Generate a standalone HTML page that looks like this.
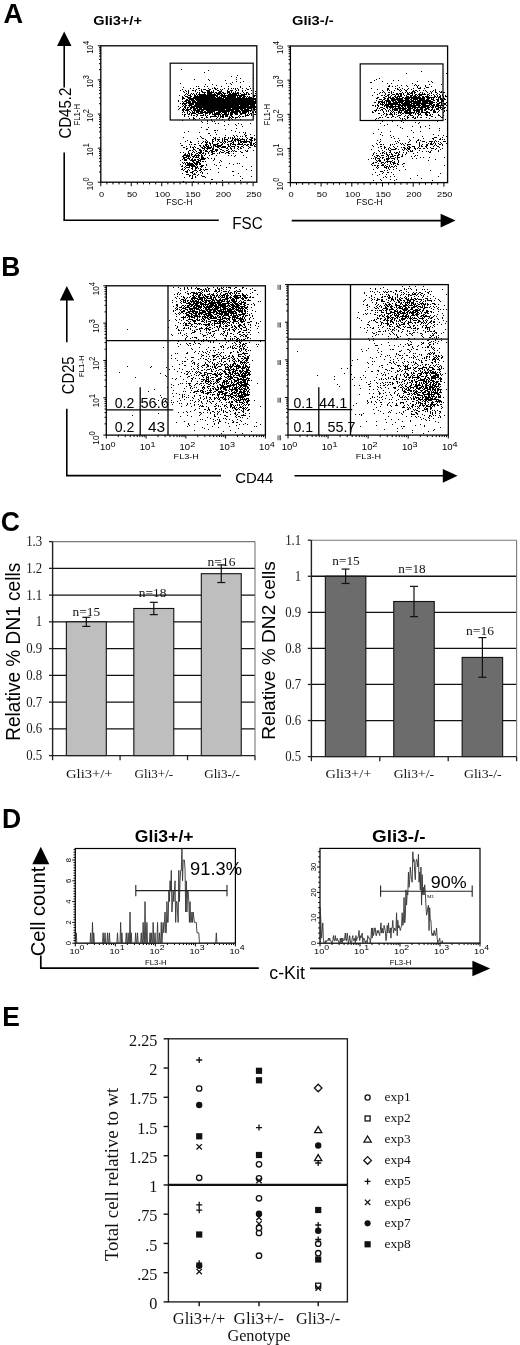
<!DOCTYPE html>
<html><head><meta charset="utf-8"><style>
html,body{margin:0;padding:0;background:#fff;}
body{width:520px;height:1345px;overflow:hidden;}
svg{display:block;filter:blur(0.35px);}
.S{font-family:"Liberation Sans", sans-serif;}
.R{font-family:"Liberation Serif", serif;}
</style></head><body>
<svg width="520" height="1345" viewBox="0 0 520 1345">
<rect width="520" height="1345" fill="#fff"/>
<text class="S" x="3.6" y="23.2" font-size="27.2" font-weight="bold" text-anchor="start" textLength="19.6" lengthAdjust="spacingAndGlyphs" fill="#000">A</text>
<text class="S" x="93.3" y="25" font-size="12.8" font-weight="bold" text-anchor="start" textLength="48.6" lengthAdjust="spacingAndGlyphs" fill="#000">Gli3+/+</text>
<text class="S" x="292" y="25" font-size="12.8" font-weight="bold" text-anchor="start" textLength="41.6" lengthAdjust="spacingAndGlyphs" fill="#000">Gli3-/-</text>
<line x1="64.2" y1="44" x2="64.2" y2="87.4" stroke="#000" stroke-width="1.6"/>
<line x1="64.2" y1="152.5" x2="64.2" y2="220.3" stroke="#000" stroke-width="1.6"/>
<line x1="63.4" y1="220.3" x2="218.8" y2="220.3" stroke="#000" stroke-width="1.6"/>
<polygon points="57,46 71.5,46 64.2,31.5" fill="#000"/>
<text class="S" x="70.6" y="138.6" font-size="15.8" text-anchor="start" textLength="51" lengthAdjust="spacingAndGlyphs" transform="rotate(-90 70.6 138.6)" fill="#000">CD45.2</text>
<text class="S" x="232.3" y="228.8" font-size="16.3" text-anchor="start" textLength="30.3" lengthAdjust="spacingAndGlyphs" fill="#000">FSC</text>
<line x1="291.7" y1="220.6" x2="442" y2="220.6" stroke="#000" stroke-width="1.6"/>
<polygon points="440.6,213.8 455.6,220.6 440.6,227.6" fill="#000"/>
<rect x="100.8" y="45.8" width="156" height="136.4" stroke="#000" stroke-width="1.3" fill="none"/>
<path d="M100.8 182.2h-3M100.8 171.93h-1.8M100.8 165.93h-1.8M100.8 161.67h-1.8M100.8 158.37h-1.8M100.8 155.67h-1.8M100.8 153.38h-1.8M100.8 151.4h-1.8M100.8 149.66h-1.8M100.8 148.1h-3M100.8 137.83h-1.8M100.8 131.83h-1.8M100.8 127.57h-1.8M100.8 124.27h-1.8M100.8 121.57h-1.8M100.8 119.28h-1.8M100.8 117.3h-1.8M100.8 115.56h-1.8M100.8 114h-3M100.8 103.73h-1.8M100.8 97.73h-1.8M100.8 93.47h-1.8M100.8 90.17h-1.8M100.8 87.47h-1.8M100.8 85.18h-1.8M100.8 83.2h-1.8M100.8 81.46h-1.8M100.8 79.9h-3M100.8 69.63h-1.8M100.8 63.63h-1.8M100.8 59.37h-1.8M100.8 56.07h-1.8M100.8 53.37h-1.8M100.8 51.08h-1.8M100.8 49.1h-1.8M100.8 47.36h-1.8M100.8 45.8h-3" stroke="#000" stroke-width="1" fill="none"/>
<path d="M100.8 182.2v4M106.89 182.2v2.2M112.99 182.2v2.2M119.08 182.2v2.2M125.17 182.2v2.2M131.27 182.2v4M137.36 182.2v2.2M143.46 182.2v2.2M149.55 182.2v2.2M155.64 182.2v2.2M161.74 182.2v4M167.83 182.2v2.2M173.93 182.2v2.2M180.02 182.2v2.2M186.11 182.2v2.2M192.21 182.2v4M198.3 182.2v2.2M204.39 182.2v2.2M210.49 182.2v2.2M216.58 182.2v2.2M222.68 182.2v4M228.77 182.2v2.2M234.86 182.2v2.2M240.96 182.2v2.2M247.05 182.2v2.2M253.14 182.2v4" stroke="#000" stroke-width="1" fill="none"/>
<text class="S" font-size="7.8" transform="translate(93 190.14) scale(1.1 1) rotate(-90)">10<tspan dy="-3.51" font-size="7.41">0</tspan></text>
<text class="S" font-size="7.8" transform="translate(93 156.04) scale(1.1 1) rotate(-90)">10<tspan dy="-3.51" font-size="7.41">1</tspan></text>
<text class="S" font-size="7.8" transform="translate(93 121.94) scale(1.1 1) rotate(-90)">10<tspan dy="-3.51" font-size="7.41">2</tspan></text>
<text class="S" font-size="7.8" transform="translate(93 87.84) scale(1.1 1) rotate(-90)">10<tspan dy="-3.51" font-size="7.41">3</tspan></text>
<text class="S" font-size="7.8" transform="translate(93 53.74) scale(1.1 1) rotate(-90)">10<tspan dy="-3.51" font-size="7.41">4</tspan></text>
<text class="S" x="101.6" y="196.8" font-size="7.9" text-anchor="middle" textLength="5.14" lengthAdjust="spacingAndGlyphs" fill="#000">0</text>
<text class="S" x="132.07" y="196.8" font-size="7.9" text-anchor="middle" textLength="10.28" lengthAdjust="spacingAndGlyphs" fill="#000">50</text>
<text class="S" x="162.54" y="196.8" font-size="7.9" text-anchor="middle" textLength="15.42" lengthAdjust="spacingAndGlyphs" fill="#000">100</text>
<text class="S" x="193.01" y="196.8" font-size="7.9" text-anchor="middle" textLength="15.42" lengthAdjust="spacingAndGlyphs" fill="#000">150</text>
<text class="S" x="223.48" y="196.8" font-size="7.9" text-anchor="middle" textLength="15.42" lengthAdjust="spacingAndGlyphs" fill="#000">200</text>
<text class="S" x="253.94" y="196.8" font-size="7.9" text-anchor="middle" textLength="15.42" lengthAdjust="spacingAndGlyphs" fill="#000">250</text>
<text class="S" x="79.8" y="125.6" font-size="8.2" text-anchor="start" textLength="21.6" lengthAdjust="spacingAndGlyphs" transform="rotate(-90 79.8 125.6)" fill="#000">FL1-H</text>
<text class="S" x="166.2" y="205" font-size="8.3" text-anchor="start" textLength="26.2" lengthAdjust="spacingAndGlyphs" fill="#000">FSC-H</text>
<rect x="290.4" y="46" width="157.2" height="136.6" stroke="#000" stroke-width="1.3" fill="none"/>
<path d="M290.4 182.6h-3M290.4 172.32h-1.8M290.4 166.31h-1.8M290.4 162.04h-1.8M290.4 158.73h-1.8M290.4 156.03h-1.8M290.4 153.74h-1.8M290.4 151.76h-1.8M290.4 150.01h-1.8M290.4 148.45h-3M290.4 138.17h-1.8M290.4 132.16h-1.8M290.4 127.89h-1.8M290.4 124.58h-1.8M290.4 121.88h-1.8M290.4 119.59h-1.8M290.4 117.61h-1.8M290.4 115.86h-1.8M290.4 114.3h-3M290.4 104.02h-1.8M290.4 98.01h-1.8M290.4 93.74h-1.8M290.4 90.43h-1.8M290.4 87.73h-1.8M290.4 85.44h-1.8M290.4 83.46h-1.8M290.4 81.71h-1.8M290.4 80.15h-3M290.4 69.87h-1.8M290.4 63.86h-1.8M290.4 59.59h-1.8M290.4 56.28h-1.8M290.4 53.58h-1.8M290.4 51.29h-1.8M290.4 49.31h-1.8M290.4 47.56h-1.8M290.4 46h-3" stroke="#000" stroke-width="1" fill="none"/>
<path d="M290.4 182.6v4M296.54 182.6v2.2M302.68 182.6v2.2M308.82 182.6v2.2M314.96 182.6v2.2M321.1 182.6v4M327.24 182.6v2.2M333.38 182.6v2.2M339.52 182.6v2.2M345.67 182.6v2.2M351.81 182.6v4M357.95 182.6v2.2M364.09 182.6v2.2M370.23 182.6v2.2M376.37 182.6v2.2M382.51 182.6v4M388.65 182.6v2.2M394.79 182.6v2.2M400.93 182.6v2.2M407.07 182.6v2.2M413.21 182.6v4M419.35 182.6v2.2M425.49 182.6v2.2M431.63 182.6v2.2M437.78 182.6v2.2M443.92 182.6v4" stroke="#000" stroke-width="1" fill="none"/>
<text class="S" font-size="7.8" transform="translate(282.8 190.54) scale(1.1 1) rotate(-90)">10<tspan dy="-3.51" font-size="7.41">0</tspan></text>
<text class="S" font-size="7.8" transform="translate(282.8 156.39) scale(1.1 1) rotate(-90)">10<tspan dy="-3.51" font-size="7.41">1</tspan></text>
<text class="S" font-size="7.8" transform="translate(282.8 122.24) scale(1.1 1) rotate(-90)">10<tspan dy="-3.51" font-size="7.41">2</tspan></text>
<text class="S" font-size="7.8" transform="translate(282.8 88.09) scale(1.1 1) rotate(-90)">10<tspan dy="-3.51" font-size="7.41">3</tspan></text>
<text class="S" font-size="7.8" transform="translate(282.8 53.94) scale(1.1 1) rotate(-90)">10<tspan dy="-3.51" font-size="7.41">4</tspan></text>
<text class="S" x="291.2" y="196.8" font-size="7.9" text-anchor="middle" textLength="5.14" lengthAdjust="spacingAndGlyphs" fill="#000">0</text>
<text class="S" x="321.9" y="196.8" font-size="7.9" text-anchor="middle" textLength="10.28" lengthAdjust="spacingAndGlyphs" fill="#000">50</text>
<text class="S" x="352.61" y="196.8" font-size="7.9" text-anchor="middle" textLength="15.42" lengthAdjust="spacingAndGlyphs" fill="#000">100</text>
<text class="S" x="383.31" y="196.8" font-size="7.9" text-anchor="middle" textLength="15.42" lengthAdjust="spacingAndGlyphs" fill="#000">150</text>
<text class="S" x="414.01" y="196.8" font-size="7.9" text-anchor="middle" textLength="15.42" lengthAdjust="spacingAndGlyphs" fill="#000">200</text>
<text class="S" x="444.72" y="196.8" font-size="7.9" text-anchor="middle" textLength="15.42" lengthAdjust="spacingAndGlyphs" fill="#000">250</text>
<text class="S" x="269.6" y="125.6" font-size="8.2" text-anchor="start" textLength="21.6" lengthAdjust="spacingAndGlyphs" transform="rotate(-90 269.6 125.6)" fill="#000">FL1-H</text>
<text class="S" x="356.6" y="205" font-size="8.3" text-anchor="start" textLength="26.2" lengthAdjust="spacingAndGlyphs" fill="#000">FSC-H</text>
<rect x="170.2" y="63.2" width="83" height="56.8" stroke="#000" stroke-width="1.2" fill="none"/>
<rect x="360.2" y="63.9" width="82.8" height="56.6" stroke="#000" stroke-width="1.2" fill="none"/>
<path d="M181 69.5h1M208 70.5h1M204 72.5h1M237 75.5h1M231 76.5h1M236 77.5h1M240 78.5h1m12 0h1M194 79.5h1m13 0h1m27 0h1M209 80.5h1m15 0h1M236 81.5h1m6 0h1M232 82.5h1m7 0h1M180 83.5h1m45 0h1m3 0h1M205 84.5h1m6 0h1m18 0h1M216 85.5h1M196 86.5h1m1 0h1m5 0h1m2 0h1m13 0h1m6 0h1m11 0h1m8 0h1M183 87.5h1m30 0h1m25 0h1M190 88.5h1m2 0h1m4 0h1m0 0h1m8 0h1m3 0h1m1 0h1m0 0h1m1 0h1m6 0h1m3 0h1m2 0h1m1 0h1m1 0h1m1 0h1m4 0h1m3 0h1m3 0h1m2 0h1M182 89.5h1m13 0h1m4 0h1m1 0h1m0 0h1m0 0h1m3 0h1m0 0h1m4 0h1m0 0h1m3 0h1m1 0h1m5 0h1m6 0h1m2 0h1m8 0h1m0 0h1M180 90.5h1m4 0h1m2 0h1m3 0h1m0 0h1m1 0h1m3 0h1m1 0h1m4 0h1m0 0h1m0 0h1m0 0h1m3 0h1m3 0h1m0 0h1m2 0h1m5 0h1m2 0h1m0 0h1m0 0h1m3 0h1m1 0h1m3 0h1m2 0h1m5 0h1M183 91.5h1m2 0h1m1 0h1m6 0h1m5 0h1m0 0h1m4 0h1m0 0h1m0 0h1m1 0h1m1 0h1m5 0h1m0 0h1m0 0h1m5 0h1m0 0h1m0 0h1m1 0h1m3 0h1m6 0h1m12 0h1M184 92.5h1m3 0h1m8 0h1m1 0h1m2 0h1m0 0h1m0 0h1m0 0h1m1 0h1m0 0h1m0 0h1m0 0h1m0 0h1m0 0h1m0 0h1m1 0h1m0 0h1m1 0h1m0 0h1m0 0h1m1 0h1m0 0h1m3 0h1m0 0h1m0 0h1m1 0h1m1 0h1m1 0h1m1 0h1m0 0h1m4 0h1m2 0h1m0 0h1M186 93.5h1m1 0h1m2 0h1m1 0h1m2 0h1m2 0h1m4 0h1m2 0h1m0 0h1m0 0h1m0 0h1m0 0h1m2 0h1m1 0h1m0 0h1m0 0h1m0 0h1m0 0h1m0 0h1m1 0h1m0 0h1m0 0h1m1 0h1m1 0h1m0 0h1m1 0h1m0 0h1m0 0h1m0 0h1m0 0h1m0 0h1m0 0h1m1 0h1m3 0h1m1 0h1m1 0h1m2 0h1m3 0h1M185 94.5h1m1 0h1m2 0h1m1 0h1m1 0h1m1 0h1m1 0h1m0 0h1m0 0h1m0 0h1m0 0h1m0 0h1m0 0h1m0 0h1m1 0h1m0 0h1m0 0h1m0 0h1m0 0h1m0 0h1m0 0h1m0 0h1m0 0h1m1 0h1m0 0h1m0 0h1m1 0h1m0 0h1m1 0h1m3 0h1m0 0h1m0 0h1m0 0h1m0 0h1m0 0h1m0 0h1m0 0h1m0 0h1m1 0h1m2 0h1m0 0h1m0 0h1m0 0h1m0 0h1m0 0h1m1 0h1m0 0h1M179 95.5h1m4 0h1m3 0h1m0 0h1m0 0h1m3 0h1m0 0h1m1 0h1m1 0h1m0 0h1m0 0h1m0 0h1m0 0h1m0 0h1m0 0h1m0 0h1m0 0h1m0 0h1m0 0h1m0 0h1m0 0h1m0 0h1m0 0h1m0 0h1m0 0h1m0 0h1m0 0h1m2 0h1m0 0h1m0 0h1m0 0h1m0 0h1m0 0h1m0 0h1m0 0h1m0 0h1m0 0h1m0 0h1m0 0h1m0 0h1m0 0h1m0 0h1m0 0h1m0 0h1m0 0h1m0 0h1m0 0h1m0 0h1m0 0h1m0 0h1m0 0h1m0 0h1m8 0h1m0 0h1m0 0h1M182 96.5h1m2 0h1m0 0h1m0 0h1m2 0h1m0 0h1m2 0h1m0 0h1m0 0h1m0 0h1m0 0h1m0 0h1m0 0h1m0 0h1m0 0h1m0 0h1m0 0h1m0 0h1m0 0h1m0 0h1m0 0h1m0 0h1m0 0h1m0 0h1m0 0h1m0 0h1m0 0h1m1 0h1m0 0h1m1 0h1m1 0h1m0 0h1m0 0h1m0 0h1m0 0h1m1 0h1m0 0h1m0 0h1m0 0h1m0 0h1m0 0h1m0 0h1m0 0h1m0 0h1m1 0h1m1 0h1m0 0h1m0 0h1m1 0h1m0 0h1m0 0h1m1 0h1m1 0h1m3 0h1m0 0h1m1 0h1M182 97.5h1m0 0h1m3 0h1m0 0h1m0 0h1m0 0h1m2 0h1m0 0h1m0 0h1m0 0h1m0 0h1m0 0h1m0 0h1m0 0h1m0 0h1m0 0h1m0 0h1m0 0h1m0 0h1m0 0h1m0 0h1m0 0h1m0 0h1m0 0h1m0 0h1m0 0h1m0 0h1m0 0h1m0 0h1m1 0h1m0 0h1m0 0h1m0 0h1m0 0h1m1 0h1m0 0h1m0 0h1m0 0h1m0 0h1m0 0h1m0 0h1m0 0h1m0 0h1m0 0h1m0 0h1m0 0h1m0 0h1m1 0h1m0 0h1m0 0h1m0 0h1m1 0h1m0 0h1m0 0h1m1 0h1m1 0h1m0 0h1m0 0h1m0 0h1m1 0h1M182 98.5h1m0 0h1m0 0h1m3 0h1m0 0h1m0 0h1m0 0h1m0 0h1m0 0h1m0 0h1m0 0h1m0 0h1m0 0h1m0 0h1m0 0h1m0 0h1m0 0h1m0 0h1m0 0h1m0 0h1m0 0h1m0 0h1m0 0h1m0 0h1m0 0h1m0 0h1m0 0h1m0 0h1m0 0h1m0 0h1m0 0h1m0 0h1m0 0h1m0 0h1m0 0h1m0 0h1m0 0h1m0 0h1m0 0h1m1 0h1m0 0h1m0 0h1m0 0h1m0 0h1m0 0h1m0 0h1m0 0h1m0 0h1m0 0h1m0 0h1m0 0h1m0 0h1m0 0h1m0 0h1m0 0h1m0 0h1m0 0h1m0 0h1m0 0h1m0 0h1m0 0h1m0 0h1m0 0h1m0 0h1m0 0h1m0 0h1m0 0h1m0 0h1m0 0h1m0 0h1M182 99.5h1m3 0h1m0 0h1m1 0h1m0 0h1m0 0h1m0 0h1m0 0h1m1 0h1m0 0h1m0 0h1m0 0h1m0 0h1m0 0h1m0 0h1m0 0h1m0 0h1m0 0h1m0 0h1m0 0h1m0 0h1m0 0h1m0 0h1m0 0h1m0 0h1m0 0h1m0 0h1m0 0h1m0 0h1m0 0h1m0 0h1m0 0h1m0 0h1m0 0h1m0 0h1m0 0h1m0 0h1m0 0h1m0 0h1m0 0h1m0 0h1m0 0h1m0 0h1m0 0h1m0 0h1m0 0h1m0 0h1m0 0h1m0 0h1m0 0h1m0 0h1m0 0h1m0 0h1m0 0h1m0 0h1m0 0h1m0 0h1m0 0h1m0 0h1m0 0h1m0 0h1m0 0h1m0 0h1m0 0h1m0 0h1m0 0h1m0 0h1m0 0h1m0 0h1M178 100.5h1m6 0h1m0 0h1m0 0h1m0 0h1m0 0h1m1 0h1m0 0h1m0 0h1m0 0h1m1 0h1m0 0h1m0 0h1m0 0h1m0 0h1m0 0h1m0 0h1m0 0h1m0 0h1m0 0h1m0 0h1m0 0h1m0 0h1m0 0h1m0 0h1m0 0h1m0 0h1m0 0h1m0 0h1m0 0h1m0 0h1m0 0h1m0 0h1m0 0h1m0 0h1m0 0h1m0 0h1m0 0h1m0 0h1m0 0h1m0 0h1m0 0h1m0 0h1m0 0h1m0 0h1m0 0h1m0 0h1m0 0h1m0 0h1m0 0h1m0 0h1m0 0h1m0 0h1m0 0h1m0 0h1m0 0h1m0 0h1m0 0h1m0 0h1m0 0h1m0 0h1m0 0h1m0 0h1m0 0h1m0 0h1m0 0h1m0 0h1m0 0h1m1 0h1M178 101.5h1m3 0h1m1 0h1m0 0h1m0 0h1m1 0h1m0 0h1m0 0h1m1 0h1m0 0h1m0 0h1m0 0h1m1 0h1m0 0h1m0 0h1m0 0h1m0 0h1m0 0h1m0 0h1m0 0h1m0 0h1m0 0h1m0 0h1m0 0h1m0 0h1m0 0h1m0 0h1m0 0h1m0 0h1m0 0h1m0 0h1m0 0h1m0 0h1m0 0h1m0 0h1m0 0h1m0 0h1m0 0h1m0 0h1m0 0h1m0 0h1m0 0h1m0 0h1m0 0h1m0 0h1m0 0h1m0 0h1m0 0h1m0 0h1m0 0h1m0 0h1m0 0h1m0 0h1m0 0h1m0 0h1m0 0h1m0 0h1m0 0h1m0 0h1m0 0h1m0 0h1m0 0h1m0 0h1m0 0h1m0 0h1m0 0h1m0 0h1m0 0h1m0 0h1m0 0h1m0 0h1M183 102.5h1m2 0h1m0 0h1m0 0h1m0 0h1m0 0h1m1 0h1m0 0h1m0 0h1m0 0h1m0 0h1m0 0h1m0 0h1m0 0h1m0 0h1m0 0h1m0 0h1m0 0h1m0 0h1m0 0h1m0 0h1m0 0h1m0 0h1m0 0h1m0 0h1m0 0h1m0 0h1m0 0h1m0 0h1m0 0h1m0 0h1m0 0h1m0 0h1m0 0h1m0 0h1m0 0h1m0 0h1m0 0h1m0 0h1m0 0h1m0 0h1m0 0h1m0 0h1m0 0h1m0 0h1m0 0h1m0 0h1m0 0h1m0 0h1m0 0h1m0 0h1m0 0h1m0 0h1m0 0h1m0 0h1m0 0h1m0 0h1m0 0h1m0 0h1m0 0h1m0 0h1m0 0h1m0 0h1m0 0h1m0 0h1m0 0h1m0 0h1m0 0h1m0 0h1m0 0h1M180 103.5h1m1 0h1m0 0h1m0 0h1m0 0h1m0 0h1m1 0h1m0 0h1m0 0h1m0 0h1m0 0h1m0 0h1m1 0h1m0 0h1m0 0h1m0 0h1m0 0h1m0 0h1m0 0h1m0 0h1m0 0h1m0 0h1m0 0h1m0 0h1m0 0h1m0 0h1m0 0h1m0 0h1m0 0h1m0 0h1m0 0h1m0 0h1m0 0h1m0 0h1m0 0h1m0 0h1m0 0h1m0 0h1m0 0h1m0 0h1m0 0h1m0 0h1m0 0h1m0 0h1m0 0h1m0 0h1m0 0h1m0 0h1m0 0h1m0 0h1m0 0h1m0 0h1m0 0h1m0 0h1m0 0h1m0 0h1m0 0h1m0 0h1m0 0h1m0 0h1m0 0h1m0 0h1m0 0h1m0 0h1m0 0h1m0 0h1m0 0h1m0 0h1m0 0h1m0 0h1m0 0h1m0 0h1m0 0h1M182 104.5h1m1 0h1m0 0h1m3 0h1m0 0h1m0 0h1m0 0h1m0 0h1m1 0h1m0 0h1m0 0h1m0 0h1m0 0h1m0 0h1m0 0h1m0 0h1m0 0h1m0 0h1m0 0h1m0 0h1m0 0h1m0 0h1m0 0h1m0 0h1m0 0h1m0 0h1m0 0h1m0 0h1m0 0h1m0 0h1m0 0h1m0 0h1m0 0h1m0 0h1m0 0h1m0 0h1m0 0h1m0 0h1m0 0h1m0 0h1m0 0h1m0 0h1m0 0h1m0 0h1m0 0h1m0 0h1m0 0h1m0 0h1m0 0h1m0 0h1m0 0h1m0 0h1m0 0h1m0 0h1m0 0h1m0 0h1m0 0h1m0 0h1m0 0h1m0 0h1m0 0h1m0 0h1m0 0h1m0 0h1m0 0h1m0 0h1m0 0h1m0 0h1M183 105.5h1m1 0h1m0 0h1m1 0h1m0 0h1m0 0h1m0 0h1m2 0h1m0 0h1m0 0h1m0 0h1m0 0h1m0 0h1m0 0h1m0 0h1m0 0h1m0 0h1m0 0h1m0 0h1m0 0h1m0 0h1m0 0h1m0 0h1m0 0h1m0 0h1m0 0h1m0 0h1m0 0h1m0 0h1m0 0h1m0 0h1m0 0h1m0 0h1m0 0h1m0 0h1m0 0h1m0 0h1m0 0h1m0 0h1m0 0h1m0 0h1m0 0h1m0 0h1m0 0h1m0 0h1m0 0h1m0 0h1m0 0h1m0 0h1m0 0h1m0 0h1m0 0h1m1 0h1m0 0h1m0 0h1m0 0h1m0 0h1m0 0h1m0 0h1m0 0h1m0 0h1m1 0h1m0 0h1m0 0h1m0 0h1m0 0h1M178 106.5h1m3 0h1m1 0h1m0 0h1m3 0h1m1 0h1m0 0h1m0 0h1m0 0h1m0 0h1m0 0h1m0 0h1m0 0h1m0 0h1m0 0h1m0 0h1m0 0h1m0 0h1m0 0h1m0 0h1m0 0h1m0 0h1m0 0h1m0 0h1m0 0h1m0 0h1m0 0h1m0 0h1m0 0h1m0 0h1m0 0h1m0 0h1m0 0h1m0 0h1m0 0h1m0 0h1m0 0h1m0 0h1m0 0h1m0 0h1m0 0h1m0 0h1m0 0h1m0 0h1m0 0h1m0 0h1m0 0h1m0 0h1m0 0h1m0 0h1m0 0h1m0 0h1m0 0h1m0 0h1m0 0h1m0 0h1m0 0h1m0 0h1m0 0h1m0 0h1m0 0h1m0 0h1m0 0h1m0 0h1m0 0h1m0 0h1m0 0h1m0 0h1m0 0h1m0 0h1M180 107.5h1m3 0h1m0 0h1m1 0h1m0 0h1m1 0h1m0 0h1m0 0h1m0 0h1m0 0h1m1 0h1m0 0h1m0 0h1m0 0h1m0 0h1m0 0h1m0 0h1m0 0h1m0 0h1m0 0h1m0 0h1m0 0h1m0 0h1m0 0h1m0 0h1m0 0h1m0 0h1m0 0h1m0 0h1m0 0h1m0 0h1m0 0h1m0 0h1m0 0h1m0 0h1m0 0h1m0 0h1m0 0h1m0 0h1m0 0h1m0 0h1m0 0h1m0 0h1m0 0h1m0 0h1m0 0h1m0 0h1m0 0h1m0 0h1m0 0h1m0 0h1m0 0h1m0 0h1m0 0h1m0 0h1m0 0h1m0 0h1m0 0h1m0 0h1m0 0h1m0 0h1m0 0h1m0 0h1m0 0h1m0 0h1m0 0h1m0 0h1m0 0h1m0 0h1m0 0h1m0 0h1M179 108.5h1m3 0h1m1 0h1m1 0h1m2 0h1m0 0h1m1 0h1m0 0h1m0 0h1m0 0h1m0 0h1m1 0h1m0 0h1m0 0h1m1 0h1m0 0h1m0 0h1m0 0h1m0 0h1m0 0h1m0 0h1m0 0h1m0 0h1m0 0h1m0 0h1m0 0h1m0 0h1m0 0h1m0 0h1m0 0h1m0 0h1m0 0h1m0 0h1m0 0h1m0 0h1m0 0h1m0 0h1m0 0h1m0 0h1m0 0h1m0 0h1m0 0h1m1 0h1m0 0h1m0 0h1m0 0h1m0 0h1m0 0h1m0 0h1m0 0h1m0 0h1m0 0h1m0 0h1m0 0h1m0 0h1m0 0h1m1 0h1m0 0h1m0 0h1m0 0h1m0 0h1m1 0h1m0 0h1M178 109.5h1m3 0h1m0 0h1m0 0h1m1 0h1m0 0h1m0 0h1m0 0h1m0 0h1m2 0h1m0 0h1m0 0h1m1 0h1m0 0h1m0 0h1m0 0h1m0 0h1m0 0h1m0 0h1m0 0h1m0 0h1m0 0h1m0 0h1m0 0h1m0 0h1m0 0h1m0 0h1m0 0h1m0 0h1m0 0h1m0 0h1m0 0h1m0 0h1m0 0h1m0 0h1m0 0h1m0 0h1m0 0h1m0 0h1m0 0h1m1 0h1m0 0h1m0 0h1m0 0h1m0 0h1m0 0h1m0 0h1m0 0h1m0 0h1m0 0h1m0 0h1m0 0h1m0 0h1m1 0h1m0 0h1m0 0h1m1 0h1m0 0h1m0 0h1m0 0h1m0 0h1m2 0h1m1 0h1m0 0h1m0 0h1M182 110.5h1m0 0h1m1 0h1m0 0h1m0 0h1m0 0h1m2 0h1m1 0h1m0 0h1m0 0h1m0 0h1m0 0h1m0 0h1m0 0h1m1 0h1m0 0h1m0 0h1m2 0h1m0 0h1m0 0h1m0 0h1m0 0h1m0 0h1m0 0h1m0 0h1m0 0h1m0 0h1m0 0h1m0 0h1m0 0h1m0 0h1m0 0h1m0 0h1m0 0h1m0 0h1m0 0h1m0 0h1m0 0h1m0 0h1m0 0h1m0 0h1m0 0h1m0 0h1m0 0h1m0 0h1m1 0h1m0 0h1m0 0h1m0 0h1m0 0h1m1 0h1m0 0h1m0 0h1m0 0h1m0 0h1m0 0h1m0 0h1m0 0h1m0 0h1m0 0h1m0 0h1m2 0h1M183 111.5h1m3 0h1m1 0h1m2 0h1m1 0h1m1 0h1m0 0h1m0 0h1m0 0h1m0 0h1m0 0h1m0 0h1m1 0h1m0 0h1m1 0h1m0 0h1m0 0h1m0 0h1m0 0h1m0 0h1m0 0h1m0 0h1m3 0h1m0 0h1m0 0h1m0 0h1m0 0h1m0 0h1m0 0h1m0 0h1m0 0h1m0 0h1m0 0h1m0 0h1m1 0h1m0 0h1m0 0h1m0 0h1m0 0h1m0 0h1m0 0h1m0 0h1m0 0h1m0 0h1m1 0h1m0 0h1m0 0h1m0 0h1m0 0h1m0 0h1m0 0h1m1 0h1m1 0h1m2 0h1M182 112.5h1m1 0h1m2 0h1m2 0h1m1 0h1m0 0h1m0 0h1m1 0h1m0 0h1m0 0h1m1 0h1m0 0h1m0 0h1m0 0h1m0 0h1m0 0h1m0 0h1m0 0h1m0 0h1m0 0h1m0 0h1m0 0h1m0 0h1m1 0h1m1 0h1m0 0h1m0 0h1m0 0h1m0 0h1m1 0h1m0 0h1m0 0h1m0 0h1m0 0h1m1 0h1m1 0h1m0 0h1m0 0h1m0 0h1m0 0h1m0 0h1m0 0h1m0 0h1m1 0h1m0 0h1m1 0h1m0 0h1m0 0h1m0 0h1m0 0h1m1 0h1m3 0h1m0 0h1m1 0h1M187 113.5h1m1 0h1m1 0h1m0 0h1m0 0h1m0 0h1m0 0h1m2 0h1m0 0h1m0 0h1m0 0h1m0 0h1m2 0h1m0 0h1m0 0h1m1 0h1m0 0h1m1 0h1m1 0h1m0 0h1m0 0h1m0 0h1m0 0h1m0 0h1m1 0h1m2 0h1m0 0h1m0 0h1m1 0h1m1 0h1m0 0h1m0 0h1m1 0h1m0 0h1m0 0h1m0 0h1m2 0h1m0 0h1m0 0h1m0 0h1m0 0h1m0 0h1m2 0h1m1 0h1m0 0h1M182 114.5h1m1 0h1m0 0h1m2 0h1m0 0h1m1 0h1m4 0h1m0 0h1m5 0h1m1 0h1m3 0h1m2 0h1m0 0h1m0 0h1m0 0h1m0 0h1m0 0h1m0 0h1m0 0h1m0 0h1m1 0h1m0 0h1m0 0h1m0 0h1m0 0h1m0 0h1m0 0h1m1 0h1m0 0h1m0 0h1m2 0h1m0 0h1m0 0h1m2 0h1m0 0h1m3 0h1m1 0h1m1 0h1m1 0h1m2 0h1m0 0h1M184 115.5h1m6 0h1m1 0h1m0 0h1m2 0h1m2 0h1m0 0h1m0 0h1m0 0h1m1 0h1m1 0h1m6 0h1m0 0h1m2 0h1m1 0h1m1 0h1m0 0h1m1 0h1m0 0h1m0 0h1m2 0h1m0 0h1m7 0h1m5 0h1m0 0h1m0 0h1m0 0h1m2 0h1M184 116.5h1m3 0h1m7 0h1m9 0h1m3 0h1m0 0h1m0 0h1m0 0h1m0 0h1m0 0h1m0 0h1m1 0h1m1 0h1m0 0h1m0 0h1m0 0h1m1 0h1m0 0h1m0 0h1m1 0h1m1 0h1m0 0h1m5 0h1m1 0h1m1 0h1m0 0h1m1 0h1m7 0h1M193 117.5h1m7 0h1m0 0h1m3 0h1m0 0h1m2 0h1m6 0h1m2 0h1m1 0h1m0 0h1m5 0h1m0 0h1m1 0h1m0 0h1m1 0h1m0 0h1m0 0h1m1 0h1M189 118.5h1m3 0h1m0 0h1m4 0h1m4 0h1m11 0h1m2 0h1m8 0h1m0 0h1m1 0h1m3 0h1M193 119.5h1m1 0h1m15 0h1m10 0h1m5 0h1m3 0h1m7 0h1M182 120.5h1m24 0h1m3 0h1m17 0h1M201 121.5h1m5 0h1m4 0h1m1 0h1m9 0h1M202 122.5h1M207 123.5h1m7 0h1m2 0h1m19 0h1m11 0h1M228 124.5h1m6 0h1m5 0h1M224 125.5h1m11 0h1M242 126.5h1M201 127.5h1m6 0h1M236 128.5h1M206 129.5h1m0 0h1m17 0h1M214 130.5h1m0 0h1m1 0h1m13 0h1M188 131.5h1m46 0h1M184 132.5h1m14 0h1m15 0h1m23 0h1m3 0h1m1 0h1M208 133.5h1m0 0h1m35 0h1M216 134.5h1m27 0h1m5 0h1M210 135.5h1m14 0h1m7 0h1m2 0h1m8 0h1m0 0h1m7 0h1M200 136.5h1m33 0h1m2 0h1m2 0h1m1 0h1m2 0h1M183 137.5h1m17 0h1m11 0h1m1 0h1m3 0h1m4 0h1m0 0h1m2 0h1m1 0h1m1 0h1m1 0h1m11 0h1m3 0h1m0 0h1m0 0h1M197 138.5h1m4 0h1m0 0h1m10 0h1m0 0h1m6 0h1m1 0h1m3 0h1m1 0h1m1 0h1m0 0h1m1 0h1m1 0h1m1 0h1m2 0h1m4 0h1m3 0h1m0 0h1m1 0h1M205 139.5h1m6 0h1m0 0h1m1 0h1m1 0h1m0 0h1m0 0h1m2 0h1m1 0h1m0 0h1m0 0h1m0 0h1m4 0h1m1 0h1m0 0h1m0 0h1m0 0h1m0 0h1m1 0h1m0 0h1m0 0h1m0 0h1m0 0h1m1 0h1m2 0h1m0 0h1m0 0h1m2 0h1m0 0h1M187 140.5h1m18 0h1m5 0h1m2 0h1m2 0h1m3 0h1m1 0h1m2 0h1m3 0h1m0 0h1m1 0h1m0 0h1m1 0h1m0 0h1m0 0h1m0 0h1m3 0h1m1 0h1m3 0h1m0 0h1m0 0h1m1 0h1M185 141.5h1m4 0h1m7 0h1m4 0h1m1 0h1m1 0h1m4 0h1m0 0h1m3 0h1m1 0h1m2 0h1m1 0h1m0 0h1m2 0h1m0 0h1m0 0h1m0 0h1m1 0h1m1 0h1m2 0h1m1 0h1m0 0h1m0 0h1m0 0h1m0 0h1m0 0h1m0 0h1m0 0h1m0 0h1m0 0h1m1 0h1M190 142.5h1m0 0h1m10 0h1m2 0h1m0 0h1m0 0h1m1 0h1m2 0h1m7 0h1m0 0h1m1 0h1m1 0h1m1 0h1m4 0h1m0 0h1m4 0h1m1 0h1m0 0h1m1 0h1m0 0h1m0 0h1m0 0h1m2 0h1m0 0h1m0 0h1m3 0h1M180 143.5h1m17 0h1m2 0h1m4 0h1m2 0h1m0 0h1m1 0h1m4 0h1m0 0h1m3 0h1m1 0h1m5 0h1m0 0h1m1 0h1m4 0h1m0 0h1m2 0h1m7 0h1m0 0h1m1 0h1m0 0h1M189 144.5h1m1 0h1m2 0h1m0 0h1m9 0h1m0 0h1m0 0h1m2 0h1m2 0h1m0 0h1m0 0h1m0 0h1m0 0h1m3 0h1m0 0h1m4 0h1m0 0h1m1 0h1m1 0h1m0 0h1m0 0h1m0 0h1m1 0h1m0 0h1m0 0h1m0 0h1m0 0h1m0 0h1m1 0h1m0 0h1m1 0h1m0 0h1m1 0h1m0 0h1m1 0h1m1 0h1M181 145.5h1m0 0h1m16 0h1m0 0h1m2 0h1m1 0h1m0 0h1m1 0h1m1 0h1m2 0h1m0 0h1m0 0h1m1 0h1m0 0h1m0 0h1m0 0h1m0 0h1m6 0h1m1 0h1m4 0h1m7 0h1m2 0h1m0 0h1m2 0h1m0 0h1m0 0h1m1 0h1M186 146.5h1m3 0h1m3 0h1m5 0h1m2 0h1m0 0h1m1 0h1m0 0h1m0 0h1m2 0h1m1 0h1m1 0h1m0 0h1m0 0h1m0 0h1m0 0h1m0 0h1m1 0h1m0 0h1m0 0h1m0 0h1m2 0h1m0 0h1m1 0h1m0 0h1m0 0h1m0 0h1m2 0h1m0 0h1m2 0h1m0 0h1m5 0h1m5 0h1m0 0h1M183 147.5h1m0 0h1m5 0h1m1 0h1m0 0h1m1 0h1m5 0h1m0 0h1m1 0h1m0 0h1m1 0h1m0 0h1m0 0h1m0 0h1m0 0h1m1 0h1m3 0h1m0 0h1m2 0h1m0 0h1m0 0h1m0 0h1m0 0h1m1 0h1m2 0h1m3 0h1m3 0h1m1 0h1m2 0h1m5 0h1m0 0h1M186 148.5h1m0 0h1m5 0h1m3 0h1m0 0h1m3 0h1m0 0h1m0 0h1m1 0h1m0 0h1m0 0h1m0 0h1m0 0h1m1 0h1m0 0h1m5 0h1m6 0h1m0 0h1m2 0h1m0 0h1m2 0h1m2 0h1m2 0h1m0 0h1m6 0h1M186 149.5h1m6 0h1m0 0h1m4 0h1m0 0h1m3 0h1m2 0h1m4 0h1m0 0h1m1 0h1m0 0h1m0 0h1m2 0h1m0 0h1m6 0h1m2 0h1m6 0h1M189 150.5h1m0 0h1m1 0h1m2 0h1m3 0h1m0 0h1m0 0h1m1 0h1m1 0h1m0 0h1m3 0h1m0 0h1m0 0h1m2 0h1m0 0h1m0 0h1m4 0h1m0 0h1m2 0h1m0 0h1m4 0h1m1 0h1m10 0h1m1 0h1m5 0h1M188 151.5h1m4 0h1m2 0h1m3 0h1m0 0h1m3 0h1m0 0h1m0 0h1m1 0h1m1 0h1m0 0h1m0 0h1m0 0h1m1 0h1m3 0h1m3 0h1m3 0h1m0 0h1m1 0h1m1 0h1m1 0h1m0 0h1m3 0h1m5 0h1m0 0h1M180 152.5h1m2 0h1m4 0h1m3 0h1m1 0h1m3 0h1m0 0h1m0 0h1m0 0h1m1 0h1m4 0h1m2 0h1m0 0h1m6 0h1m1 0h1m0 0h1m0 0h1m2 0h1m0 0h1m0 0h1m12 0h1m0 0h1M185 153.5h1m2 0h1m0 0h1m1 0h1m4 0h1m0 0h1m1 0h1m0 0h1m1 0h1m0 0h1m1 0h1m2 0h1m3 0h1m0 0h1m0 0h1m2 0h1m1 0h1m5 0h1m2 0h1m0 0h1m3 0h1M184 154.5h1m0 0h1m1 0h1m1 0h1m1 0h1m0 0h1m2 0h1m2 0h1m2 0h1m3 0h1m5 0h1m0 0h1M183 155.5h1m0 0h1m0 0h1m0 0h1m0 0h1m0 0h1m0 0h1m1 0h1m2 0h1m0 0h1m0 0h1m0 0h1m0 0h1m0 0h1m1 0h1m0 0h1m1 0h1m4 0h1m6 0h1m11 0h1m2 0h1m3 0h1m7 0h1M182 156.5h1m0 0h1m2 0h1m0 0h1m0 0h1m0 0h1m2 0h1m0 0h1m0 0h1m1 0h1m1 0h1m2 0h1m0 0h1m31 0h1M183 157.5h1m0 0h1m0 0h1m0 0h1m1 0h1m1 0h1m2 0h1m1 0h1m0 0h1m0 0h1m0 0h1m2 0h1m0 0h1m0 0h1m3 0h1m38 0h1M183 158.5h1m0 0h1m2 0h1m0 0h1m0 0h1m2 0h1m6 0h1m1 0h1m0 0h1m0 0h1m0 0h1m0 0h1m2 0h1m2 0h1m2 0h1M182 159.5h1m1 0h1m0 0h1m0 0h1m2 0h1m1 0h1m0 0h1m1 0h1m0 0h1m1 0h1m0 0h1m1 0h1m0 0h1m0 0h1m0 0h1m0 0h1m9 0h1M180 160.5h1m3 0h1m0 0h1m0 0h1m3 0h1m0 0h1m0 0h1m0 0h1m0 0h1m0 0h1m2 0h1m0 0h1m0 0h1m12 0h1m6 0h1M192 161.5h1m0 0h1m2 0h1m0 0h1m0 0h1m1 0h1m1 0h1m0 0h1m1 0h1m15 0h1M182 162.5h1m1 0h1m1 0h1m0 0h1m1 0h1m3 0h1m0 0h1m1 0h1m0 0h1m0 0h1m0 0h1m19 0h1M183 163.5h1m1 0h1m1 0h1m0 0h1m0 0h1m0 0h1m0 0h1m0 0h1m1 0h1m0 0h1m0 0h1m0 0h1m1 0h1m0 0h1m28 0h1m7 0h1m1 0h1M180 164.5h1m4 0h1m1 0h1m0 0h1m0 0h1m0 0h1m0 0h1m0 0h1m0 0h1m1 0h1m0 0h1m0 0h1m1 0h1m0 0h1m5 0h1m7 0h1m18 0h1M182 165.5h1m3 0h1m0 0h1m0 0h1m0 0h1m0 0h1m0 0h1m0 0h1m0 0h1m0 0h1m1 0h1m4 0h1m0 0h1m0 0h1m2 0h1m9 0h1m3 0h1M181 166.5h1m0 0h1m2 0h1m3 0h1m1 0h1m0 0h1m0 0h1m0 0h1m0 0h1m1 0h1m2 0h1m0 0h1m0 0h1m39 0h1m8 0h1M184 167.5h1m1 0h1m0 0h1m0 0h1m0 0h1m2 0h1m2 0h1m0 0h1m0 0h1m3 0h1m3 0h1m20 0h1M182 168.5h1m2 0h1m5 0h1m0 0h1m2 0h1m0 0h1m1 0h1m1 0h1m17 0h1M181 169.5h1m0 0h1m1 0h1m3 0h1m3 0h1m2 0h1m4 0h1m0 0h1m1 0h1m1 0h1m0 0h1m0 0h1m2 0h1m35 0h1M183 170.5h1m3 0h1m1 0h1m4 0h1m0 0h1m0 0h1m2 0h1m0 0h1m3 0h1m46 0h1M185 171.5h1m0 0h1m0 0h1m4 0h1m0 0h1m3 0h1m3 0h1m30 0h1m0 0h1M186 172.5h1m0 0h1m2 0h1m0 0h1m0 0h1m3 0h1m3 0h1m1 0h1m15 0h1M182 173.5h1m9 0h1m1 0h1m7 0h1m4 0h1m30 0h1M186 174.5h1m0 0h1m0 0h1m4 0h1m0 0h1m0 0h1m2 0h1M189 175.5h1m0 0h1m1 0h1m4 0h1m3 0h1m31 0h1M189 176.5h1m2 0h1m2 0h1m6 0h1m0 0h1m0 0h1m35 0h1m10 0h1M184 177.5h1m7 0h1m2 0h1m9 0h1M191 178.5h1m0 0h1m49 0h1M211 179.5h1m0 0h1M222 180.5h1m17 0h1M183 181.5h1m9 0h1" stroke="#000" stroke-width="1" fill="none"/>
<path d="M421 71.5h1M406 73.5h1m39 0h1M379 78.5h1M376 79.5h1M374 80.5h1m18 0h1m4 0h1M382 81.5h1m34 0h1m10 0h1m2 0h1M370 82.5h1m0 0h1m60 0h1M387 83.5h1m3 0h1m20 0h1M415 84.5h1m13 0h1m11 0h1M389 85.5h1m7 0h1m3 0h1m4 0h1m7 0h1m1 0h1m1 0h1m6 0h1M388 86.5h1m0 0h1m2 0h1m2 0h1m11 0h1m9 0h1m7 0h1m5 0h1M399 87.5h1m17 0h1m2 0h1m5 0h1m0 0h1m0 0h1M371 88.5h1m15 0h1m0 0h1m6 0h1m1 0h1m4 0h1m5 0h1m4 0h1m4 0h1m0 0h1m0 0h1m3 0h1M377 89.5h1m9 0h1m0 0h1m8 0h1m0 0h1m1 0h1m3 0h1m2 0h1m3 0h1m23 0h1M382 90.5h1m4 0h1m1 0h1m4 0h1m4 0h1m1 0h1m3 0h1m0 0h1m6 0h1m1 0h1m0 0h1m2 0h1m3 0h1m1 0h1m7 0h1m1 0h1M383 91.5h1m7 0h1m8 0h1m5 0h1m5 0h1m0 0h1m0 0h1m2 0h1m8 0h1m3 0h1m1 0h1m2 0h1m3 0h1m1 0h1M374 92.5h1m5 0h1m1 0h1m1 0h1m3 0h1m0 0h1m1 0h1m1 0h1m8 0h1m2 0h1m1 0h1m1 0h1m1 0h1m0 0h1m1 0h1m0 0h1m4 0h1m1 0h1m4 0h1m3 0h1m3 0h1m0 0h1m3 0h1m0 0h1m1 0h1m0 0h1M379 93.5h1m5 0h1m5 0h1m4 0h1m0 0h1m1 0h1m0 0h1m0 0h1m1 0h1m3 0h1m0 0h1m1 0h1m0 0h1m0 0h1m1 0h1m4 0h1m2 0h1m1 0h1m4 0h1m1 0h1m5 0h1M377 94.5h1m7 0h1m2 0h1m0 0h1m2 0h1m0 0h1m0 0h1m1 0h1m0 0h1m0 0h1m1 0h1m0 0h1m1 0h1m3 0h1m0 0h1m0 0h1m2 0h1m2 0h1m0 0h1m1 0h1m0 0h1m0 0h1m0 0h1m0 0h1m0 0h1m0 0h1m0 0h1m1 0h1m0 0h1m4 0h1m2 0h1m2 0h1m2 0h1M372 95.5h1m8 0h1m0 0h1m1 0h1m2 0h1m0 0h1m2 0h1m3 0h1m2 0h1m1 0h1m0 0h1m2 0h1m1 0h1m3 0h1m0 0h1m0 0h1m1 0h1m0 0h1m1 0h1m1 0h1m0 0h1m0 0h1m5 0h1m1 0h1m1 0h1m2 0h1m2 0h1m2 0h1m1 0h1m2 0h1M385 96.5h1m0 0h1m1 0h1m1 0h1m3 0h1m0 0h1m1 0h1m0 0h1m0 0h1m0 0h1m0 0h1m4 0h1m0 0h1m0 0h1m1 0h1m0 0h1m1 0h1m0 0h1m0 0h1m0 0h1m1 0h1m0 0h1m2 0h1m0 0h1m1 0h1m0 0h1m0 0h1m0 0h1m5 0h1m0 0h1m1 0h1m1 0h1m0 0h1m2 0h1m1 0h1m0 0h1M377 97.5h1m0 0h1m4 0h1m0 0h1m3 0h1m0 0h1m0 0h1m1 0h1m0 0h1m1 0h1m0 0h1m0 0h1m1 0h1m2 0h1m0 0h1m1 0h1m0 0h1m0 0h1m0 0h1m0 0h1m0 0h1m0 0h1m0 0h1m0 0h1m0 0h1m0 0h1m0 0h1m0 0h1m0 0h1m0 0h1m0 0h1m1 0h1m0 0h1m0 0h1m1 0h1m0 0h1m0 0h1m0 0h1m0 0h1m0 0h1m0 0h1m0 0h1m0 0h1m1 0h1m1 0h1m0 0h1m0 0h1m2 0h1M376 98.5h1m0 0h1m6 0h1m0 0h1m1 0h1m0 0h1m1 0h1m0 0h1m0 0h1m0 0h1m0 0h1m1 0h1m0 0h1m0 0h1m0 0h1m0 0h1m0 0h1m0 0h1m1 0h1m0 0h1m0 0h1m0 0h1m0 0h1m0 0h1m1 0h1m0 0h1m0 0h1m0 0h1m0 0h1m0 0h1m0 0h1m0 0h1m0 0h1m0 0h1m0 0h1m0 0h1m0 0h1m0 0h1m2 0h1m0 0h1m0 0h1m1 0h1m1 0h1m4 0h1m1 0h1m0 0h1m1 0h1m0 0h1M379 99.5h1m0 0h1m0 0h1m1 0h1m0 0h1m2 0h1m0 0h1m2 0h1m0 0h1m0 0h1m0 0h1m0 0h1m0 0h1m0 0h1m0 0h1m0 0h1m0 0h1m0 0h1m0 0h1m2 0h1m0 0h1m0 0h1m0 0h1m1 0h1m0 0h1m1 0h1m0 0h1m0 0h1m0 0h1m0 0h1m1 0h1m0 0h1m0 0h1m0 0h1m0 0h1m0 0h1m1 0h1m0 0h1m0 0h1m2 0h1m0 0h1m0 0h1m2 0h1m0 0h1m0 0h1m1 0h1m0 0h1m0 0h1m1 0h1m0 0h1M376 100.5h1m5 0h1m2 0h1m0 0h1m0 0h1m0 0h1m0 0h1m1 0h1m0 0h1m0 0h1m0 0h1m0 0h1m1 0h1m0 0h1m0 0h1m0 0h1m0 0h1m0 0h1m0 0h1m0 0h1m0 0h1m0 0h1m0 0h1m0 0h1m0 0h1m1 0h1m0 0h1m0 0h1m1 0h1m1 0h1m0 0h1m0 0h1m0 0h1m0 0h1m0 0h1m0 0h1m0 0h1m0 0h1m0 0h1m0 0h1m0 0h1m0 0h1m0 0h1m2 0h1m0 0h1m2 0h1m0 0h1m2 0h1m0 0h1m0 0h1M378 101.5h1m0 0h1m0 0h1m0 0h1m0 0h1m1 0h1m1 0h1m0 0h1m0 0h1m0 0h1m0 0h1m1 0h1m0 0h1m1 0h1m0 0h1m1 0h1m0 0h1m0 0h1m0 0h1m0 0h1m0 0h1m1 0h1m0 0h1m0 0h1m0 0h1m0 0h1m0 0h1m0 0h1m0 0h1m0 0h1m0 0h1m0 0h1m0 0h1m0 0h1m0 0h1m0 0h1m0 0h1m1 0h1m0 0h1m0 0h1m0 0h1m0 0h1m0 0h1m0 0h1m0 0h1m0 0h1m0 0h1m0 0h1m4 0h1m0 0h1m2 0h1m0 0h1m0 0h1M374 102.5h1m0 0h1m2 0h1m0 0h1m1 0h1m0 0h1m0 0h1m0 0h1m1 0h1m1 0h1m0 0h1m0 0h1m2 0h1m0 0h1m0 0h1m0 0h1m0 0h1m0 0h1m0 0h1m0 0h1m0 0h1m0 0h1m1 0h1m0 0h1m0 0h1m0 0h1m0 0h1m0 0h1m0 0h1m0 0h1m1 0h1m0 0h1m0 0h1m0 0h1m0 0h1m0 0h1m0 0h1m0 0h1m1 0h1m0 0h1m0 0h1m0 0h1m0 0h1m0 0h1m1 0h1m0 0h1m0 0h1m0 0h1m0 0h1m0 0h1m1 0h1m2 0h1m0 0h1m0 0h1m4 0h1M378 103.5h1m1 0h1m1 0h1m1 0h1m1 0h1m1 0h1m0 0h1m0 0h1m0 0h1m0 0h1m0 0h1m0 0h1m0 0h1m0 0h1m0 0h1m1 0h1m1 0h1m0 0h1m0 0h1m0 0h1m0 0h1m0 0h1m0 0h1m0 0h1m0 0h1m1 0h1m0 0h1m0 0h1m0 0h1m0 0h1m0 0h1m0 0h1m0 0h1m0 0h1m0 0h1m0 0h1m0 0h1m0 0h1m0 0h1m0 0h1m0 0h1m0 0h1m0 0h1m0 0h1m0 0h1m0 0h1m0 0h1m4 0h1m0 0h1m0 0h1m1 0h1m1 0h1m0 0h1m0 0h1M377 104.5h1m2 0h1m0 0h1m0 0h1m0 0h1m1 0h1m0 0h1m0 0h1m0 0h1m0 0h1m0 0h1m0 0h1m0 0h1m0 0h1m0 0h1m0 0h1m0 0h1m0 0h1m0 0h1m0 0h1m0 0h1m1 0h1m0 0h1m0 0h1m0 0h1m0 0h1m0 0h1m0 0h1m0 0h1m0 0h1m0 0h1m1 0h1m0 0h1m1 0h1m0 0h1m0 0h1m0 0h1m1 0h1m0 0h1m0 0h1m0 0h1m0 0h1m3 0h1m0 0h1m0 0h1m1 0h1m0 0h1m1 0h1m0 0h1m0 0h1m2 0h1m2 0h1m0 0h1M372 105.5h1m0 0h1m1 0h1m1 0h1m0 0h1m3 0h1m1 0h1m0 0h1m0 0h1m0 0h1m0 0h1m1 0h1m0 0h1m0 0h1m2 0h1m2 0h1m0 0h1m0 0h1m0 0h1m0 0h1m0 0h1m0 0h1m0 0h1m0 0h1m0 0h1m0 0h1m0 0h1m0 0h1m0 0h1m0 0h1m0 0h1m0 0h1m0 0h1m0 0h1m0 0h1m0 0h1m0 0h1m0 0h1m1 0h1m0 0h1m0 0h1m0 0h1m0 0h1m0 0h1m0 0h1m0 0h1m1 0h1m0 0h1m0 0h1m0 0h1m1 0h1m0 0h1m0 0h1m0 0h1m0 0h1m0 0h1m0 0h1m0 0h1m2 0h1M375 106.5h1m2 0h1m5 0h1m1 0h1m0 0h1m0 0h1m0 0h1m0 0h1m0 0h1m0 0h1m0 0h1m0 0h1m0 0h1m0 0h1m0 0h1m0 0h1m0 0h1m1 0h1m0 0h1m1 0h1m0 0h1m1 0h1m0 0h1m0 0h1m0 0h1m0 0h1m0 0h1m0 0h1m0 0h1m0 0h1m2 0h1m0 0h1m1 0h1m0 0h1m0 0h1m0 0h1m0 0h1m0 0h1m0 0h1m0 0h1m1 0h1m1 0h1m0 0h1m1 0h1m0 0h1m0 0h1m0 0h1m1 0h1m2 0h1M377 107.5h1m2 0h1m0 0h1m0 0h1m3 0h1m0 0h1m1 0h1m0 0h1m0 0h1m0 0h1m0 0h1m1 0h1m2 0h1m0 0h1m0 0h1m1 0h1m0 0h1m1 0h1m1 0h1m0 0h1m0 0h1m0 0h1m1 0h1m0 0h1m0 0h1m0 0h1m0 0h1m0 0h1m0 0h1m0 0h1m0 0h1m0 0h1m0 0h1m0 0h1m0 0h1m0 0h1m1 0h1m0 0h1m0 0h1m1 0h1m0 0h1m0 0h1m1 0h1m2 0h1m0 0h1m0 0h1m0 0h1m2 0h1m0 0h1M377 108.5h1m1 0h1m3 0h1m0 0h1m2 0h1m2 0h1m1 0h1m1 0h1m0 0h1m0 0h1m0 0h1m0 0h1m0 0h1m0 0h1m0 0h1m0 0h1m0 0h1m0 0h1m0 0h1m0 0h1m1 0h1m0 0h1m0 0h1m0 0h1m0 0h1m1 0h1m0 0h1m1 0h1m2 0h1m0 0h1m0 0h1m2 0h1m0 0h1m0 0h1m0 0h1m3 0h1m3 0h1m0 0h1m0 0h1m1 0h1m1 0h1m0 0h1m0 0h1M376 109.5h1m4 0h1m0 0h1m2 0h1m3 0h1m2 0h1m0 0h1m0 0h1m0 0h1m0 0h1m0 0h1m1 0h1m0 0h1m1 0h1m0 0h1m0 0h1m0 0h1m1 0h1m0 0h1m0 0h1m0 0h1m2 0h1m0 0h1m1 0h1m0 0h1m0 0h1m0 0h1m0 0h1m0 0h1m0 0h1m1 0h1m0 0h1m0 0h1m1 0h1m0 0h1m1 0h1m0 0h1m1 0h1m1 0h1m0 0h1m0 0h1m2 0h1m0 0h1M374 110.5h1m0 0h1m0 0h1m1 0h1m1 0h1m1 0h1m3 0h1m1 0h1m1 0h1m1 0h1m1 0h1m0 0h1m0 0h1m0 0h1m1 0h1m0 0h1m0 0h1m0 0h1m0 0h1m1 0h1m0 0h1m0 0h1m0 0h1m0 0h1m0 0h1m2 0h1m0 0h1m0 0h1m0 0h1m0 0h1m0 0h1m0 0h1m1 0h1m0 0h1m1 0h1m0 0h1m4 0h1m0 0h1m1 0h1m0 0h1m4 0h1m4 0h1m1 0h1M372 111.5h1m2 0h1m7 0h1m2 0h1m1 0h1m2 0h1m1 0h1m4 0h1m0 0h1m1 0h1m2 0h1m0 0h1m0 0h1m0 0h1m1 0h1m0 0h1m3 0h1m1 0h1m0 0h1m0 0h1m0 0h1m1 0h1m0 0h1m3 0h1m0 0h1m5 0h1m0 0h1m0 0h1m2 0h1m5 0h1M372 112.5h1m0 0h1m9 0h1m6 0h1m1 0h1m1 0h1m1 0h1m1 0h1m0 0h1m0 0h1m0 0h1m2 0h1m0 0h1m0 0h1m0 0h1m0 0h1m0 0h1m0 0h1m0 0h1m0 0h1m0 0h1m0 0h1m1 0h1m1 0h1m0 0h1m1 0h1m0 0h1m0 0h1m0 0h1m0 0h1m0 0h1m0 0h1m0 0h1m0 0h1m3 0h1m0 0h1m0 0h1m1 0h1m5 0h1M378 113.5h1m0 0h1m4 0h1m1 0h1m3 0h1m0 0h1m2 0h1m3 0h1m1 0h1m1 0h1m0 0h1m1 0h1m0 0h1m0 0h1m0 0h1m0 0h1m0 0h1m0 0h1m1 0h1m1 0h1m1 0h1m0 0h1m1 0h1m4 0h1m0 0h1m2 0h1M383 114.5h1m2 0h1m0 0h1m1 0h1m0 0h1m0 0h1m0 0h1m1 0h1m1 0h1m4 0h1m7 0h1m0 0h1m4 0h1m2 0h1m0 0h1m0 0h1m4 0h1m0 0h1m0 0h1m2 0h1m1 0h1m5 0h1M381 115.5h1m4 0h1m5 0h1m5 0h1m0 0h1m0 0h1m4 0h1m2 0h1m1 0h1m0 0h1m0 0h1m5 0h1m2 0h1m4 0h1m0 0h1m1 0h1m0 0h1m7 0h1m0 0h1m3 0h1M385 116.5h1m6 0h1m0 0h1m3 0h1m6 0h1m2 0h1m5 0h1m3 0h1m13 0h1m0 0h1m7 0h1M379 117.5h1m0 0h1m1 0h1m4 0h1m0 0h1m2 0h1m3 0h1m3 0h1m7 0h1m0 0h1m3 0h1m0 0h1m1 0h1m1 0h1m2 0h1m0 0h1m4 0h1m8 0h1m5 0h1m0 0h1M376 118.5h1m1 0h1m21 0h1m1 0h1m1 0h1m2 0h1m6 0h1m0 0h1m13 0h1M375 119.5h1m26 0h1m2 0h1m39 0h1M391 120.5h1m25 0h1m0 0h1M382 121.5h1m9 0h1m8 0h1m35 0h1M403 122.5h1m11 0h1m3 0h1M380 123.5h1m37 0h1M387 124.5h1M384 125.5h1m12 0h1m31 0h1M412 126.5h1m7 0h1m4 0h1M400 127.5h1m19 0h1M402 128.5h1m26 0h1m9 0h1M378 129.5h1M411 130.5h1m27 0h1M390 131.5h1m29 0h1M381 132.5h1m31 0h1M373 133.5h1M380 134.5h1m52 0h1M382 135.5h1m7 0h1m47 0h1m4 0h1M393 136.5h1m13 0h1m14 0h1m23 0h1M391 137.5h1m21 0h1m20 0h1m0 0h1m0 0h1m5 0h1M394 138.5h1m3 0h1m24 0h1m8 0h1m0 0h1m6 0h1M380 139.5h1m28 0h1m8 0h1m14 0h1m5 0h1m0 0h1m1 0h1m1 0h1M377 140.5h1m21 0h1m10 0h1m6 0h1m0 0h1m1 0h1m14 0h1M380 141.5h1m14 0h1m1 0h1m11 0h1m6 0h1m5 0h1m0 0h1m0 0h1m4 0h1m0 0h1m0 0h1m0 0h1m1 0h1m1 0h1m1 0h1m4 0h1m0 0h1m0 0h1M379 142.5h1m18 0h1m9 0h1m7 0h1m2 0h1m6 0h1m4 0h1m2 0h1m5 0h1M376 143.5h1m19 0h1m3 0h1m1 0h1m2 0h1m13 0h1m8 0h1m1 0h1m0 0h1m1 0h1m1 0h1m2 0h1m2 0h1m4 0h1M377 144.5h1m2 0h1m0 0h1m1 0h1m6 0h1m1 0h1m1 0h1m6 0h1m1 0h1m3 0h1m0 0h1m0 0h1m0 0h1m8 0h1m2 0h1m3 0h1m0 0h1m2 0h1m0 0h1m0 0h1m2 0h1m3 0h1m0 0h1m1 0h1M372 145.5h1m17 0h1m13 0h1m2 0h1m11 0h1m1 0h1m4 0h1m0 0h1m6 0h1m1 0h1m5 0h1M373 146.5h1m6 0h1m0 0h1m2 0h1m8 0h1m3 0h1m10 0h1m0 0h1m2 0h1m0 0h1m0 0h1m4 0h1m1 0h1m0 0h1m2 0h1m0 0h1m6 0h1m3 0h1m0 0h1M378 147.5h1m5 0h1m0 0h1m3 0h1m4 0h1m6 0h1m1 0h1m0 0h1m2 0h1m1 0h1m0 0h1m3 0h1m3 0h1m7 0h1m3 0h1m8 0h1M381 148.5h1m2 0h1m3 0h1m1 0h1m4 0h1m0 0h1m7 0h1m0 0h1m1 0h1m0 0h1m0 0h1m4 0h1m0 0h1m1 0h1m1 0h1m0 0h1m2 0h1m0 0h1m2 0h1m3 0h1m0 0h1m0 0h1m2 0h1m5 0h1M371 149.5h1m14 0h1m1 0h1m2 0h1m0 0h1m0 0h1m0 0h1m0 0h1m2 0h1m3 0h1m1 0h1m1 0h1m1 0h1m0 0h1m5 0h1m19 0h1m4 0h1M378 150.5h1m3 0h1m6 0h1m0 0h1m12 0h1m3 0h1m2 0h1m1 0h1m6 0h1m11 0h1m6 0h1M379 151.5h1m4 0h1m5 0h1m8 0h1m8 0h1m1 0h1m0 0h1m0 0h1m9 0h1m3 0h1m1 0h1m1 0h1m7 0h1M374 152.5h1m7 0h1m0 0h1m2 0h1m2 0h1m0 0h1m3 0h1m1 0h1m0 0h1m1 0h1m3 0h1m2 0h1m10 0h1m11 0h1m0 0h1M373 153.5h1m2 0h1m3 0h1m1 0h1m1 0h1m1 0h1m4 0h1m3 0h1m0 0h1m1 0h1m7 0h1m6 0h1M373 154.5h1m12 0h1m0 0h1m1 0h1m1 0h1m0 0h1m5 0h1m0 0h1m2 0h1m2 0h1M372 155.5h1m3 0h1m0 0h1m0 0h1m2 0h1m0 0h1m0 0h1m3 0h1m0 0h1m3 0h1m1 0h1m0 0h1m1 0h1m0 0h1m3 0h1m12 0h1m1 0h1M374 156.5h1m2 0h1m1 0h1m6 0h1m1 0h1m1 0h1m0 0h1m0 0h1m0 0h1m3 0h1m3 0h1m0 0h1m8 0h1m2 0h1M375 157.5h1m0 0h1m3 0h1m1 0h1m0 0h1m4 0h1m1 0h1m4 0h1m1 0h1m0 0h1m0 0h1m20 0h1m2 0h1m5 0h1m14 0h1M371 158.5h1m1 0h1m1 0h1m1 0h1m0 0h1m0 0h1m2 0h1m3 0h1m0 0h1m0 0h1m0 0h1m1 0h1m0 0h1m0 0h1m0 0h1m2 0h1m14 0h1m3 0h1M368 159.5h1m6 0h1m3 0h1m4 0h1m1 0h1m0 0h1m0 0h1m5 0h1m2 0h1m37 0h1M376 160.5h1m1 0h1m0 0h1m0 0h1m3 0h1m2 0h1m4 0h1m5 0h1m29 0h1M377 161.5h1m1 0h1m0 0h1m5 0h1m0 0h1m0 0h1m0 0h1m0 0h1m0 0h1m2 0h1m3 0h1M373 162.5h1m1 0h1m0 0h1m4 0h1m0 0h1m0 0h1m1 0h1m1 0h1m2 0h1m1 0h1m0 0h1m0 0h1m3 0h1M372 163.5h1m0 0h1m4 0h1m2 0h1m2 0h1m5 0h1m2 0h1m0 0h1m0 0h1m1 0h1m5 0h1m0 0h1M371 164.5h1m10 0h1m0 0h1m3 0h1m3 0h1m1 0h1m3 0h1m0 0h1m3 0h1M372 165.5h1m1 0h1m0 0h1m1 0h1m0 0h1m2 0h1m0 0h1m0 0h1m1 0h1m3 0h1m5 0h1m48 0h1M377 166.5h1m6 0h1m1 0h1m0 0h1m1 0h1m1 0h1m0 0h1m1 0h1m1 0h1m6 0h1M376 167.5h1m1 0h1m5 0h1m0 0h1m0 0h1m1 0h1m1 0h1m2 0h1M377 168.5h1m8 0h1m1 0h1m7 0h1M373 169.5h1m15 0h1m3 0h1m11 0h1M384 170.5h1m2 0h1m11 0h1m30 0h1M380 171.5h1m0 0h1m0 0h1M375 172.5h1m7 0h1m3 0h1m0 0h1m2 0h1M382 173.5h1m57 0h1M372 174.5h1m6 0h1m6 0h1m6 0h1M377 175.5h1m39 0h1M385 176.5h1m4 0h1m3 0h1m43 0h1M383 177.5h1m2 0h1M410 178.5h1m10 0h1M380 179.5h1m9 0h1m5 0h1M373 180.5h1m7 0h1m12 0h1m37 0h1" stroke="#000" stroke-width="1" fill="none"/>
<text class="S" x="1.2" y="275.9" font-size="27.2" font-weight="bold" text-anchor="start" textLength="19" lengthAdjust="spacingAndGlyphs" fill="#000">B</text>
<line x1="66.8" y1="298" x2="66.8" y2="342.2" stroke="#000" stroke-width="1.6"/>
<line x1="66.8" y1="408.8" x2="66.8" y2="475.6" stroke="#000" stroke-width="1.6"/>
<line x1="66" y1="475.6" x2="221" y2="475.6" stroke="#000" stroke-width="1.6"/>
<polygon points="59.8,300.6 74.2,300.6 66.8,286" fill="#000"/>
<text class="S" x="73.6" y="394.2" font-size="15.6" text-anchor="start" textLength="37.8" lengthAdjust="spacingAndGlyphs" transform="rotate(-90 73.6 394.2)" fill="#000">CD25</text>
<text class="S" x="235.2" y="482.7" font-size="15.2" text-anchor="start" textLength="38" lengthAdjust="spacingAndGlyphs" fill="#000">CD44</text>
<line x1="294.5" y1="475.8" x2="444" y2="475.8" stroke="#000" stroke-width="1.6"/>
<polygon points="442.8,469 457.6,475.8 442.8,482.8" fill="#000"/>
<rect x="106.3" y="285.8" width="159.1" height="149.3" stroke="#000" stroke-width="1.3" fill="none"/>
<path d="M106.3 435.1h-3M106.3 423.86h-1.8M106.3 417.29h-1.8M106.3 412.63h-1.8M106.3 409.01h-1.8M106.3 406.06h-1.8M106.3 403.56h-1.8M106.3 401.39h-1.8M106.3 399.48h-1.8M106.3 397.78h-3M106.3 386.54h-1.8M106.3 379.97h-1.8M106.3 375.3h-1.8M106.3 371.69h-1.8M106.3 368.73h-1.8M106.3 366.23h-1.8M106.3 364.07h-1.8M106.3 362.16h-1.8M106.3 360.45h-3M106.3 349.21h-1.8M106.3 342.64h-1.8M106.3 337.98h-1.8M106.3 334.36h-1.8M106.3 331.41h-1.8M106.3 328.91h-1.8M106.3 326.74h-1.8M106.3 324.83h-1.8M106.3 323.12h-3M106.3 311.89h-1.8M106.3 305.32h-1.8M106.3 300.65h-1.8M106.3 297.04h-1.8M106.3 294.08h-1.8M106.3 291.58h-1.8M106.3 289.42h-1.8M106.3 287.51h-1.8M106.3 285.8h-3" stroke="#000" stroke-width="1" fill="none"/>
<path d="M106.3 435.1v3.4M118.27 435.1v2M125.28 435.1v2M130.25 435.1v2M134.1 435.1v2M137.25 435.1v2M139.91 435.1v2M142.22 435.1v2M144.25 435.1v2M146.07 435.1v3.4M158.05 435.1v2M165.05 435.1v2M170.02 435.1v2M173.88 435.1v2M177.03 435.1v2M179.69 435.1v2M182 435.1v2M184.03 435.1v2M185.85 435.1v3.4M197.82 435.1v2M204.83 435.1v2M209.8 435.1v2M213.65 435.1v2M216.8 435.1v2M219.46 435.1v2M221.77 435.1v2M223.8 435.1v2M225.62 435.1v3.4M237.6 435.1v2M244.6 435.1v2M249.57 435.1v2M253.43 435.1v2M256.58 435.1v2M259.24 435.1v2M261.55 435.1v2M263.58 435.1v2M265.4 435.1v3.4" stroke="#000" stroke-width="1" fill="none"/>
<text class="S" font-size="8.2" transform="translate(98.6 444.66) scale(1.1 1) rotate(-90)">10<tspan dy="-3.69" font-size="7.79">0</tspan></text>
<text class="S" font-size="8.2" transform="translate(98.6 407.33) scale(1.1 1) rotate(-90)">10<tspan dy="-3.69" font-size="7.79">1</tspan></text>
<text class="S" font-size="8.2" transform="translate(98.6 370.01) scale(1.1 1) rotate(-90)">10<tspan dy="-3.69" font-size="7.79">2</tspan></text>
<text class="S" font-size="8.2" transform="translate(98.6 332.68) scale(1.1 1) rotate(-90)">10<tspan dy="-3.69" font-size="7.79">3</tspan></text>
<text class="S" font-size="8.2" transform="translate(98.6 295.36) scale(1.1 1) rotate(-90)">10<tspan dy="-3.69" font-size="7.79">4</tspan></text>
<g transform="translate(99.99 450.4) scale(1.15 1)"><text class="S" x="0" y="0" font-size="8.3">10<tspan dy="-3.74" font-size="7.89">0</tspan></text></g>
<g transform="translate(139.77 450.4) scale(1.15 1)"><text class="S" x="0" y="0" font-size="8.3">10<tspan dy="-3.74" font-size="7.89">1</tspan></text></g>
<g transform="translate(179.54 450.4) scale(1.15 1)"><text class="S" x="0" y="0" font-size="8.3">10<tspan dy="-3.74" font-size="7.89">2</tspan></text></g>
<g transform="translate(219.32 450.4) scale(1.15 1)"><text class="S" x="0" y="0" font-size="8.3">10<tspan dy="-3.74" font-size="7.89">3</tspan></text></g>
<g transform="translate(259.09 450.4) scale(1.15 1)"><text class="S" x="0" y="0" font-size="8.3">10<tspan dy="-3.74" font-size="7.89">4</tspan></text></g>
<text class="S" x="84" y="377.3" font-size="7.4" text-anchor="start" textLength="22" lengthAdjust="spacingAndGlyphs" transform="rotate(-90 84 377.3)" fill="#000">FL1-H</text>
<text class="S" x="173.6" y="459.3" font-size="7.6" text-anchor="start" textLength="25.2" lengthAdjust="spacingAndGlyphs" fill="#000">FL3-H</text>
<line x1="106.3" y1="340.6" x2="265.4" y2="340.6" stroke="#000" stroke-width="1.3"/>
<line x1="168" y1="285.8" x2="168" y2="435.1" stroke="#000" stroke-width="1.3"/>
<line x1="106.3" y1="409.8" x2="173.2" y2="409.8" stroke="#000" stroke-width="1.3"/>
<line x1="140.2" y1="387.2" x2="140.2" y2="435.1" stroke="#000" stroke-width="1.3"/>
<text class="S" x="114.7" y="407.5" font-size="14.2" text-anchor="start" textLength="19.6" lengthAdjust="spacingAndGlyphs" fill="#000">0.2</text>
<text class="S" x="140.5" y="407.5" font-size="14.2" text-anchor="start" textLength="28.4" lengthAdjust="spacingAndGlyphs" fill="#000">56.6</text>
<text class="S" x="114.7" y="432.2" font-size="14.2" text-anchor="start" textLength="19.6" lengthAdjust="spacingAndGlyphs" fill="#000">0.2</text>
<text class="S" x="148" y="432.2" font-size="14.2" text-anchor="start" textLength="17.2" lengthAdjust="spacingAndGlyphs" fill="#000">43</text>
<rect x="288" y="284.6" width="160.3" height="150.5" stroke="#000" stroke-width="1.3" fill="none"/>
<path d="M288 435.1h-3M288 423.77h-1.8M288 417.15h-1.8M288 412.45h-1.8M288 408.8h-1.8M288 405.82h-1.8M288 403.3h-1.8M288 401.12h-1.8M288 399.2h-1.8M288 397.48h-3M288 386.15h-1.8M288 379.52h-1.8M288 374.82h-1.8M288 371.18h-1.8M288 368.2h-1.8M288 365.68h-1.8M288 363.5h-1.8M288 361.57h-1.8M288 359.85h-3M288 348.52h-1.8M288 341.9h-1.8M288 337.2h-1.8M288 333.55h-1.8M288 330.57h-1.8M288 328.05h-1.8M288 325.87h-1.8M288 323.95h-1.8M288 322.23h-3M288 310.9h-1.8M288 304.27h-1.8M288 299.57h-1.8M288 295.93h-1.8M288 292.95h-1.8M288 290.43h-1.8M288 288.25h-1.8M288 286.32h-1.8M288 284.6h-3" stroke="#000" stroke-width="1" fill="none"/>
<path d="M288 435.1v3.4M300.06 435.1v2M307.12 435.1v2M312.13 435.1v2M316.01 435.1v2M319.18 435.1v2M321.87 435.1v2M324.19 435.1v2M326.24 435.1v2M328.07 435.1v3.4M340.14 435.1v2M347.2 435.1v2M352.2 435.1v2M356.09 435.1v2M359.26 435.1v2M361.94 435.1v2M364.27 435.1v2M366.32 435.1v2M368.15 435.1v3.4M380.21 435.1v2M387.27 435.1v2M392.28 435.1v2M396.16 435.1v2M399.33 435.1v2M402.02 435.1v2M404.34 435.1v2M406.39 435.1v2M408.23 435.1v3.4M420.29 435.1v2M427.35 435.1v2M432.35 435.1v2M436.24 435.1v2M439.41 435.1v2M442.09 435.1v2M444.42 435.1v2M446.47 435.1v2M448.3 435.1v3.4" stroke="#000" stroke-width="1" fill="none"/>
<g transform="translate(281.69 450.4) scale(1.15 1)"><text class="S" x="0" y="0" font-size="8.3">10<tspan dy="-3.74" font-size="7.89">0</tspan></text></g>
<g transform="translate(321.77 450.4) scale(1.15 1)"><text class="S" x="0" y="0" font-size="8.3">10<tspan dy="-3.74" font-size="7.89">1</tspan></text></g>
<g transform="translate(361.84 450.4) scale(1.15 1)"><text class="S" x="0" y="0" font-size="8.3">10<tspan dy="-3.74" font-size="7.89">2</tspan></text></g>
<g transform="translate(401.92 450.4) scale(1.15 1)"><text class="S" x="0" y="0" font-size="8.3">10<tspan dy="-3.74" font-size="7.89">3</tspan></text></g>
<g transform="translate(441.99 450.4) scale(1.15 1)"><text class="S" x="0" y="0" font-size="8.3">10<tspan dy="-3.74" font-size="7.89">4</tspan></text></g>
<text class="S" x="355.8" y="459.3" font-size="7.6" text-anchor="start" textLength="25.2" lengthAdjust="spacingAndGlyphs" fill="#000">FL3-H</text>
<line x1="288" y1="339.2" x2="448.3" y2="339.2" stroke="#000" stroke-width="1.3"/>
<line x1="350.5" y1="284.6" x2="350.5" y2="435.1" stroke="#000" stroke-width="1.3"/>
<line x1="288" y1="409.6" x2="352.2" y2="409.6" stroke="#000" stroke-width="1.3"/>
<line x1="318.8" y1="387.2" x2="318.8" y2="435.1" stroke="#000" stroke-width="1.3"/>
<text class="S" x="293.4" y="407.5" font-size="14.2" text-anchor="start" textLength="19.6" lengthAdjust="spacingAndGlyphs" fill="#000">0.1</text>
<text class="S" x="319.1" y="407.5" font-size="14.2" text-anchor="start" textLength="28.4" lengthAdjust="spacingAndGlyphs" fill="#000">44.1</text>
<text class="S" x="293.4" y="432.2" font-size="14.2" text-anchor="start" textLength="19.6" lengthAdjust="spacingAndGlyphs" fill="#000">0.1</text>
<text class="S" x="327.4" y="432.2" font-size="14.2" text-anchor="start" textLength="28" lengthAdjust="spacingAndGlyphs" fill="#000">55.7</text>
<rect x="277.4" y="435.3" width="1.3" height="5" fill="#777"/>
<rect x="279.4" y="435.3" width="1.6" height="5" fill="#555"/>
<rect x="277.4" y="397.68" width="1.3" height="5" fill="#777"/>
<rect x="279.4" y="397.68" width="1.6" height="5" fill="#555"/>
<rect x="277.4" y="360.05" width="1.3" height="5" fill="#777"/>
<rect x="279.4" y="360.05" width="1.6" height="5" fill="#555"/>
<rect x="277.4" y="322.43" width="1.3" height="5" fill="#777"/>
<rect x="279.4" y="322.43" width="1.6" height="5" fill="#555"/>
<rect x="277.4" y="284.8" width="1.3" height="5" fill="#777"/>
<rect x="279.4" y="284.8" width="1.6" height="5" fill="#555"/>
<path d="M173 287.5h1m4 0h1m5 0h1m2 0h1m3 0h1m4 0h1m10 0h1m5 0h1m3 0h1m3 0h1m1 0h1m2 0h1m1 0h1m0 0h1m0 0h1m4 0h1m0 0h1m5 0h1m0 0h1M180 288.5h1m3 0h1m2 0h1m3 0h1m3 0h1m1 0h1m0 0h1m0 0h1m5 0h1m2 0h1m0 0h1m7 0h1m1 0h1m1 0h1m0 0h1m7 0h1m3 0h1m7 0h1m3 0h1m5 0h1M184 289.5h1m3 0h1m8 0h1m0 0h1m1 0h1m0 0h1m1 0h1m1 0h1m0 0h1m1 0h1m6 0h1m2 0h1m0 0h1m3 0h1m2 0h1m12 0h1m10 0h1M180 290.5h1m18 0h1m2 0h1m1 0h1m1 0h1m1 0h1m6 0h1m0 0h1m2 0h1m1 0h1m7 0h1m6 0h1m3 0h1m13 0h1m0 0h1M187 291.5h1m13 0h1m2 0h1m1 0h1m0 0h1m1 0h1m4 0h1m0 0h1m0 0h1m1 0h1m0 0h1m3 0h1m0 0h1m0 0h1m0 0h1m1 0h1m5 0h1m0 0h1m1 0h1m0 0h1m0 0h1m0 0h1M178 292.5h1m6 0h1m5 0h1m0 0h1m0 0h1m0 0h1m1 0h1m1 0h1m0 0h1m0 0h1m1 0h1m14 0h1m3 0h1m6 0h1m1 0h1m0 0h1m2 0h1m1 0h1m15 0h1M177 293.5h1m2 0h1m6 0h1m0 0h1m1 0h1m2 0h1m0 0h1m0 0h1m0 0h1m0 0h1m2 0h1m0 0h1m7 0h1m3 0h1m2 0h1m3 0h1m4 0h1m0 0h1m0 0h1m1 0h1m0 0h1m1 0h1m1 0h1m1 0h1m1 0h1m0 0h1m2 0h1m7 0h1M174 294.5h1m2 0h1m1 0h1m8 0h1m4 0h1m2 0h1m0 0h1m1 0h1m0 0h1m1 0h1m1 0h1m2 0h1m0 0h1m0 0h1m1 0h1m0 0h1m0 0h1m3 0h1m2 0h1m2 0h1m0 0h1m0 0h1m1 0h1m2 0h1m4 0h1m6 0h1m0 0h1m2 0h1m10 0h1M192 295.5h1m0 0h1m1 0h1m2 0h1m0 0h1m0 0h1m1 0h1m1 0h1m0 0h1m4 0h1m1 0h1m0 0h1m0 0h1m1 0h1m0 0h1m1 0h1m1 0h1m0 0h1m0 0h1m0 0h1m1 0h1m0 0h1m0 0h1m2 0h1m2 0h1m0 0h1m0 0h1m0 0h1m0 0h1m0 0h1m0 0h1m1 0h1m0 0h1m0 0h1m0 0h1m1 0h1M177 296.5h1m3 0h1m1 0h1m6 0h1m2 0h1m0 0h1m1 0h1m1 0h1m0 0h1m3 0h1m1 0h1m0 0h1m0 0h1m0 0h1m1 0h1m0 0h1m2 0h1m1 0h1m1 0h1m1 0h1m1 0h1m1 0h1m1 0h1m0 0h1m2 0h1m2 0h1m0 0h1m0 0h1m0 0h1m0 0h1m2 0h1m2 0h1m0 0h1m0 0h1m4 0h1M175 297.5h1m7 0h1m0 0h1m2 0h1m1 0h1m2 0h1m0 0h1m0 0h1m0 0h1m2 0h1m0 0h1m0 0h1m0 0h1m0 0h1m0 0h1m0 0h1m1 0h1m0 0h1m2 0h1m0 0h1m1 0h1m0 0h1m0 0h1m2 0h1m0 0h1m1 0h1m0 0h1m0 0h1m0 0h1m1 0h1m0 0h1m1 0h1m0 0h1m0 0h1m2 0h1m0 0h1m0 0h1m0 0h1m0 0h1m0 0h1m0 0h1m1 0h1m1 0h1m0 0h1m0 0h1m0 0h1m1 0h1m0 0h1m1 0h1m0 0h1M176 298.5h1m2 0h1m4 0h1m1 0h1m4 0h1m0 0h1m0 0h1m0 0h1m0 0h1m0 0h1m0 0h1m1 0h1m0 0h1m0 0h1m0 0h1m1 0h1m0 0h1m1 0h1m0 0h1m0 0h1m0 0h1m0 0h1m1 0h1m1 0h1m4 0h1m4 0h1m0 0h1m0 0h1m0 0h1m1 0h1m1 0h1m0 0h1m1 0h1m0 0h1m0 0h1m0 0h1m2 0h1m0 0h1m0 0h1m1 0h1m0 0h1M181 299.5h1m0 0h1m0 0h1m1 0h1m5 0h1m0 0h1m1 0h1m2 0h1m0 0h1m0 0h1m0 0h1m0 0h1m0 0h1m1 0h1m1 0h1m4 0h1m0 0h1m0 0h1m1 0h1m0 0h1m2 0h1m0 0h1m1 0h1m0 0h1m0 0h1m0 0h1m0 0h1m0 0h1m3 0h1m0 0h1m0 0h1m0 0h1m1 0h1m5 0h1m0 0h1m4 0h1M172 300.5h1m7 0h1m2 0h1m0 0h1m0 0h1m1 0h1m0 0h1m1 0h1m1 0h1m0 0h1m1 0h1m0 0h1m1 0h1m2 0h1m0 0h1m1 0h1m0 0h1m0 0h1m0 0h1m0 0h1m0 0h1m0 0h1m1 0h1m0 0h1m0 0h1m1 0h1m0 0h1m0 0h1m0 0h1m0 0h1m0 0h1m0 0h1m1 0h1m2 0h1m1 0h1m1 0h1m0 0h1m0 0h1m0 0h1m1 0h1m3 0h1m3 0h1m0 0h1m1 0h1m0 0h1m0 0h1m0 0h1M176 301.5h1m4 0h1m1 0h1m1 0h1m1 0h1m2 0h1m0 0h1m0 0h1m0 0h1m0 0h1m0 0h1m0 0h1m0 0h1m0 0h1m1 0h1m1 0h1m0 0h1m1 0h1m0 0h1m1 0h1m0 0h1m1 0h1m0 0h1m1 0h1m2 0h1m0 0h1m0 0h1m1 0h1m0 0h1m0 0h1m0 0h1m1 0h1m0 0h1m0 0h1m0 0h1m2 0h1m0 0h1m0 0h1m0 0h1m0 0h1m2 0h1m1 0h1m1 0h1m14 0h1m1 0h1M172 302.5h1m7 0h1m2 0h1m0 0h1m0 0h1m2 0h1m0 0h1m1 0h1m1 0h1m0 0h1m1 0h1m0 0h1m0 0h1m0 0h1m0 0h1m0 0h1m2 0h1m0 0h1m0 0h1m2 0h1m0 0h1m0 0h1m0 0h1m0 0h1m0 0h1m0 0h1m0 0h1m0 0h1m0 0h1m0 0h1m0 0h1m0 0h1m5 0h1m0 0h1m1 0h1m0 0h1m1 0h1m0 0h1m0 0h1m2 0h1m2 0h1m0 0h1m0 0h1m0 0h1m0 0h1M181 303.5h1m4 0h1m0 0h1m0 0h1m0 0h1m0 0h1m2 0h1m0 0h1m0 0h1m0 0h1m0 0h1m0 0h1m1 0h1m0 0h1m0 0h1m0 0h1m1 0h1m2 0h1m0 0h1m0 0h1m0 0h1m0 0h1m0 0h1m0 0h1m0 0h1m1 0h1m0 0h1m0 0h1m0 0h1m1 0h1m0 0h1m0 0h1m0 0h1m0 0h1m0 0h1m0 0h1m0 0h1m2 0h1m1 0h1m0 0h1m0 0h1m0 0h1m1 0h1m0 0h1m0 0h1m2 0h1m0 0h1m7 0h1M176 304.5h1m0 0h1m11 0h1m0 0h1m0 0h1m0 0h1m0 0h1m1 0h1m0 0h1m0 0h1m2 0h1m0 0h1m0 0h1m0 0h1m0 0h1m0 0h1m0 0h1m0 0h1m0 0h1m1 0h1m0 0h1m0 0h1m0 0h1m1 0h1m0 0h1m1 0h1m0 0h1m0 0h1m0 0h1m0 0h1m0 0h1m0 0h1m0 0h1m2 0h1m1 0h1m0 0h1m0 0h1m0 0h1m1 0h1m0 0h1m0 0h1m0 0h1m1 0h1m0 0h1m1 0h1m0 0h1m2 0h1m0 0h1m2 0h1m2 0h1M176 305.5h1m0 0h1m4 0h1m0 0h1m1 0h1m1 0h1m0 0h1m0 0h1m1 0h1m0 0h1m1 0h1m0 0h1m0 0h1m0 0h1m0 0h1m0 0h1m1 0h1m1 0h1m1 0h1m1 0h1m1 0h1m0 0h1m0 0h1m0 0h1m0 0h1m0 0h1m0 0h1m0 0h1m1 0h1m0 0h1m0 0h1m0 0h1m0 0h1m0 0h1m0 0h1m0 0h1m1 0h1m0 0h1m0 0h1m1 0h1m0 0h1m0 0h1m0 0h1m1 0h1m0 0h1m0 0h1m0 0h1m4 0h1m0 0h1m8 0h1M173 306.5h1m3 0h1m3 0h1m2 0h1m2 0h1m0 0h1m1 0h1m0 0h1m1 0h1m0 0h1m1 0h1m0 0h1m0 0h1m0 0h1m0 0h1m0 0h1m1 0h1m0 0h1m1 0h1m0 0h1m0 0h1m0 0h1m0 0h1m0 0h1m0 0h1m1 0h1m0 0h1m0 0h1m0 0h1m0 0h1m1 0h1m0 0h1m0 0h1m0 0h1m0 0h1m0 0h1m0 0h1m0 0h1m1 0h1m0 0h1m1 0h1m0 0h1m0 0h1m0 0h1m0 0h1m0 0h1m0 0h1m1 0h1m0 0h1m0 0h1m0 0h1m0 0h1m2 0h1M176 307.5h1m2 0h1m0 0h1m0 0h1m1 0h1m1 0h1m0 0h1m0 0h1m0 0h1m0 0h1m3 0h1m0 0h1m0 0h1m0 0h1m1 0h1m0 0h1m0 0h1m0 0h1m2 0h1m0 0h1m0 0h1m0 0h1m0 0h1m0 0h1m0 0h1m0 0h1m1 0h1m1 0h1m0 0h1m0 0h1m0 0h1m0 0h1m0 0h1m1 0h1m0 0h1m0 0h1m0 0h1m2 0h1m2 0h1m0 0h1m0 0h1m1 0h1m0 0h1m0 0h1m0 0h1m0 0h1m1 0h1m0 0h1m1 0h1m0 0h1m0 0h1m0 0h1m3 0h1M175 308.5h1m1 0h1m4 0h1m0 0h1m0 0h1m0 0h1m3 0h1m0 0h1m0 0h1m0 0h1m0 0h1m0 0h1m0 0h1m0 0h1m0 0h1m0 0h1m1 0h1m2 0h1m1 0h1m0 0h1m1 0h1m0 0h1m2 0h1m1 0h1m0 0h1m0 0h1m0 0h1m0 0h1m1 0h1m2 0h1m0 0h1m0 0h1m0 0h1m0 0h1m1 0h1m0 0h1m1 0h1m0 0h1m0 0h1m1 0h1m1 0h1m0 0h1m0 0h1m0 0h1m0 0h1m0 0h1m1 0h1m0 0h1M176 309.5h1m0 0h1m1 0h1m1 0h1m3 0h1m0 0h1m0 0h1m1 0h1m0 0h1m0 0h1m0 0h1m1 0h1m1 0h1m0 0h1m0 0h1m0 0h1m1 0h1m3 0h1m0 0h1m0 0h1m0 0h1m0 0h1m0 0h1m0 0h1m0 0h1m0 0h1m0 0h1m0 0h1m0 0h1m0 0h1m2 0h1m0 0h1m0 0h1m0 0h1m0 0h1m0 0h1m1 0h1m0 0h1m0 0h1m0 0h1m0 0h1m0 0h1m0 0h1m1 0h1m0 0h1m0 0h1m0 0h1m1 0h1m1 0h1m1 0h1m2 0h1M173 310.5h1m1 0h1m4 0h1m2 0h1m0 0h1m2 0h1m2 0h1m1 0h1m0 0h1m0 0h1m4 0h1m0 0h1m0 0h1m0 0h1m0 0h1m0 0h1m1 0h1m0 0h1m1 0h1m0 0h1m0 0h1m1 0h1m0 0h1m0 0h1m1 0h1m0 0h1m0 0h1m0 0h1m0 0h1m1 0h1m1 0h1m1 0h1m0 0h1m0 0h1m0 0h1m0 0h1m2 0h1m1 0h1m0 0h1m0 0h1m0 0h1m0 0h1m0 0h1m0 0h1m1 0h1m0 0h1m6 0h1M173 311.5h1m7 0h1m0 0h1m0 0h1m0 0h1m3 0h1m0 0h1m0 0h1m0 0h1m0 0h1m0 0h1m0 0h1m0 0h1m0 0h1m0 0h1m1 0h1m2 0h1m0 0h1m0 0h1m0 0h1m1 0h1m0 0h1m0 0h1m0 0h1m2 0h1m0 0h1m0 0h1m0 0h1m1 0h1m0 0h1m0 0h1m0 0h1m0 0h1m0 0h1m0 0h1m0 0h1m0 0h1m0 0h1m0 0h1m0 0h1m0 0h1m0 0h1m0 0h1m0 0h1m0 0h1m0 0h1m2 0h1m0 0h1m0 0h1m0 0h1m0 0h1m1 0h1m0 0h1m1 0h1m7 0h1M179 312.5h1m1 0h1m0 0h1m3 0h1m0 0h1m0 0h1m0 0h1m2 0h1m0 0h1m1 0h1m0 0h1m0 0h1m1 0h1m0 0h1m0 0h1m0 0h1m0 0h1m0 0h1m0 0h1m2 0h1m0 0h1m0 0h1m0 0h1m0 0h1m0 0h1m0 0h1m1 0h1m0 0h1m1 0h1m1 0h1m0 0h1m0 0h1m0 0h1m0 0h1m0 0h1m1 0h1m0 0h1m0 0h1m0 0h1m0 0h1m0 0h1m1 0h1m0 0h1m2 0h1m1 0h1m0 0h1m2 0h1M175 313.5h1m2 0h1m1 0h1m2 0h1m1 0h1m0 0h1m2 0h1m0 0h1m0 0h1m1 0h1m0 0h1m0 0h1m0 0h1m1 0h1m0 0h1m0 0h1m0 0h1m0 0h1m2 0h1m0 0h1m0 0h1m0 0h1m0 0h1m0 0h1m2 0h1m2 0h1m0 0h1m0 0h1m0 0h1m0 0h1m0 0h1m0 0h1m1 0h1m0 0h1m0 0h1m0 0h1m0 0h1m1 0h1m0 0h1m0 0h1m0 0h1m0 0h1m0 0h1m0 0h1m5 0h1m0 0h1m0 0h1m0 0h1m1 0h1m3 0h1M176 314.5h1m2 0h1m6 0h1m0 0h1m0 0h1m2 0h1m0 0h1m2 0h1m0 0h1m1 0h1m0 0h1m1 0h1m1 0h1m0 0h1m0 0h1m0 0h1m1 0h1m0 0h1m0 0h1m0 0h1m2 0h1m0 0h1m0 0h1m2 0h1m0 0h1m0 0h1m0 0h1m1 0h1m0 0h1m0 0h1m0 0h1m0 0h1m2 0h1m1 0h1m2 0h1m1 0h1m0 0h1m0 0h1m0 0h1m0 0h1m0 0h1m0 0h1m4 0h1M186 315.5h1m0 0h1m0 0h1m0 0h1m1 0h1m1 0h1m0 0h1m0 0h1m0 0h1m0 0h1m1 0h1m4 0h1m1 0h1m0 0h1m0 0h1m0 0h1m0 0h1m0 0h1m0 0h1m4 0h1m0 0h1m2 0h1m1 0h1m0 0h1m0 0h1m0 0h1m0 0h1m0 0h1m1 0h1m0 0h1m1 0h1m0 0h1m0 0h1m0 0h1m0 0h1m1 0h1m0 0h1m2 0h1m1 0h1m0 0h1m0 0h1m1 0h1m2 0h1M176 316.5h1m6 0h1m1 0h1m2 0h1m0 0h1m0 0h1m0 0h1m0 0h1m1 0h1m0 0h1m0 0h1m0 0h1m0 0h1m0 0h1m0 0h1m1 0h1m0 0h1m0 0h1m0 0h1m1 0h1m0 0h1m1 0h1m0 0h1m0 0h1m0 0h1m1 0h1m1 0h1m1 0h1m0 0h1m1 0h1m0 0h1m4 0h1m0 0h1m2 0h1m0 0h1m0 0h1m0 0h1m1 0h1m0 0h1m3 0h1m0 0h1m1 0h1m6 0h1M181 317.5h1m0 0h1m0 0h1m0 0h1m0 0h1m1 0h1m1 0h1m1 0h1m0 0h1m0 0h1m0 0h1m2 0h1m1 0h1m2 0h1m1 0h1m0 0h1m0 0h1m0 0h1m1 0h1m0 0h1m0 0h1m1 0h1m0 0h1m0 0h1m0 0h1m1 0h1m0 0h1m0 0h1m1 0h1m1 0h1m0 0h1m3 0h1m0 0h1m1 0h1m0 0h1m0 0h1m0 0h1m0 0h1m0 0h1m2 0h1m1 0h1m1 0h1m5 0h1M183 318.5h1m5 0h1m4 0h1m2 0h1m4 0h1m0 0h1m1 0h1m1 0h1m0 0h1m1 0h1m0 0h1m0 0h1m0 0h1m0 0h1m0 0h1m0 0h1m3 0h1m1 0h1m0 0h1m0 0h1m0 0h1m0 0h1m0 0h1m0 0h1m0 0h1m2 0h1m1 0h1m1 0h1m0 0h1m0 0h1m0 0h1m0 0h1m0 0h1m0 0h1m1 0h1m4 0h1m3 0h1M175 319.5h1m3 0h1m3 0h1m4 0h1m0 0h1m0 0h1m0 0h1m0 0h1m3 0h1m0 0h1m1 0h1m1 0h1m1 0h1m0 0h1m3 0h1m0 0h1m7 0h1m0 0h1m0 0h1m0 0h1m0 0h1m0 0h1m3 0h1m1 0h1m0 0h1m2 0h1m0 0h1m0 0h1m0 0h1m3 0h1m0 0h1m0 0h1m0 0h1m0 0h1m1 0h1m3 0h1M169 320.5h1m6 0h1m4 0h1m4 0h1m0 0h1m4 0h1m0 0h1m0 0h1m0 0h1m1 0h1m0 0h1m0 0h1m2 0h1m1 0h1m1 0h1m4 0h1m0 0h1m0 0h1m0 0h1m0 0h1m0 0h1m2 0h1m0 0h1m2 0h1m0 0h1m2 0h1m1 0h1m3 0h1m0 0h1m0 0h1m2 0h1m1 0h1m0 0h1m1 0h1m1 0h1M188 321.5h1m1 0h1m2 0h1m0 0h1m0 0h1m5 0h1m0 0h1m0 0h1m2 0h1m1 0h1m0 0h1m0 0h1m3 0h1m0 0h1m0 0h1m1 0h1m0 0h1m0 0h1m0 0h1m0 0h1m0 0h1m0 0h1m0 0h1m0 0h1m3 0h1m2 0h1m0 0h1m0 0h1m0 0h1m0 0h1m2 0h1m0 0h1m0 0h1m0 0h1m0 0h1m5 0h1m0 0h1m8 0h1M178 322.5h1m5 0h1m4 0h1m4 0h1m9 0h1m1 0h1m3 0h1m3 0h1m2 0h1m1 0h1m0 0h1m1 0h1m0 0h1m1 0h1m1 0h1m0 0h1m0 0h1m2 0h1m0 0h1m4 0h1m2 0h1m0 0h1m4 0h1m0 0h1m0 0h1m6 0h1M180 323.5h1m2 0h1m1 0h1m0 0h1m1 0h1m0 0h1m0 0h1m3 0h1m0 0h1m0 0h1m1 0h1m0 0h1m0 0h1m7 0h1m0 0h1m2 0h1m1 0h1m0 0h1m0 0h1m0 0h1m0 0h1m0 0h1m0 0h1m1 0h1m1 0h1m1 0h1m2 0h1m3 0h1m2 0h1m1 0h1m5 0h1m11 0h1m1 0h1M185 324.5h1m0 0h1m4 0h1m0 0h1m4 0h1m1 0h1m1 0h1m1 0h1m0 0h1m0 0h1m0 0h1m0 0h1m0 0h1m0 0h1m1 0h1m2 0h1m5 0h1m2 0h1m3 0h1m3 0h1m7 0h1m0 0h1m2 0h1m0 0h1m3 0h1m1 0h1M175 325.5h1m7 0h1m1 0h1m0 0h1m0 0h1m0 0h1m2 0h1m13 0h1m0 0h1m1 0h1m0 0h1m2 0h1m1 0h1m4 0h1m0 0h1m4 0h1m0 0h1m1 0h1m0 0h1m1 0h1m2 0h1m3 0h1m0 0h1m0 0h1m0 0h1m2 0h1m5 0h1m4 0h1M177 326.5h1m12 0h1m1 0h1m1 0h1m1 0h1m10 0h1m8 0h1m0 0h1m1 0h1m0 0h1m2 0h1m1 0h1m0 0h1m0 0h1m4 0h1m1 0h1m0 0h1m2 0h1m0 0h1m2 0h1m2 0h1m12 0h1M168 327.5h1m8 0h1m6 0h1m3 0h1m6 0h1m5 0h1m4 0h1m2 0h1m0 0h1m3 0h1m2 0h1m1 0h1m1 0h1m9 0h1m0 0h1m2 0h1m0 0h1m2 0h1m3 0h1m0 0h1m0 0h1m4 0h1M176 328.5h1m6 0h1m0 0h1m1 0h1m1 0h1m1 0h1m8 0h1m0 0h1m0 0h1m0 0h1m2 0h1m0 0h1m0 0h1m0 0h1m3 0h1m5 0h1m3 0h1m0 0h1m1 0h1m0 0h1m2 0h1m4 0h1m1 0h1m3 0h1m0 0h1m4 0h1m10 0h1M127 329.5h1m50 0h1m11 0h1m5 0h1m0 0h1m1 0h1m4 0h1m1 0h1m1 0h1m0 0h1m0 0h1m7 0h1m4 0h1m4 0h1m0 0h1m2 0h1m0 0h1m1 0h1m2 0h1m2 0h1m4 0h1m1 0h1M178 330.5h1m0 0h1m1 0h1m1 0h1m8 0h1m1 0h1m5 0h1m5 0h1m2 0h1m5 0h1m0 0h1m1 0h1m6 0h1m1 0h1m1 0h1m3 0h1m0 0h1m8 0h1m0 0h1m0 0h1m0 0h1m3 0h1M194 331.5h1m0 0h1m4 0h1m11 0h1m0 0h1m0 0h1m8 0h1m0 0h1m9 0h1m4 0h1m0 0h1M180 332.5h1m11 0h1m0 0h1m0 0h1m11 0h1m1 0h1m1 0h1m13 0h1m2 0h1m10 0h1m0 0h1m2 0h1m0 0h1m2 0h1m1 0h1m0 0h1m8 0h1M178 333.5h1m1 0h1m5 0h1m4 0h1m8 0h1m8 0h1m0 0h1m3 0h1m6 0h1m1 0h1m3 0h1m2 0h1m0 0h1m5 0h1M171 334.5h1m12 0h1m17 0h1m4 0h1m5 0h1m6 0h1m1 0h1m4 0h1m5 0h1m5 0h1m0 0h1m2 0h1m0 0h1m2 0h1m2 0h1M172 335.5h1m9 0h1m3 0h1m16 0h1m0 0h1m0 0h1m5 0h1m1 0h1m9 0h1m1 0h1m0 0h1m14 0h1m0 0h1m2 0h1m0 0h1M187 336.5h1m15 0h1m8 0h1m13 0h1m3 0h1m3 0h1m0 0h1m4 0h1m2 0h1m1 0h1m0 0h1M186 337.5h1m5 0h1m1 0h1m0 0h1m0 0h1m9 0h1m2 0h1m4 0h1m21 0h1m10 0h1m0 0h1M185 338.5h1m4 0h1m5 0h1m27 0h1m0 0h1m4 0h1m1 0h1m1 0h1m2 0h1m0 0h1m6 0h1m1 0h1m2 0h1M185 339.5h1m12 0h1m4 0h1m2 0h1m9 0h1m8 0h1m4 0h1m1 0h1m3 0h1m0 0h1m1 0h1m1 0h1m1 0h1m0 0h1M168 340.5h1m7 0h1m4 0h1m7 0h1m4 0h1m7 0h1m7 0h1m2 0h1m13 0h1m4 0h1m1 0h1m1 0h1m11 0h1M178 341.5h1m15 0h1m6 0h1m1 0h1m4 0h1m1 0h1m2 0h1m14 0h1m7 0h1m0 0h1m1 0h1m1 0h1m18 0h1M194 342.5h1m15 0h1m2 0h1m12 0h1m7 0h1m4 0h1m0 0h1m8 0h1M177 343.5h1m8 0h1m2 0h1m0 0h1m4 0h1m2 0h1m0 0h1m19 0h1m12 0h1m2 0h1m4 0h1m2 0h1m1 0h1m0 0h1M180 344.5h1m6 0h1m5 0h1m6 0h1m24 0h1m10 0h1m2 0h1m2 0h1m0 0h1m0 0h1m11 0h1m1 0h1M188 345.5h1m1 0h1m31 0h1m10 0h1m1 0h1m4 0h1m1 0h1m2 0h1M178 346.5h1m41 0h1m0 0h1m1 0h1m6 0h1m1 0h1m4 0h1m1 0h1m0 0h1m1 0h1m1 0h1m12 0h1M163 347.5h1m35 0h1m8 0h1m4 0h1m0 0h1m6 0h1m1 0h1m4 0h1m1 0h1m1 0h1m1 0h1m4 0h1m3 0h1m3 0h1M191 348.5h1m35 0h1m4 0h1m0 0h1m1 0h1m0 0h1m3 0h1m0 0h1m1 0h1m0 0h1M192 349.5h1m13 0h1m11 0h1m4 0h1m15 0h1m1 0h1m1 0h1m1 0h1m0 0h1M210 350.5h1m2 0h1m1 0h1m23 0h1m1 0h1m3 0h1m2 0h1m1 0h1M195 351.5h1m3 0h1m2 0h1m4 0h1m25 0h1m3 0h1m2 0h1m5 0h1M187 352.5h1m6 0h1m8 0h1m1 0h1m3 0h1m4 0h1m3 0h1m2 0h1m1 0h1m6 0h1m0 0h1m5 0h1m0 0h1m4 0h1M175 353.5h1m1 0h1m8 0h1m0 0h1m10 0h1m7 0h1m13 0h1m9 0h1m11 0h1m0 0h1m0 0h1m0 0h1m0 0h1m0 0h1M201 354.5h1m6 0h1m7 0h1m0 0h1m1 0h1m18 0h1m0 0h1m0 0h1m0 0h1m2 0h1M171 355.5h1m30 0h1m0 0h1m8 0h1m0 0h1m0 0h1m0 0h1m4 0h1m4 0h1m3 0h1m2 0h1m5 0h1m6 0h1m3 0h1M201 356.5h1m4 0h1m2 0h1m3 0h1m0 0h1m2 0h1m0 0h1m2 0h1m1 0h1m4 0h1m0 0h1m2 0h1m0 0h1m4 0h1m0 0h1m0 0h1m1 0h1m0 0h1m3 0h1m0 0h1M185 357.5h1m5 0h1m0 0h1m0 0h1m19 0h1m2 0h1m6 0h1m2 0h1m4 0h1m1 0h1m10 0h1m0 0h1m1 0h1m0 0h1M171 358.5h1m3 0h1m24 0h1m2 0h1m4 0h1m10 0h1m2 0h1m0 0h1m0 0h1m0 0h1m2 0h1m0 0h1m2 0h1m1 0h1m2 0h1m3 0h1m0 0h1m1 0h1m0 0h1m0 0h1m0 0h1m0 0h1M187 359.5h1m10 0h1m6 0h1m0 0h1m3 0h1m2 0h1m0 0h1m0 0h1m5 0h1m5 0h1m5 0h1m0 0h1m3 0h1m4 0h1m2 0h1m0 0h1M177 360.5h1m14 0h1m14 0h1m5 0h1m7 0h1m7 0h1m2 0h1m2 0h1m2 0h1m0 0h1m2 0h1m2 0h1m0 0h1m0 0h1m4 0h1M182 361.5h1m1 0h1m0 0h1m5 0h1m16 0h1m1 0h1m8 0h1m1 0h1m2 0h1m0 0h1m3 0h1m3 0h1m0 0h1m1 0h1m1 0h1m1 0h1m0 0h1m2 0h1m1 0h1M193 362.5h1m0 0h1m10 0h1m3 0h1m2 0h1m4 0h1m5 0h1m10 0h1m5 0h1m0 0h1m0 0h1m0 0h1m0 0h1m0 0h1m1 0h1m0 0h1M182 363.5h1m9 0h1m1 0h1m3 0h1m6 0h1m6 0h1m1 0h1m3 0h1m1 0h1m5 0h1m6 0h1m0 0h1m0 0h1m4 0h1m1 0h1m1 0h1m1 0h1M179 364.5h1m14 0h1m2 0h1m6 0h1m1 0h1m0 0h1m5 0h1m0 0h1m1 0h1m0 0h1m3 0h1m0 0h1m1 0h1m0 0h1m1 0h1m2 0h1m1 0h1m0 0h1m1 0h1m1 0h1m3 0h1m1 0h1m1 0h1m3 0h1M184 365.5h1m0 0h1m12 0h1m3 0h1m0 0h1m0 0h1m2 0h1m0 0h1m5 0h1m1 0h1m4 0h1m2 0h1m3 0h1m1 0h1m1 0h1m0 0h1m2 0h1m0 0h1m0 0h1m0 0h1m3 0h1m1 0h1m0 0h1M127 366.5h1m23 0h1m20 0h1m18 0h1m5 0h1m3 0h1m5 0h1m0 0h1m1 0h1m1 0h1m1 0h1m0 0h1m2 0h1m0 0h1m0 0h1m4 0h1m1 0h1m1 0h1m0 0h1m0 0h1m0 0h1m1 0h1m0 0h1m0 0h1m0 0h1m0 0h1m0 0h1m0 0h1m1 0h1m0 0h1m1 0h1m0 0h1m0 0h1m1 0h1M150 367.5h1m15 0h1m31 0h1m3 0h1m3 0h1m5 0h1m1 0h1m0 0h1m1 0h1m7 0h1m0 0h1m0 0h1m0 0h1m1 0h1m0 0h1m4 0h1m1 0h1m0 0h1m0 0h1m1 0h1m0 0h1m0 0h1m0 0h1m1 0h1m0 0h1m0 0h1M179 368.5h1m13 0h1m3 0h1m12 0h1m4 0h1m0 0h1m8 0h1m2 0h1m1 0h1m2 0h1m2 0h1m0 0h1m0 0h1m2 0h1m0 0h1m0 0h1m0 0h1m1 0h1m1 0h1M169 369.5h1m4 0h1m7 0h1m8 0h1m2 0h1m3 0h1m5 0h1m2 0h1m0 0h1m0 0h1m1 0h1m1 0h1m5 0h1m0 0h1m0 0h1m3 0h1m0 0h1m0 0h1m0 0h1m0 0h1m1 0h1m0 0h1m0 0h1m0 0h1m1 0h1m5 0h1m3 0h1m0 0h1m0 0h1M201 370.5h1m0 0h1m3 0h1m4 0h1m4 0h1m1 0h1m3 0h1m1 0h1m3 0h1m0 0h1m0 0h1m2 0h1m1 0h1m0 0h1m0 0h1m1 0h1m0 0h1m1 0h1m0 0h1m2 0h1m0 0h1m0 0h1m0 0h1M177 371.5h1m8 0h1m0 0h1m1 0h1m2 0h1m3 0h1m1 0h1m12 0h1m0 0h1m2 0h1m7 0h1m0 0h1m0 0h1m3 0h1m2 0h1m0 0h1m0 0h1m0 0h1m3 0h1m0 0h1m0 0h1m0 0h1m1 0h1m0 0h1m0 0h1m0 0h1m2 0h1M119 372.5h1m61 0h1m6 0h1m6 0h1m1 0h1m1 0h1m0 0h1m3 0h1m0 0h1m0 0h1m10 0h1m2 0h1m3 0h1m0 0h1m2 0h1m0 0h1m0 0h1m1 0h1m0 0h1m1 0h1m1 0h1m2 0h1m0 0h1m1 0h1m1 0h1m0 0h1m0 0h1m0 0h1m0 0h1M160 373.5h1m23 0h1m2 0h1m2 0h1m5 0h1m3 0h1m0 0h1m2 0h1m2 0h1m0 0h1m0 0h1m0 0h1m0 0h1m2 0h1m0 0h1m1 0h1m1 0h1m1 0h1m0 0h1m2 0h1m0 0h1m2 0h1m0 0h1m1 0h1m1 0h1m0 0h1m0 0h1m0 0h1m0 0h1m1 0h1m1 0h1m0 0h1m0 0h1m0 0h1m0 0h1m1 0h1m0 0h1M186 374.5h1m0 0h1m6 0h1m4 0h1m4 0h1m0 0h1m1 0h1m4 0h1m0 0h1m0 0h1m0 0h1m0 0h1m1 0h1m0 0h1m0 0h1m0 0h1m3 0h1m0 0h1m0 0h1m0 0h1m1 0h1m0 0h1m0 0h1m2 0h1m2 0h1m0 0h1m1 0h1m0 0h1m1 0h1m0 0h1m1 0h1m0 0h1m0 0h1m0 0h1M165 375.5h1m25 0h1m4 0h1m1 0h1m2 0h1m0 0h1m0 0h1m0 0h1m2 0h1m2 0h1m4 0h1m0 0h1m0 0h1m2 0h1m7 0h1m1 0h1m2 0h1m0 0h1m1 0h1m0 0h1m0 0h1m0 0h1m1 0h1m0 0h1m0 0h1m0 0h1m0 0h1m0 0h1m0 0h1m1 0h1M166 376.5h1m13 0h1m7 0h1m0 0h1m12 0h1m3 0h1m1 0h1m7 0h1m0 0h1m3 0h1m2 0h1m2 0h1m0 0h1m0 0h1m0 0h1m0 0h1m1 0h1m5 0h1m0 0h1m0 0h1m0 0h1m0 0h1m0 0h1m0 0h1M135 377.5h1m51 0h1m5 0h1m9 0h1m2 0h1m0 0h1m0 0h1m2 0h1m0 0h1m0 0h1m1 0h1m4 0h1m4 0h1m0 0h1m1 0h1m1 0h1m0 0h1m0 0h1m1 0h1m0 0h1m0 0h1m0 0h1m4 0h1m0 0h1m0 0h1m0 0h1m1 0h1M172 378.5h1m3 0h1m14 0h1m0 0h1m2 0h1m3 0h1m6 0h1m1 0h1m1 0h1m7 0h1m0 0h1m0 0h1m0 0h1m5 0h1m1 0h1m0 0h1m0 0h1m0 0h1m4 0h1m0 0h1m1 0h1m0 0h1m1 0h1m2 0h1m0 0h1m0 0h1m0 0h1M175 379.5h1m7 0h1m8 0h1m8 0h1m0 0h1m0 0h1m0 0h1m1 0h1m0 0h1m0 0h1m3 0h1m0 0h1m2 0h1m0 0h1m0 0h1m0 0h1m0 0h1m4 0h1m2 0h1m0 0h1m0 0h1m2 0h1m0 0h1m2 0h1m0 0h1m0 0h1m0 0h1m0 0h1m0 0h1m0 0h1m0 0h1m0 0h1m0 0h1m1 0h1M191 380.5h1m11 0h1m1 0h1m0 0h1m1 0h1m1 0h1m5 0h1m0 0h1m0 0h1m4 0h1m0 0h1m1 0h1m0 0h1m3 0h1m2 0h1m0 0h1m0 0h1m0 0h1m0 0h1m3 0h1m0 0h1m0 0h1m0 0h1m1 0h1m0 0h1m0 0h1m1 0h1M186 381.5h1m4 0h1m5 0h1m3 0h1m0 0h1m2 0h1m0 0h1m0 0h1m0 0h1m0 0h1m1 0h1m1 0h1m2 0h1m0 0h1m1 0h1m3 0h1m0 0h1m0 0h1m0 0h1m0 0h1m1 0h1m1 0h1m2 0h1m0 0h1m0 0h1m1 0h1m1 0h1m0 0h1m1 0h1m0 0h1m0 0h1m1 0h1M205 382.5h1m2 0h1m1 0h1m4 0h1m1 0h1m0 0h1m3 0h1m0 0h1m0 0h1m1 0h1m1 0h1m2 0h1m0 0h1m1 0h1m2 0h1m0 0h1m0 0h1m0 0h1m0 0h1m0 0h1m0 0h1m0 0h1m0 0h1m1 0h1M180 383.5h1m1 0h1m3 0h1m1 0h1m0 0h1m0 0h1m5 0h1m0 0h1m2 0h1m0 0h1m1 0h1m2 0h1m0 0h1m2 0h1m0 0h1m1 0h1m0 0h1m1 0h1m5 0h1m1 0h1m1 0h1m0 0h1m0 0h1m2 0h1m1 0h1m2 0h1m0 0h1m0 0h1m1 0h1m0 0h1m2 0h1m0 0h1m0 0h1m0 0h1m9 0h1M171 384.5h1m6 0h1m10 0h1m5 0h1m3 0h1m8 0h1m0 0h1m3 0h1m5 0h1m0 0h1m1 0h1m1 0h1m1 0h1m3 0h1m1 0h1m0 0h1m0 0h1m0 0h1m0 0h1m1 0h1m0 0h1m1 0h1m0 0h1m0 0h1m0 0h1m0 0h1m0 0h1m0 0h1m0 0h1M173 385.5h1m15 0h1m0 0h1m3 0h1m6 0h1m2 0h1m5 0h1m6 0h1m2 0h1m0 0h1m0 0h1m0 0h1m3 0h1m0 0h1m0 0h1m0 0h1m0 0h1m0 0h1m0 0h1m0 0h1m1 0h1m2 0h1m0 0h1m0 0h1m0 0h1m0 0h1m0 0h1m0 0h1m0 0h1m2 0h1M186 386.5h1m4 0h1m11 0h1m3 0h1m0 0h1m0 0h1m2 0h1m0 0h1m3 0h1m3 0h1m0 0h1m0 0h1m0 0h1m0 0h1m0 0h1m0 0h1m0 0h1m0 0h1m0 0h1m2 0h1m2 0h1m1 0h1m1 0h1m0 0h1m1 0h1m0 0h1m0 0h1m0 0h1m0 0h1M167 387.5h1m3 0h1m18 0h1m3 0h1m1 0h1m5 0h1m0 0h1m0 0h1m2 0h1m6 0h1m2 0h1m0 0h1m1 0h1m0 0h1m0 0h1m0 0h1m0 0h1m0 0h1m0 0h1m0 0h1m1 0h1m2 0h1m1 0h1m0 0h1m0 0h1m0 0h1m1 0h1m0 0h1m1 0h1m2 0h1m1 0h1m0 0h1M184 388.5h1m5 0h1m1 0h1m9 0h1m1 0h1m3 0h1m1 0h1m1 0h1m0 0h1m1 0h1m2 0h1m1 0h1m0 0h1m1 0h1m0 0h1m0 0h1m3 0h1m2 0h1m1 0h1m0 0h1m0 0h1m1 0h1m0 0h1m1 0h1m1 0h1m0 0h1m0 0h1m1 0h1m0 0h1M154 389.5h1m43 0h1m4 0h1m6 0h1m2 0h1m1 0h1m0 0h1m0 0h1m0 0h1m1 0h1m2 0h1m0 0h1m0 0h1m0 0h1m2 0h1m0 0h1m0 0h1m0 0h1m0 0h1m0 0h1m0 0h1m0 0h1m0 0h1m1 0h1m0 0h1m0 0h1m0 0h1m1 0h1m0 0h1m0 0h1m2 0h1M173 390.5h1m17 0h1m5 0h1m2 0h1m0 0h1m0 0h1m4 0h1m1 0h1m0 0h1m0 0h1m4 0h1m0 0h1m3 0h1m3 0h1m0 0h1m1 0h1m2 0h1m0 0h1m2 0h1m0 0h1m0 0h1m2 0h1m2 0h1m0 0h1m1 0h1m1 0h1M148 391.5h1m34 0h1m1 0h1m8 0h1m0 0h1m0 0h1m0 0h1m0 0h1m1 0h1m1 0h1m0 0h1m1 0h1m4 0h1m3 0h1m0 0h1m2 0h1m0 0h1m0 0h1m0 0h1m0 0h1m0 0h1m5 0h1m1 0h1m2 0h1m1 0h1m0 0h1m1 0h1m0 0h1m0 0h1m1 0h1m0 0h1m0 0h1m1 0h1m0 0h1M190 392.5h1m2 0h1m0 0h1m6 0h1m0 0h1m0 0h1m3 0h1m0 0h1m0 0h1m0 0h1m0 0h1m1 0h1m4 0h1m0 0h1m0 0h1m0 0h1m0 0h1m2 0h1m0 0h1m0 0h1m4 0h1m0 0h1m0 0h1m0 0h1m0 0h1m2 0h1m0 0h1m0 0h1m0 0h1m0 0h1m0 0h1m2 0h1m1 0h1M172 393.5h1m3 0h1m19 0h1m6 0h1m1 0h1m0 0h1m0 0h1m0 0h1m8 0h1m1 0h1m2 0h1m0 0h1m0 0h1m0 0h1m0 0h1m2 0h1m1 0h1m0 0h1m1 0h1m0 0h1m1 0h1m0 0h1m0 0h1m1 0h1m1 0h1m0 0h1m0 0h1m1 0h1M179 394.5h1m2 0h1m1 0h1m22 0h1m2 0h1m1 0h1m0 0h1m0 0h1m2 0h1m0 0h1m0 0h1m1 0h1m0 0h1m1 0h1m0 0h1m4 0h1m0 0h1m0 0h1m3 0h1m1 0h1m2 0h1m0 0h1m0 0h1m0 0h1m0 0h1m0 0h1m0 0h1m0 0h1m0 0h1M160 395.5h1m21 0h1m5 0h1m5 0h1m4 0h1m0 0h1m11 0h1m4 0h1m0 0h1m5 0h1m0 0h1m0 0h1m0 0h1m0 0h1m0 0h1m0 0h1m2 0h1m0 0h1m0 0h1m0 0h1m1 0h1m0 0h1m0 0h1m0 0h1m0 0h1m1 0h1m0 0h1m0 0h1m0 0h1m0 0h1M173 396.5h1m8 0h1m1 0h1m9 0h1m8 0h1m2 0h1m11 0h1m4 0h1m1 0h1m2 0h1m1 0h1m0 0h1m0 0h1m2 0h1m1 0h1m0 0h1m0 0h1m0 0h1m0 0h1m0 0h1m0 0h1m0 0h1m0 0h1M161 397.5h1m20 0h1m3 0h1m1 0h1m3 0h1m7 0h1m5 0h1m2 0h1m0 0h1m3 0h1m1 0h1m1 0h1m1 0h1m0 0h1m0 0h1m0 0h1m1 0h1m3 0h1m1 0h1m0 0h1m0 0h1m2 0h1m2 0h1m0 0h1m0 0h1m0 0h1m0 0h1M179 398.5h1m13 0h1m6 0h1m3 0h1m1 0h1m3 0h1m3 0h1m0 0h1m1 0h1m1 0h1m2 0h1m1 0h1m0 0h1m2 0h1m2 0h1m2 0h1m3 0h1m1 0h1m1 0h1m1 0h1m1 0h1m0 0h1m0 0h1M184 399.5h1m13 0h1m4 0h1m5 0h1m1 0h1m2 0h1m3 0h1m0 0h1m3 0h1m0 0h1m0 0h1m0 0h1m1 0h1m4 0h1m1 0h1m0 0h1m1 0h1m1 0h1m0 0h1m0 0h1m0 0h1m0 0h1m0 0h1m0 0h1m1 0h1M158 400.5h1m6 0h1m5 0h1m8 0h1m9 0h1m1 0h1m6 0h1m7 0h1m12 0h1m4 0h1m8 0h1m1 0h1m0 0h1m0 0h1m0 0h1m0 0h1m2 0h1m1 0h1m1 0h1m0 0h1m0 0h1m4 0h1M162 401.5h1m14 0h1m17 0h1m2 0h1m2 0h1m5 0h1m1 0h1m2 0h1m0 0h1m5 0h1m9 0h1m1 0h1m0 0h1m2 0h1m0 0h1m2 0h1m3 0h1m2 0h1m0 0h1m0 0h1M171 402.5h1m1 0h1m20 0h1m6 0h1m8 0h1m10 0h1m4 0h1m1 0h1m0 0h1m1 0h1m0 0h1m3 0h1m0 0h1m1 0h1m0 0h1m0 0h1m0 0h1m1 0h1m1 0h1m0 0h1M179 403.5h1m1 0h1m5 0h1m2 0h1m11 0h1m3 0h1m4 0h1m4 0h1m13 0h1m11 0h1m0 0h1m3 0h1M156 404.5h1m7 0h1m7 0h1m14 0h1m6 0h1m3 0h1m16 0h1m6 0h1m3 0h1m3 0h1m0 0h1m0 0h1m4 0h1m1 0h1m1 0h1m2 0h1m1 0h1m1 0h1m0 0h1M186 405.5h1m7 0h1m5 0h1m1 0h1m13 0h1m1 0h1m5 0h1m0 0h1m4 0h1m0 0h1m1 0h1m1 0h1m1 0h1m1 0h1m3 0h1m1 0h1m2 0h1M181 406.5h1m9 0h1m7 0h1m1 0h1m0 0h1m0 0h1m2 0h1m7 0h1m0 0h1m2 0h1m1 0h1m3 0h1m1 0h1m3 0h1m0 0h1m2 0h1m5 0h1m1 0h1m17 0h1M208 407.5h1m18 0h1m2 0h1m1 0h1m0 0h1m0 0h1m1 0h1m2 0h1m0 0h1m0 0h1m1 0h1m1 0h1m1 0h1M199 408.5h1m8 0h1m6 0h1m0 0h1m4 0h1m3 0h1m6 0h1m1 0h1m0 0h1m2 0h1m3 0h1m0 0h1m0 0h1m1 0h1M195 409.5h1m8 0h1m0 0h1m2 0h1m0 0h1m5 0h1m3 0h1m1 0h1m13 0h1m0 0h1m0 0h1m1 0h1m3 0h1m1 0h1m2 0h1m0 0h1M194 410.5h1m12 0h1m1 0h1m11 0h1m1 0h1m5 0h1m3 0h1m2 0h1m4 0h1m1 0h1m3 0h1m0 0h1M186 411.5h1m3 0h1m21 0h1m0 0h1m3 0h1m1 0h1m3 0h1m1 0h1m4 0h1m11 0h1m0 0h1M178 412.5h1m4 0h1m3 0h1m11 0h1m0 0h1m2 0h1m3 0h1m2 0h1m3 0h1m3 0h1m4 0h1m2 0h1m0 0h1m7 0h1m2 0h1m0 0h1m3 0h1M158 413.5h1m42 0h1m8 0h1m6 0h1m16 0h1m0 0h1m9 0h1m3 0h1M200 414.5h1m13 0h1m2 0h1m2 0h1m9 0h1m4 0h1m1 0h1m5 0h1M132 415.5h1m54 0h1m11 0h1m14 0h1m9 0h1m0 0h1m10 0h1m4 0h1m0 0h1m0 0h1m0 0h1m0 0h1M180 416.5h1m10 0h1m22 0h1m0 0h1m10 0h1m0 0h1m7 0h1m2 0h1m0 0h1m9 0h1M207 417.5h1m10 0h1m17 0h1m3 0h1m1 0h1M210 418.5h1m12 0h1m1 0h1m21 0h1M200 419.5h1m1 0h1m10 0h1m3 0h1m1 0h1m6 0h1m2 0h1m7 0h1M205 420.5h1m9 0h1m3 0h1m12 0h1m7 0h1M184 421.5h1m12 0h1m15 0h1m5 0h1m0 0h1m12 0h1m7 0h1M176 422.5h1m41 0h1m6 0h1m6 0h1m0 0h1m2 0h1m0 0h1m18 0h1M188 423.5h1m25 0h1m3 0h1m9 0h1m16 0h1M188 424.5h1m5 0h1m12 0h1m6 0h1m24 0h1m3 0h1m3 0h1m12 0h1M189 425.5h1m46 0h1M187 426.5h1m24 0h1m16 0h1m24 0h1m1 0h1M202 427.5h1m15 0h1M204 428.5h1m33 0h1M208 429.5h1M194 430.5h1m35 0h1M223 431.5h1m27 0h1M235 432.5h1M221 433.5h1m20 0h1" stroke="#000" stroke-width="1" fill="none"/>
<path d="M402 286.5h1m6 0h1m5 0h1m7 0h1M383 287.5h1M370 288.5h1m4 0h1m4 0h1m23 0h1m3 0h1m1 0h1M375 289.5h1m11 0h1m16 0h1m1 0h1m4 0h1m4 0h1m5 0h1m1 0h1m2 0h1m14 0h1M395 290.5h1m0 0h1m3 0h1m0 0h1m14 0h1M370 291.5h1m1 0h1m4 0h1m5 0h1m1 0h1m2 0h1m1 0h1m0 0h1m4 0h1m2 0h1m6 0h1m18 0h1m3 0h1m1 0h1M364 292.5h1m9 0h1m4 0h1m4 0h1m1 0h1m0 0h1m5 0h1m7 0h1m1 0h1m4 0h1m4 0h1m2 0h1m2 0h1m0 0h1m6 0h1m0 0h1M364 293.5h1m30 0h1m8 0h1m7 0h1m1 0h1m0 0h1m2 0h1m2 0h1m0 0h1m5 0h1M375 294.5h1m4 0h1m1 0h1m3 0h1m1 0h1m6 0h1m1 0h1m3 0h1m1 0h1m2 0h1m1 0h1m0 0h1m2 0h1m0 0h1m0 0h1m0 0h1m1 0h1m2 0h1m3 0h1m5 0h1m15 0h1M366 295.5h1m4 0h1m16 0h1m0 0h1m7 0h1m2 0h1m7 0h1m1 0h1m0 0h1m4 0h1m4 0h1m1 0h1M371 296.5h1m10 0h1m1 0h1m0 0h1m1 0h1m1 0h1m2 0h1m4 0h1m7 0h1m2 0h1m5 0h1m3 0h1m4 0h1m3 0h1m5 0h1M369 297.5h1m4 0h1m6 0h1m0 0h1m5 0h1m0 0h1m0 0h1m1 0h1m2 0h1m1 0h1m2 0h1m3 0h1m1 0h1m4 0h1m10 0h1M371 298.5h1m5 0h1m10 0h1m0 0h1m1 0h1m0 0h1m2 0h1m3 0h1m1 0h1m0 0h1m2 0h1m0 0h1m1 0h1m2 0h1m2 0h1m0 0h1m1 0h1m7 0h1m0 0h1m0 0h1m2 0h1m4 0h1M365 299.5h1m6 0h1m1 0h1m2 0h1m0 0h1m0 0h1m1 0h1m0 0h1m3 0h1m4 0h1m0 0h1m0 0h1m1 0h1m1 0h1m1 0h1m0 0h1m5 0h1m0 0h1m0 0h1m1 0h1m0 0h1m0 0h1m0 0h1m1 0h1m0 0h1m1 0h1m0 0h1m0 0h1m0 0h1m1 0h1m3 0h1m10 0h1M364 300.5h1m6 0h1m4 0h1m0 0h1m3 0h1m0 0h1m5 0h1m2 0h1m1 0h1m3 0h1m0 0h1m1 0h1m0 0h1m1 0h1m0 0h1m2 0h1m0 0h1m0 0h1m0 0h1m2 0h1m0 0h1m6 0h1m3 0h1m1 0h1m0 0h1m0 0h1m0 0h1m0 0h1m2 0h1m4 0h1M363 301.5h1m17 0h1m0 0h1m0 0h1m0 0h1m5 0h1m3 0h1m3 0h1m0 0h1m4 0h1m2 0h1m1 0h1m0 0h1m2 0h1m2 0h1m0 0h1m2 0h1m2 0h1m1 0h1m5 0h1m8 0h1M372 302.5h1m3 0h1m10 0h1m0 0h1m7 0h1m1 0h1m0 0h1m1 0h1m1 0h1m1 0h1m0 0h1m0 0h1m0 0h1m0 0h1m1 0h1m0 0h1m0 0h1m5 0h1m2 0h1M376 303.5h1m6 0h1m1 0h1m3 0h1m2 0h1m2 0h1m4 0h1m0 0h1m3 0h1m1 0h1m1 0h1m1 0h1m0 0h1m0 0h1m1 0h1m1 0h1m2 0h1m0 0h1m0 0h1m0 0h1m1 0h1m1 0h1m4 0h1m0 0h1m0 0h1M363 304.5h1m3 0h1m7 0h1m2 0h1m6 0h1m0 0h1m1 0h1m0 0h1m0 0h1m4 0h1m0 0h1m3 0h1m1 0h1m2 0h1m0 0h1m1 0h1m2 0h1m1 0h1m0 0h1m0 0h1m2 0h1m0 0h1m1 0h1m1 0h1m0 0h1m0 0h1m1 0h1m0 0h1m1 0h1m3 0h1m0 0h1m2 0h1M366 305.5h1m0 0h1m9 0h1m2 0h1m3 0h1m1 0h1m0 0h1m1 0h1m1 0h1m3 0h1m0 0h1m0 0h1m0 0h1m0 0h1m3 0h1m0 0h1m0 0h1m0 0h1m0 0h1m1 0h1m0 0h1m0 0h1m0 0h1m1 0h1m1 0h1m0 0h1m4 0h1m1 0h1m2 0h1m16 0h1M369 306.5h1m6 0h1m2 0h1m1 0h1m3 0h1m1 0h1m0 0h1m1 0h1m0 0h1m0 0h1m3 0h1m2 0h1m0 0h1m0 0h1m1 0h1m0 0h1m0 0h1m2 0h1m4 0h1m0 0h1m0 0h1m0 0h1m1 0h1m0 0h1m0 0h1m1 0h1m1 0h1m5 0h1m2 0h1m2 0h1M367 307.5h1m6 0h1m2 0h1m3 0h1m3 0h1m0 0h1m3 0h1m0 0h1m2 0h1m1 0h1m1 0h1m0 0h1m0 0h1m1 0h1m2 0h1m0 0h1m1 0h1m0 0h1m1 0h1m0 0h1m0 0h1m0 0h1m2 0h1m2 0h1m0 0h1m0 0h1m1 0h1m0 0h1m0 0h1m0 0h1m1 0h1m4 0h1m3 0h1M375 308.5h1m0 0h1m1 0h1m4 0h1m0 0h1m0 0h1m0 0h1m0 0h1m3 0h1m0 0h1m4 0h1m1 0h1m0 0h1m0 0h1m0 0h1m1 0h1m0 0h1m0 0h1m0 0h1m3 0h1m0 0h1m5 0h1m4 0h1m0 0h1m6 0h1m5 0h1M367 309.5h1m14 0h1m3 0h1m0 0h1m1 0h1m0 0h1m0 0h1m0 0h1m0 0h1m2 0h1m5 0h1m0 0h1m0 0h1m0 0h1m0 0h1m0 0h1m2 0h1m0 0h1m0 0h1m2 0h1m0 0h1m0 0h1m1 0h1m0 0h1m2 0h1m9 0h1m4 0h1m1 0h1m2 0h1m2 0h1M365 310.5h1m5 0h1m0 0h1m2 0h1m1 0h1m1 0h1m0 0h1m0 0h1m1 0h1m1 0h1m0 0h1m2 0h1m4 0h1m0 0h1m1 0h1m2 0h1m2 0h1m0 0h1m0 0h1m0 0h1m1 0h1m0 0h1m3 0h1m0 0h1m0 0h1m0 0h1m0 0h1m0 0h1m0 0h1m2 0h1m0 0h1m2 0h1m0 0h1M381 311.5h1m4 0h1m3 0h1m0 0h1m2 0h1m0 0h1m0 0h1m0 0h1m1 0h1m0 0h1m0 0h1m2 0h1m2 0h1m0 0h1m1 0h1m1 0h1m0 0h1m1 0h1m0 0h1m0 0h1m2 0h1m1 0h1m3 0h1m0 0h1m0 0h1m1 0h1m0 0h1m6 0h1M358 312.5h1m16 0h1m1 0h1m3 0h1m0 0h1m0 0h1m2 0h1m3 0h1m0 0h1m0 0h1m0 0h1m0 0h1m2 0h1m0 0h1m0 0h1m0 0h1m1 0h1m0 0h1m0 0h1m1 0h1m0 0h1m1 0h1m0 0h1m0 0h1m0 0h1m0 0h1m0 0h1m0 0h1m1 0h1m0 0h1m2 0h1m2 0h1m0 0h1m0 0h1m0 0h1m3 0h1m1 0h1M365 313.5h1m1 0h1m2 0h1m15 0h1m0 0h1m0 0h1m0 0h1m0 0h1m3 0h1m0 0h1m1 0h1m0 0h1m1 0h1m0 0h1m0 0h1m0 0h1m0 0h1m0 0h1m1 0h1m1 0h1m1 0h1m0 0h1m0 0h1m2 0h1m0 0h1m1 0h1m1 0h1m3 0h1m1 0h1m0 0h1m13 0h1M363 314.5h1m2 0h1m7 0h1m0 0h1m5 0h1m2 0h1m3 0h1m3 0h1m1 0h1m1 0h1m1 0h1m0 0h1m3 0h1m2 0h1m0 0h1m4 0h1m0 0h1m1 0h1m0 0h1m0 0h1m0 0h1m4 0h1m0 0h1m12 0h1M377 315.5h1m1 0h1m0 0h1m1 0h1m1 0h1m2 0h1m2 0h1m0 0h1m2 0h1m0 0h1m0 0h1m0 0h1m0 0h1m3 0h1m0 0h1m1 0h1m0 0h1m1 0h1m2 0h1m0 0h1m0 0h1m0 0h1m1 0h1m0 0h1m3 0h1m0 0h1m0 0h1m1 0h1m0 0h1m3 0h1m3 0h1m8 0h1M379 316.5h1m2 0h1m0 0h1m2 0h1m0 0h1m0 0h1m1 0h1m4 0h1m1 0h1m0 0h1m1 0h1m0 0h1m0 0h1m0 0h1m0 0h1m0 0h1m0 0h1m0 0h1m0 0h1m1 0h1m6 0h1m2 0h1m0 0h1m1 0h1m0 0h1m0 0h1m0 0h1m0 0h1m0 0h1m0 0h1m3 0h1m2 0h1M357 317.5h1m19 0h1m6 0h1m2 0h1m0 0h1m0 0h1m1 0h1m0 0h1m0 0h1m2 0h1m0 0h1m1 0h1m2 0h1m2 0h1m0 0h1m1 0h1m1 0h1m1 0h1m1 0h1m3 0h1m3 0h1m1 0h1m4 0h1m1 0h1m0 0h1m9 0h1M359 318.5h1m17 0h1m0 0h1m1 0h1m0 0h1m3 0h1m1 0h1m0 0h1m1 0h1m1 0h1m1 0h1m0 0h1m1 0h1m3 0h1m0 0h1m0 0h1m0 0h1m0 0h1m1 0h1m1 0h1m0 0h1m0 0h1m1 0h1m0 0h1m0 0h1m0 0h1m2 0h1m0 0h1m0 0h1m0 0h1m0 0h1m4 0h1m1 0h1m0 0h1m5 0h1m4 0h1M374 319.5h1m1 0h1m3 0h1m3 0h1m0 0h1m1 0h1m3 0h1m0 0h1m1 0h1m4 0h1m1 0h1m0 0h1m0 0h1m0 0h1m5 0h1m1 0h1m4 0h1m4 0h1m3 0h1m7 0h1m3 0h1M361 320.5h1m9 0h1m1 0h1m0 0h1m8 0h1m0 0h1m1 0h1m0 0h1m0 0h1m1 0h1m0 0h1m2 0h1m1 0h1m2 0h1m0 0h1m1 0h1m3 0h1m3 0h1m2 0h1m0 0h1m0 0h1m0 0h1m1 0h1m0 0h1m3 0h1m1 0h1m1 0h1m3 0h1m11 0h1M369 321.5h1m5 0h1m4 0h1m6 0h1m2 0h1m0 0h1m0 0h1m3 0h1m1 0h1m1 0h1m4 0h1m2 0h1m1 0h1m7 0h1m0 0h1m0 0h1m2 0h1m2 0h1m3 0h1m0 0h1m1 0h1m0 0h1m11 0h1M368 322.5h1m7 0h1m0 0h1m3 0h1m0 0h1m4 0h1m2 0h1m1 0h1m0 0h1m7 0h1m0 0h1m1 0h1m3 0h1m0 0h1m0 0h1m0 0h1m2 0h1m0 0h1m1 0h1m0 0h1m2 0h1m0 0h1m1 0h1m1 0h1m2 0h1m0 0h1m2 0h1m0 0h1m4 0h1M381 323.5h1m1 0h1m1 0h1m0 0h1m0 0h1m0 0h1m4 0h1m2 0h1m1 0h1m4 0h1m0 0h1m2 0h1m0 0h1m3 0h1m2 0h1m5 0h1m1 0h1m1 0h1m2 0h1m2 0h1m13 0h1M367 324.5h1m0 0h1m12 0h1m5 0h1m0 0h1m1 0h1m0 0h1m4 0h1m2 0h1m1 0h1m0 0h1m0 0h1m0 0h1m3 0h1m11 0h1m6 0h1m6 0h1m2 0h1m3 0h1M369 325.5h1m8 0h1m1 0h1m6 0h1m1 0h1m7 0h1m1 0h1m0 0h1m8 0h1m3 0h1m0 0h1m2 0h1m5 0h1m1 0h1m0 0h1m6 0h1M383 326.5h1m5 0h1m0 0h1m1 0h1m3 0h1m0 0h1m0 0h1m4 0h1m1 0h1m4 0h1m2 0h1m8 0h1m3 0h1m3 0h1m3 0h1M360 327.5h1m6 0h1m2 0h1m2 0h1m4 0h1m3 0h1m11 0h1m3 0h1m0 0h1m4 0h1m2 0h1m0 0h1m0 0h1m0 0h1m4 0h1m6 0h1m2 0h1m0 0h1m0 0h1m0 0h1m0 0h1m2 0h1M364 328.5h1m7 0h1m0 0h1m13 0h1m1 0h1m4 0h1m5 0h1m10 0h1m1 0h1m0 0h1m0 0h1m1 0h1m0 0h1m6 0h1m1 0h1m1 0h1M379 329.5h1m10 0h1m1 0h1m0 0h1m2 0h1m5 0h1m0 0h1m13 0h1m9 0h1m1 0h1m15 0h1M367 330.5h1m17 0h1m2 0h1m3 0h1m1 0h1m3 0h1m8 0h1m5 0h1m1 0h1m7 0h1m5 0h1m4 0h1M378 331.5h1m0 0h1m0 0h1m2 0h1m1 0h1m5 0h1m6 0h1m3 0h1m4 0h1m1 0h1m15 0h1m1 0h1m0 0h1m1 0h1m0 0h1m1 0h1m0 0h1M366 332.5h1m5 0h1m3 0h1m15 0h1m8 0h1m11 0h1m0 0h1m2 0h1m7 0h1m9 0h1m0 0h1m6 0h1M373 333.5h1m0 0h1m14 0h1m3 0h1m15 0h1m0 0h1m1 0h1m7 0h1m0 0h1m10 0h1m1 0h1m1 0h1m4 0h1M376 334.5h1m1 0h1m3 0h1m7 0h1m3 0h1m1 0h1m9 0h1m4 0h1m10 0h1m10 0h1M375 335.5h1m20 0h1m10 0h1m4 0h1m8 0h1m8 0h1m1 0h1m0 0h1m4 0h1M372 336.5h1m15 0h1m8 0h1m2 0h1m21 0h1m8 0h1m4 0h1M397 337.5h1m0 0h1m24 0h1m5 0h1m0 0h1m3 0h1m1 0h1m1 0h1M368 338.5h1m4 0h1m14 0h1m2 0h1m2 0h1m1 0h1m11 0h1m0 0h1m4 0h1m17 0h1m3 0h1m4 0h1M396 339.5h1m9 0h1m15 0h1m6 0h1m5 0h1m1 0h1M369 340.5h1m3 0h1m34 0h1m18 0h1m0 0h1m6 0h1m5 0h1M410 341.5h1m20 0h1m1 0h1m4 0h1M388 342.5h1m22 0h1m9 0h1m1 0h1m5 0h1m0 0h1m4 0h1m10 0h1M374 343.5h1m32 0h1m14 0h1m0 0h1m4 0h1m4 0h1m3 0h1M381 344.5h1m18 0h1m4 0h1m2 0h1m1 0h1m0 0h1m9 0h1m7 0h1m0 0h1m2 0h1M375 345.5h1m0 0h1m0 0h1m11 0h1m4 0h1m13 0h1m0 0h1m8 0h1m10 0h1M398 346.5h1m4 0h1m8 0h1m4 0h1m9 0h1m0 0h1m2 0h1M412 347.5h1m9 0h1m2 0h1m1 0h1m0 0h1m2 0h1m1 0h1M368 348.5h1m9 0h1m34 0h1m18 0h1m1 0h1m4 0h1M361 349.5h1m28 0h1m1 0h1m0 0h1m13 0h1m0 0h1m2 0h1m4 0h1m0 0h1m15 0h1M366 350.5h1m10 0h1m23 0h1m7 0h1m15 0h1m3 0h1m4 0h1m2 0h1M297 351.5h1m64 0h1m18 0h1m17 0h1m0 0h1m9 0h1M378 352.5h1m30 0h1m20 0h1m1 0h1m1 0h1m4 0h1M396 353.5h1m7 0h1m8 0h1m1 0h1m12 0h1m0 0h1m1 0h1m1 0h1m0 0h1M381 354.5h1m14 0h1m1 0h1m20 0h1m1 0h1m5 0h1m1 0h1m0 0h1m2 0h1M387 355.5h1m1 0h1m9 0h1m0 0h1m1 0h1m3 0h1m0 0h1m5 0h1m7 0h1m13 0h1m0 0h1m1 0h1m2 0h1M380 356.5h1m4 0h1m9 0h1m18 0h1m2 0h1m8 0h1m0 0h1m1 0h1m3 0h1m2 0h1m1 0h1m0 0h1m2 0h1M370 357.5h1m5 0h1m13 0h1m11 0h1m6 0h1m1 0h1m1 0h1m1 0h1m8 0h1m1 0h1m2 0h1m4 0h1m0 0h1m1 0h1m3 0h1m0 0h1M372 358.5h1m24 0h1m3 0h1m11 0h1m8 0h1m1 0h1m1 0h1m6 0h1m0 0h1m1 0h1m1 0h1m2 0h1M357 359.5h1m26 0h1m8 0h1m10 0h1m11 0h1m1 0h1m10 0h1m2 0h1m0 0h1m0 0h1m0 0h1m1 0h1m0 0h1M352 360.5h1m37 0h1m7 0h1m20 0h1m1 0h1m3 0h1m0 0h1m5 0h1m2 0h1m3 0h1M372 361.5h1m1 0h1m18 0h1m10 0h1m2 0h1m5 0h1m7 0h1m12 0h1m0 0h1m7 0h1M367 362.5h1m21 0h1m0 0h1m2 0h1m2 0h1m5 0h1m5 0h1m2 0h1m1 0h1m1 0h1m5 0h1m0 0h1m8 0h1m0 0h1m2 0h1m2 0h1M368 363.5h1m22 0h1m2 0h1m8 0h1m11 0h1m0 0h1m15 0h1M372 364.5h1m14 0h1m7 0h1m12 0h1m5 0h1m2 0h1m4 0h1m2 0h1m0 0h1m1 0h1m7 0h1m1 0h1M351 365.5h1m29 0h1m0 0h1m14 0h1m0 0h1m0 0h1m3 0h1m1 0h1m1 0h1m4 0h1m5 0h1m1 0h1m4 0h1m4 0h1m2 0h1m1 0h1m4 0h1M379 366.5h1m18 0h1m1 0h1m3 0h1m0 0h1m0 0h1m0 0h1m9 0h1m5 0h1m5 0h1m4 0h1m2 0h1m1 0h1m1 0h1M368 367.5h1m13 0h1m8 0h1m13 0h1m1 0h1m2 0h1m2 0h1m1 0h1m0 0h1m5 0h1m0 0h1m0 0h1m0 0h1m0 0h1m2 0h1m0 0h1m0 0h1m0 0h1m5 0h1m2 0h1M341 368.5h1m5 0h1m43 0h1m0 0h1m0 0h1m5 0h1m5 0h1m1 0h1m0 0h1m0 0h1m0 0h1m3 0h1m0 0h1m2 0h1m0 0h1m0 0h1m0 0h1m0 0h1m3 0h1m1 0h1m3 0h1m0 0h1m5 0h1m1 0h1m1 0h1M385 369.5h1m0 0h1m13 0h1m3 0h1m0 0h1m0 0h1m0 0h1m5 0h1m5 0h1m2 0h1m1 0h1m2 0h1m0 0h1m3 0h1m0 0h1m0 0h1m2 0h1m0 0h1m0 0h1m0 0h1M377 370.5h1m0 0h1m8 0h1m1 0h1m7 0h1m1 0h1m2 0h1m5 0h1m5 0h1m3 0h1m1 0h1m3 0h1m2 0h1m1 0h1m0 0h1m0 0h1m7 0h1M365 371.5h1m5 0h1m0 0h1m5 0h1m12 0h1m5 0h1m0 0h1m2 0h1m3 0h1m9 0h1m0 0h1m3 0h1m1 0h1m2 0h1m2 0h1m1 0h1m1 0h1m0 0h1m1 0h1m4 0h1M384 372.5h1m10 0h1m9 0h1m5 0h1m1 0h1m7 0h1m0 0h1m1 0h1m0 0h1m0 0h1m0 0h1m0 0h1m1 0h1m0 0h1m0 0h1m0 0h1m0 0h1m0 0h1m1 0h1m1 0h1M344 373.5h1m36 0h1m6 0h1m15 0h1m1 0h1m0 0h1m3 0h1m1 0h1m0 0h1m3 0h1m0 0h1m0 0h1m0 0h1m1 0h1m1 0h1m0 0h1m0 0h1m1 0h1m1 0h1m0 0h1m0 0h1m0 0h1m0 0h1m0 0h1m3 0h1m4 0h1M351 374.5h1m25 0h1m5 0h1m1 0h1m11 0h1m2 0h1m2 0h1m3 0h1m0 0h1m3 0h1m4 0h1m2 0h1m0 0h1m4 0h1m3 0h1m4 0h1m0 0h1m0 0h1m0 0h1m1 0h1m1 0h1M317 375.5h1m45 0h1m18 0h1m2 0h1m10 0h1m3 0h1m3 0h1m2 0h1m0 0h1m2 0h1m1 0h1m0 0h1m2 0h1m1 0h1m0 0h1m5 0h1m0 0h1m2 0h1m2 0h1m0 0h1m0 0h1m0 0h1m0 0h1m0 0h1m2 0h1M334 376.5h1m56 0h1m0 0h1m3 0h1m7 0h1m1 0h1m3 0h1m1 0h1m4 0h1m0 0h1m2 0h1m0 0h1m0 0h1m1 0h1m0 0h1m4 0h1m0 0h1m0 0h1m0 0h1m0 0h1m1 0h1m0 0h1M354 377.5h1m5 0h1m4 0h1m10 0h1m11 0h1m6 0h1m0 0h1m8 0h1m0 0h1m1 0h1m0 0h1m0 0h1m1 0h1m0 0h1m0 0h1m0 0h1m0 0h1m0 0h1m0 0h1m0 0h1m5 0h1m1 0h1m0 0h1m2 0h1m0 0h1m0 0h1m0 0h1m0 0h1m0 0h1m0 0h1m0 0h1m1 0h1M381 378.5h1m3 0h1m2 0h1m1 0h1m2 0h1m2 0h1m2 0h1m9 0h1m2 0h1m4 0h1m0 0h1m1 0h1m3 0h1m0 0h1m2 0h1m0 0h1m1 0h1m0 0h1m0 0h1m0 0h1m0 0h1m3 0h1m0 0h1m0 0h1M334 379.5h1m17 0h1m8 0h1m17 0h1m1 0h1m1 0h1m2 0h1m6 0h1m0 0h1m1 0h1m2 0h1m2 0h1m0 0h1m2 0h1m1 0h1m5 0h1m1 0h1m3 0h1m0 0h1m0 0h1m0 0h1m0 0h1m1 0h1m0 0h1m1 0h1m1 0h1m3 0h1m2 0h1m1 0h1m0 0h1M374 380.5h1m29 0h1m0 0h1m3 0h1m1 0h1m0 0h1m1 0h1m3 0h1m0 0h1m0 0h1m0 0h1m0 0h1m0 0h1m0 0h1m1 0h1m1 0h1m1 0h1m0 0h1m0 0h1m0 0h1m6 0h1M370 381.5h1m25 0h1m0 0h1m4 0h1m1 0h1m6 0h1m0 0h1m2 0h1m0 0h1m0 0h1m5 0h1m0 0h1m0 0h1m0 0h1m1 0h1m0 0h1m2 0h1m0 0h1m0 0h1m1 0h1m0 0h1m0 0h1m1 0h1m0 0h1M366 382.5h1m9 0h1m5 0h1m2 0h1m1 0h1m1 0h1m0 0h1m1 0h1m4 0h1m1 0h1m1 0h1m5 0h1m1 0h1m0 0h1m1 0h1m2 0h1m0 0h1m2 0h1m1 0h1m1 0h1m1 0h1m0 0h1m1 0h1m1 0h1m0 0h1m1 0h1m1 0h1m0 0h1m0 0h1m6 0h1M370 383.5h1m6 0h1m2 0h1m2 0h1m8 0h1m0 0h1m3 0h1m6 0h1m2 0h1m3 0h1m4 0h1m2 0h1m1 0h1m1 0h1m0 0h1m1 0h1m0 0h1m2 0h1m2 0h1m0 0h1m1 0h1m1 0h1m0 0h1M337 384.5h1m30 0h1m0 0h1m15 0h1m2 0h1m1 0h1m1 0h1m7 0h1m1 0h1m3 0h1m4 0h1m1 0h1m1 0h1m0 0h1m1 0h1m0 0h1m2 0h1m2 0h1m0 0h1m2 0h1m0 0h1m1 0h1m0 0h1m1 0h1m0 0h1m1 0h1m0 0h1m0 0h1M354 385.5h1m4 0h1m20 0h1m2 0h1m0 0h1m2 0h1m11 0h1m1 0h1m3 0h1m4 0h1m0 0h1m3 0h1m0 0h1m0 0h1m0 0h1m0 0h1m0 0h1m1 0h1m2 0h1m0 0h1m0 0h1m0 0h1m1 0h1m1 0h1m0 0h1m0 0h1m0 0h1m2 0h1M339 386.5h1m29 0h1m0 0h1m6 0h1m20 0h1m3 0h1m2 0h1m0 0h1m2 0h1m0 0h1m3 0h1m0 0h1m0 0h1m0 0h1m3 0h1m0 0h1m0 0h1m1 0h1m0 0h1m2 0h1m0 0h1m0 0h1m0 0h1m1 0h1m0 0h1m0 0h1m0 0h1m0 0h1m1 0h1M378 387.5h1m1 0h1m4 0h1m7 0h1m0 0h1m0 0h1m4 0h1m0 0h1m1 0h1m3 0h1m0 0h1m1 0h1m0 0h1m0 0h1m0 0h1m2 0h1m0 0h1m1 0h1m0 0h1m0 0h1m1 0h1m1 0h1m0 0h1m0 0h1m1 0h1m0 0h1m0 0h1m0 0h1m0 0h1m0 0h1m1 0h1m2 0h1M360 388.5h1m20 0h1m6 0h1m5 0h1m0 0h1m6 0h1m1 0h1m1 0h1m1 0h1m1 0h1m2 0h1m2 0h1m0 0h1m0 0h1m0 0h1m0 0h1m1 0h1m1 0h1m0 0h1m0 0h1m0 0h1m1 0h1m0 0h1m1 0h1m0 0h1m1 0h1m1 0h1m0 0h1M369 389.5h1m3 0h1m3 0h1m20 0h1m3 0h1m2 0h1m0 0h1m1 0h1m0 0h1m5 0h1m2 0h1m0 0h1m3 0h1m0 0h1m2 0h1m0 0h1m0 0h1m0 0h1m1 0h1m0 0h1m0 0h1m0 0h1m1 0h1m0 0h1m0 0h1m0 0h1m0 0h1m4 0h1M383 390.5h1m13 0h1m4 0h1m1 0h1m2 0h1m0 0h1m0 0h1m0 0h1m0 0h1m1 0h1m0 0h1m1 0h1m3 0h1m0 0h1m0 0h1m2 0h1m0 0h1m0 0h1m2 0h1m1 0h1m1 0h1m0 0h1m1 0h1m0 0h1m1 0h1M378 391.5h1m16 0h1m7 0h1m0 0h1m0 0h1m4 0h1m0 0h1m1 0h1m1 0h1m0 0h1m0 0h1m3 0h1m2 0h1m0 0h1m1 0h1m0 0h1m0 0h1m1 0h1m1 0h1m1 0h1m1 0h1m2 0h1M379 392.5h1m5 0h1m3 0h1m4 0h1m9 0h1m0 0h1m0 0h1m1 0h1m5 0h1m0 0h1m0 0h1m1 0h1m0 0h1m0 0h1m1 0h1m0 0h1m0 0h1m0 0h1m2 0h1m0 0h1m1 0h1m0 0h1m0 0h1m0 0h1m0 0h1m0 0h1m0 0h1m1 0h1m0 0h1m0 0h1M369 393.5h1m3 0h1m5 0h1m0 0h1m2 0h1m10 0h1m3 0h1m4 0h1m5 0h1m1 0h1m1 0h1m0 0h1m1 0h1m0 0h1m4 0h1m0 0h1m3 0h1m0 0h1m0 0h1m1 0h1m2 0h1m0 0h1m0 0h1m0 0h1m0 0h1M359 394.5h1m19 0h1m10 0h1m6 0h1m9 0h1m0 0h1m0 0h1m2 0h1m1 0h1m0 0h1m1 0h1m0 0h1m0 0h1m3 0h1m0 0h1m0 0h1m0 0h1m0 0h1m0 0h1m0 0h1m0 0h1m0 0h1m0 0h1m0 0h1m0 0h1m2 0h1m0 0h1m0 0h1M386 395.5h1m4 0h1m5 0h1m1 0h1m3 0h1m7 0h1m5 0h1m0 0h1m0 0h1m0 0h1m0 0h1m0 0h1m1 0h1m3 0h1m0 0h1m1 0h1m1 0h1m4 0h1m1 0h1M372 396.5h1m4 0h1m4 0h1m16 0h1m2 0h1m2 0h1m2 0h1m4 0h1m1 0h1m6 0h1m1 0h1m0 0h1m0 0h1m1 0h1m0 0h1m1 0h1m0 0h1m0 0h1m0 0h1m1 0h1m1 0h1m0 0h1m0 0h1M372 397.5h1m1 0h1m4 0h1m1 0h1m10 0h1m7 0h1m0 0h1m0 0h1m1 0h1m1 0h1m3 0h1m2 0h1m1 0h1m0 0h1m0 0h1m0 0h1m1 0h1m1 0h1m0 0h1m1 0h1m0 0h1m0 0h1m0 0h1m0 0h1m0 0h1m1 0h1m2 0h1m0 0h1m1 0h1m0 0h1m0 0h1m2 0h1M370 398.5h1m14 0h1m21 0h1m3 0h1m1 0h1m0 0h1m1 0h1m1 0h1m0 0h1m2 0h1m2 0h1m0 0h1m0 0h1m0 0h1m1 0h1m0 0h1m0 0h1m1 0h1m0 0h1M377 399.5h1m4 0h1m6 0h1m1 0h1m6 0h1m3 0h1m1 0h1m0 0h1m1 0h1m0 0h1m2 0h1m1 0h1m0 0h1m3 0h1m0 0h1m0 0h1m0 0h1m0 0h1m1 0h1m0 0h1m0 0h1m0 0h1m0 0h1m0 0h1m0 0h1m0 0h1m0 0h1m0 0h1m0 0h1m0 0h1m0 0h1m0 0h1m0 0h1M309 400.5h1m57 0h1m11 0h1m16 0h1m19 0h1m0 0h1m2 0h1m2 0h1m1 0h1m0 0h1m1 0h1m0 0h1m0 0h1m0 0h1m4 0h1m1 0h1m0 0h1m0 0h1M367 401.5h1m3 0h1m3 0h1m30 0h1m5 0h1m0 0h1m4 0h1m3 0h1m1 0h1m0 0h1m1 0h1m4 0h1m2 0h1m0 0h1m0 0h1m0 0h1m0 0h1m0 0h1m0 0h1M368 402.5h1m2 0h1m4 0h1m3 0h1m0 0h1m7 0h1m2 0h1m7 0h1m0 0h1m0 0h1m0 0h1m12 0h1m1 0h1m0 0h1m0 0h1m4 0h1m2 0h1m2 0h1m0 0h1m0 0h1m3 0h1m1 0h1m1 0h1m1 0h1M356 403.5h1m10 0h1m20 0h1m7 0h1m3 0h1m2 0h1m6 0h1m5 0h1m1 0h1m1 0h1m0 0h1m0 0h1m1 0h1m0 0h1m5 0h1m0 0h1m3 0h1M374 404.5h1m6 0h1m5 0h1m8 0h1m10 0h1m4 0h1m0 0h1m1 0h1m4 0h1m1 0h1m2 0h1m2 0h1m1 0h1m0 0h1m0 0h1m0 0h1m0 0h1m0 0h1m1 0h1m2 0h1m0 0h1M353 405.5h1m33 0h1m2 0h1m4 0h1m0 0h1m0 0h1m6 0h1m3 0h1m3 0h1m0 0h1m5 0h1m0 0h1m1 0h1m0 0h1m0 0h1m1 0h1m0 0h1m2 0h1m0 0h1m1 0h1m0 0h1m2 0h1m0 0h1M380 406.5h1m10 0h1m11 0h1m7 0h1m0 0h1m2 0h1m1 0h1m1 0h1m3 0h1m2 0h1m0 0h1m0 0h1m0 0h1m0 0h1m1 0h1m1 0h1m6 0h1M376 407.5h1m25 0h1m0 0h1m0 0h1m2 0h1m1 0h1m2 0h1m5 0h1m6 0h1m4 0h1m0 0h1m10 0h1M408 408.5h1m1 0h1m6 0h1m1 0h1m4 0h1m1 0h1m0 0h1m2 0h1m0 0h1m9 0h1M373 409.5h1m33 0h1m0 0h1m4 0h1m1 0h1m8 0h1m0 0h1m0 0h1m0 0h1m2 0h1M378 410.5h1m12 0h1m13 0h1m8 0h1m1 0h1m0 0h1m4 0h1m0 0h1m3 0h1m4 0h1m1 0h1m2 0h1M380 411.5h1m8 0h1m13 0h1m7 0h1m0 0h1m5 0h1m0 0h1m5 0h1m1 0h1m2 0h1m4 0h1m3 0h1m0 0h1M388 412.5h1m1 0h1m8 0h1m3 0h1m11 0h1m0 0h1m13 0h1m1 0h1m2 0h1m4 0h1M363 413.5h1m10 0h1m8 0h1m12 0h1m4 0h1m9 0h1m4 0h1m0 0h1m12 0h1m1 0h1m2 0h1m3 0h1M355 414.5h1m3 0h1m1 0h1m40 0h1m8 0h1m0 0h1m0 0h1m0 0h1m2 0h1m4 0h1m9 0h1M361 415.5h1m62 0h1m4 0h1m0 0h1m2 0h1m1 0h1m3 0h1m4 0h1M388 416.5h1m17 0h1m4 0h1m3 0h1m2 0h1m10 0h1m1 0h1m8 0h1M416 417.5h1m3 0h1m7 0h1m9 0h1m1 0h1M423 418.5h1m5 0h1m3 0h1M385 419.5h1m5 0h1m6 0h1m22 0h1m3 0h1M410 420.5h1m15 0h1m2 0h1M366 421.5h1m9 0h1m25 0h1m7 0h1m24 0h1M386 422.5h1m8 0h1m42 0h1M392 424.5h1m27 0h1M376 425.5h1m38 0h1m8 0h1M360 426.5h1m40 0h1m1 0h1m0 0h1m19 0h1M440 427.5h1M397 428.5h1m4 0h1M384 429.5h1m49 0h1M412 430.5h1m20 0h1M397 431.5h1m30 0h1M412 432.5h1M423 433.5h1" stroke="#000" stroke-width="1" fill="none"/>
<text class="S" x="0.8" y="531" font-size="27.2" font-weight="bold" text-anchor="start" textLength="19.2" lengthAdjust="spacingAndGlyphs" fill="#000">C</text>
<line x1="52.6" y1="728.85" x2="255" y2="728.85" stroke="#111" stroke-width="1.3"/>
<line x1="52.6" y1="702.1" x2="255" y2="702.1" stroke="#111" stroke-width="1.3"/>
<line x1="52.6" y1="675.35" x2="255" y2="675.35" stroke="#111" stroke-width="1.3"/>
<line x1="52.6" y1="648.6" x2="255" y2="648.6" stroke="#111" stroke-width="1.3"/>
<line x1="52.6" y1="621.85" x2="255" y2="621.85" stroke="#111" stroke-width="1.3"/>
<line x1="52.6" y1="595.1" x2="255" y2="595.1" stroke="#111" stroke-width="1.3"/>
<line x1="52.6" y1="568.35" x2="255" y2="568.35" stroke="#111" stroke-width="1.3"/>
<line x1="52.6" y1="541.6" x2="255" y2="541.6" stroke="#777" stroke-width="1.1"/>
<line x1="255" y1="541.6" x2="255" y2="755.6" stroke="#777" stroke-width="1.1"/>
<rect x="66.36" y="621.85" width="39.94" height="133.75" stroke="#111" stroke-width="1.1" fill="#bebebe"/>
<line x1="86.33" y1="617.3" x2="86.33" y2="626.4" stroke="#111" stroke-width="1.2"/>
<line x1="82.33" y1="617.3" x2="90.33" y2="617.3" stroke="#111" stroke-width="1.2"/>
<line x1="82.33" y1="626.4" x2="90.33" y2="626.4" stroke="#111" stroke-width="1.2"/>
<text class="R" x="72.6" y="616.4" font-size="13.2" text-anchor="start" textLength="27.6" lengthAdjust="spacingAndGlyphs" fill="#111">n=15</text>
<rect x="133.83" y="608.48" width="39.94" height="147.12" stroke="#111" stroke-width="1.1" fill="#bebebe"/>
<line x1="153.8" y1="602.32" x2="153.8" y2="614.63" stroke="#111" stroke-width="1.2"/>
<line x1="149.8" y1="602.32" x2="157.8" y2="602.32" stroke="#111" stroke-width="1.2"/>
<line x1="149.8" y1="614.63" x2="157.8" y2="614.63" stroke="#111" stroke-width="1.2"/>
<text class="R" x="138.8" y="597.2" font-size="13.2" text-anchor="start" textLength="27.6" lengthAdjust="spacingAndGlyphs" fill="#111">n=18</text>
<rect x="201.3" y="573.7" width="39.94" height="181.9" stroke="#111" stroke-width="1.1" fill="#bebebe"/>
<line x1="221.27" y1="564.87" x2="221.27" y2="582.53" stroke="#111" stroke-width="1.2"/>
<line x1="217.27" y1="564.87" x2="225.27" y2="564.87" stroke="#111" stroke-width="1.2"/>
<line x1="217.27" y1="582.53" x2="225.27" y2="582.53" stroke="#111" stroke-width="1.2"/>
<text class="R" x="207.6" y="565.6" font-size="13.2" text-anchor="start" textLength="27.8" lengthAdjust="spacingAndGlyphs" fill="#111">n=16</text>
<line x1="52.6" y1="541.6" x2="52.6" y2="756.2" stroke="#222" stroke-width="1.4"/>
<line x1="52" y1="755.6" x2="255" y2="755.6" stroke="#222" stroke-width="1.4"/>
<line x1="49" y1="755.6" x2="52.6" y2="755.6" stroke="#222" stroke-width="1.3"/>
<line x1="49" y1="728.85" x2="52.6" y2="728.85" stroke="#222" stroke-width="1.3"/>
<line x1="49" y1="702.1" x2="52.6" y2="702.1" stroke="#222" stroke-width="1.3"/>
<line x1="49" y1="675.35" x2="52.6" y2="675.35" stroke="#222" stroke-width="1.3"/>
<line x1="49" y1="648.6" x2="52.6" y2="648.6" stroke="#222" stroke-width="1.3"/>
<line x1="49" y1="621.85" x2="52.6" y2="621.85" stroke="#222" stroke-width="1.3"/>
<line x1="49" y1="595.1" x2="52.6" y2="595.1" stroke="#222" stroke-width="1.3"/>
<line x1="49" y1="568.35" x2="52.6" y2="568.35" stroke="#222" stroke-width="1.3"/>
<line x1="49" y1="541.6" x2="52.6" y2="541.6" stroke="#222" stroke-width="1.3"/>
<line x1="52.6" y1="755.6" x2="52.6" y2="760.2" stroke="#222" stroke-width="1.3"/>
<line x1="120.07" y1="755.6" x2="120.07" y2="760.2" stroke="#222" stroke-width="1.3"/>
<line x1="187.53" y1="755.6" x2="187.53" y2="760.2" stroke="#222" stroke-width="1.3"/>
<line x1="255" y1="755.6" x2="255" y2="760.2" stroke="#222" stroke-width="1.3"/>
<text class="R" x="42.2" y="760.1" font-size="13.8" text-anchor="end" textLength="16.04" lengthAdjust="spacingAndGlyphs" fill="#1a1a1a">0.5</text>
<text class="R" x="42.2" y="733.35" font-size="13.8" text-anchor="end" textLength="16.04" lengthAdjust="spacingAndGlyphs" fill="#1a1a1a">0.6</text>
<text class="R" x="42.2" y="706.6" font-size="13.8" text-anchor="end" textLength="16.04" lengthAdjust="spacingAndGlyphs" fill="#1a1a1a">0.7</text>
<text class="R" x="42.2" y="679.85" font-size="13.8" text-anchor="end" textLength="16.04" lengthAdjust="spacingAndGlyphs" fill="#1a1a1a">0.8</text>
<text class="R" x="42.2" y="653.1" font-size="13.8" text-anchor="end" textLength="16.04" lengthAdjust="spacingAndGlyphs" fill="#1a1a1a">0.9</text>
<text class="R" x="42.2" y="626.35" font-size="13.8" text-anchor="end" textLength="6.42" lengthAdjust="spacingAndGlyphs" fill="#1a1a1a">1</text>
<text class="R" x="42.2" y="599.6" font-size="13.8" text-anchor="end" textLength="16.04" lengthAdjust="spacingAndGlyphs" fill="#1a1a1a">1.1</text>
<text class="R" x="42.2" y="572.85" font-size="13.8" text-anchor="end" textLength="16.04" lengthAdjust="spacingAndGlyphs" fill="#1a1a1a">1.2</text>
<text class="R" x="42.2" y="546.1" font-size="13.8" text-anchor="end" textLength="16.04" lengthAdjust="spacingAndGlyphs" fill="#1a1a1a">1.3</text>
<line x1="311.4" y1="720.53" x2="516.6" y2="720.53" stroke="#111" stroke-width="1.3"/>
<line x1="311.4" y1="684.47" x2="516.6" y2="684.47" stroke="#111" stroke-width="1.3"/>
<line x1="311.4" y1="648.4" x2="516.6" y2="648.4" stroke="#111" stroke-width="1.3"/>
<line x1="311.4" y1="612.33" x2="516.6" y2="612.33" stroke="#111" stroke-width="1.3"/>
<line x1="311.4" y1="576.27" x2="516.6" y2="576.27" stroke="#111" stroke-width="1.3"/>
<line x1="311.4" y1="540.2" x2="516.6" y2="540.2" stroke="#777" stroke-width="1.1"/>
<line x1="516.6" y1="540.2" x2="516.6" y2="756.6" stroke="#777" stroke-width="1.1"/>
<rect x="325.35" y="576.27" width="40.49" height="180.33" stroke="#111" stroke-width="1.1" fill="#6c6c6c"/>
<line x1="345.6" y1="569.05" x2="345.6" y2="583.48" stroke="#111" stroke-width="1.2"/>
<line x1="341.6" y1="569.05" x2="349.6" y2="569.05" stroke="#111" stroke-width="1.2"/>
<line x1="341.6" y1="583.48" x2="349.6" y2="583.48" stroke="#111" stroke-width="1.2"/>
<text class="R" x="332.3" y="564.6" font-size="13.2" text-anchor="start" textLength="27.4" lengthAdjust="spacingAndGlyphs" fill="#111">n=15</text>
<rect x="393.75" y="601.51" width="40.49" height="155.09" stroke="#111" stroke-width="1.1" fill="#6c6c6c"/>
<line x1="414" y1="586.37" x2="414" y2="616.66" stroke="#111" stroke-width="1.2"/>
<line x1="410" y1="586.37" x2="418" y2="586.37" stroke="#111" stroke-width="1.2"/>
<line x1="410" y1="616.66" x2="418" y2="616.66" stroke="#111" stroke-width="1.2"/>
<text class="R" x="398.3" y="573.2" font-size="13.2" text-anchor="start" textLength="27.4" lengthAdjust="spacingAndGlyphs" fill="#111">n=18</text>
<rect x="462.15" y="657.42" width="40.49" height="99.18" stroke="#111" stroke-width="1.1" fill="#6c6c6c"/>
<line x1="482.4" y1="637.58" x2="482.4" y2="677.25" stroke="#111" stroke-width="1.2"/>
<line x1="478.4" y1="637.58" x2="486.4" y2="637.58" stroke="#111" stroke-width="1.2"/>
<line x1="478.4" y1="677.25" x2="486.4" y2="677.25" stroke="#111" stroke-width="1.2"/>
<text class="R" x="466" y="634.6" font-size="13.2" text-anchor="start" textLength="28" lengthAdjust="spacingAndGlyphs" fill="#111">n=16</text>
<line x1="311.4" y1="540.2" x2="311.4" y2="757.2" stroke="#222" stroke-width="1.4"/>
<line x1="310.8" y1="756.6" x2="516.6" y2="756.6" stroke="#222" stroke-width="1.4"/>
<line x1="307.8" y1="756.6" x2="311.4" y2="756.6" stroke="#222" stroke-width="1.3"/>
<line x1="307.8" y1="720.53" x2="311.4" y2="720.53" stroke="#222" stroke-width="1.3"/>
<line x1="307.8" y1="684.47" x2="311.4" y2="684.47" stroke="#222" stroke-width="1.3"/>
<line x1="307.8" y1="648.4" x2="311.4" y2="648.4" stroke="#222" stroke-width="1.3"/>
<line x1="307.8" y1="612.33" x2="311.4" y2="612.33" stroke="#222" stroke-width="1.3"/>
<line x1="307.8" y1="576.27" x2="311.4" y2="576.27" stroke="#222" stroke-width="1.3"/>
<line x1="307.8" y1="540.2" x2="311.4" y2="540.2" stroke="#222" stroke-width="1.3"/>
<line x1="311.4" y1="756.6" x2="311.4" y2="761.2" stroke="#222" stroke-width="1.3"/>
<line x1="379.8" y1="756.6" x2="379.8" y2="761.2" stroke="#222" stroke-width="1.3"/>
<line x1="448.2" y1="756.6" x2="448.2" y2="761.2" stroke="#222" stroke-width="1.3"/>
<line x1="516.6" y1="756.6" x2="516.6" y2="761.2" stroke="#222" stroke-width="1.3"/>
<text class="R" x="301.2" y="761.1" font-size="13.8" text-anchor="end" textLength="16.04" lengthAdjust="spacingAndGlyphs" fill="#1a1a1a">0.5</text>
<text class="R" x="301.2" y="725.03" font-size="13.8" text-anchor="end" textLength="16.04" lengthAdjust="spacingAndGlyphs" fill="#1a1a1a">0.6</text>
<text class="R" x="301.2" y="688.97" font-size="13.8" text-anchor="end" textLength="16.04" lengthAdjust="spacingAndGlyphs" fill="#1a1a1a">0.7</text>
<text class="R" x="301.2" y="652.9" font-size="13.8" text-anchor="end" textLength="16.04" lengthAdjust="spacingAndGlyphs" fill="#1a1a1a">0.8</text>
<text class="R" x="301.2" y="616.83" font-size="13.8" text-anchor="end" textLength="16.04" lengthAdjust="spacingAndGlyphs" fill="#1a1a1a">0.9</text>
<text class="R" x="301.2" y="580.77" font-size="13.8" text-anchor="end" textLength="6.42" lengthAdjust="spacingAndGlyphs" fill="#1a1a1a">1</text>
<text class="R" x="301.2" y="544.7" font-size="13.8" text-anchor="end" textLength="16.04" lengthAdjust="spacingAndGlyphs" fill="#1a1a1a">1.1</text>
<text class="S" x="20.4" y="740.8" font-size="19.6" text-anchor="start" textLength="178" lengthAdjust="spacingAndGlyphs" transform="rotate(-90 20.4 740.8)" fill="#000">Relative % DN1 cells</text>
<text class="S" x="275.3" y="739.7" font-size="19" text-anchor="start" textLength="178.6" lengthAdjust="spacingAndGlyphs" transform="rotate(-90 275.3 739.7)" fill="#000">Relative % DN2 cells</text>
<text class="R" x="66" y="778.3" font-size="13.2" text-anchor="start" textLength="46.6" lengthAdjust="spacingAndGlyphs" fill="#111">Gli3+/+</text>
<text class="R" x="134.6" y="778.3" font-size="13.2" text-anchor="start" textLength="38.6" lengthAdjust="spacingAndGlyphs" fill="#111">Gli3+/-</text>
<text class="R" x="204.2" y="778.3" font-size="13.2" text-anchor="start" textLength="35.8" lengthAdjust="spacingAndGlyphs" fill="#111">Gli3-/-</text>
<text class="R" x="325.5" y="778.3" font-size="13.2" text-anchor="start" textLength="45.8" lengthAdjust="spacingAndGlyphs" fill="#111">Gli3+/+</text>
<text class="R" x="393.7" y="778.3" font-size="13.2" text-anchor="start" textLength="40.4" lengthAdjust="spacingAndGlyphs" fill="#111">Gli3+/-</text>
<text class="R" x="464" y="778.3" font-size="13.2" text-anchor="start" textLength="37.6" lengthAdjust="spacingAndGlyphs" fill="#111">Gli3-/-</text>
<text class="S" x="2" y="828.3" font-size="27.2" font-weight="bold" text-anchor="start" textLength="19.2" lengthAdjust="spacingAndGlyphs" fill="#000">D</text>
<polygon points="32.3,864.2 49.3,864.2 40.8,846.8" fill="#000"/>
<text class="S" x="44.9" y="956.2" font-size="20.2" text-anchor="start" textLength="89.5" lengthAdjust="spacingAndGlyphs" transform="rotate(-90 44.9 956.2)" fill="#000">Cell count</text>
<line x1="40.8" y1="955.5" x2="40.8" y2="968.2" stroke="#000" stroke-width="1.7"/>
<line x1="40" y1="968.2" x2="258.8" y2="968.2" stroke="#000" stroke-width="1.7"/>
<line x1="310" y1="968.4" x2="474" y2="968.4" stroke="#000" stroke-width="1.7"/>
<polygon points="472.4,960.8 490.2,968.4 472.4,976.2" fill="#000"/>
<text class="S" x="269.3" y="979.4" font-size="19.2" text-anchor="start" textLength="35.6" lengthAdjust="spacingAndGlyphs" fill="#000">c-Kit</text>
<rect x="75.3" y="848.5" width="160.1" height="94.7" stroke="#000" stroke-width="1.2" fill="none"/>
<path d="M75.3 943.2h-3M75.3 940.6h-1.8M75.3 938h-1.8M75.3 935.4h-1.8M75.3 932.8h-1.8M75.3 930.2h-1.8M75.3 927.6h-1.8M75.3 925h-1.8M75.3 922.4h-3M75.3 919.8h-1.8M75.3 917.2h-1.8M75.3 914.6h-1.8M75.3 912h-1.8M75.3 909.4h-1.8M75.3 906.8h-1.8M75.3 904.2h-1.8M75.3 901.6h-3M75.3 899h-1.8M75.3 896.4h-1.8M75.3 893.8h-1.8M75.3 891.2h-1.8M75.3 888.6h-1.8M75.3 886h-1.8M75.3 883.4h-1.8M75.3 880.8h-3M75.3 878.2h-1.8M75.3 875.6h-1.8M75.3 873h-1.8M75.3 870.4h-1.8M75.3 867.8h-1.8M75.3 865.2h-1.8M75.3 862.6h-1.8M75.3 860h-3M75.3 857.4h-1.8M75.3 854.8h-1.8M75.3 852.2h-1.8M75.3 849.6h-1.8" stroke="#000" stroke-width="1" fill="none"/>
<path d="M75.3 943.2v3.2M87.35 943.2v1.8M94.4 943.2v1.8M99.4 943.2v1.8M103.28 943.2v1.8M106.45 943.2v1.8M109.13 943.2v1.8M111.45 943.2v1.8M113.49 943.2v1.8M115.33 943.2v3.2M127.37 943.2v1.8M134.42 943.2v1.8M139.42 943.2v1.8M143.3 943.2v1.8M146.47 943.2v1.8M149.15 943.2v1.8M151.47 943.2v1.8M153.52 943.2v1.8M155.35 943.2v3.2M167.4 943.2v1.8M174.45 943.2v1.8M179.45 943.2v1.8M183.33 943.2v1.8M186.5 943.2v1.8M189.18 943.2v1.8M191.5 943.2v1.8M193.54 943.2v1.8M195.38 943.2v3.2M207.42 943.2v1.8M214.47 943.2v1.8M219.47 943.2v1.8M223.35 943.2v1.8M226.52 943.2v1.8M229.2 943.2v1.8M231.52 943.2v1.8M233.57 943.2v1.8M235.4 943.2v3.2" stroke="#000" stroke-width="1" fill="none"/>
<text class="S" x="70.6" y="943.2" font-size="7.6" text-anchor="middle" transform="rotate(-90 70.6 943.2)" fill="#000">0</text>
<text class="S" x="70.6" y="922.4" font-size="7.6" text-anchor="middle" transform="rotate(-90 70.6 922.4)" fill="#000">2</text>
<text class="S" x="70.6" y="901.6" font-size="7.6" text-anchor="middle" transform="rotate(-90 70.6 901.6)" fill="#000">4</text>
<text class="S" x="70.6" y="880.8" font-size="7.6" text-anchor="middle" transform="rotate(-90 70.6 880.8)" fill="#000">6</text>
<text class="S" x="70.6" y="860" font-size="7.6" text-anchor="middle" transform="rotate(-90 70.6 860)" fill="#000">8</text>
<g transform="translate(69.38 953.9) scale(1.15 1)"><text class="S" x="0" y="0" font-size="8">10<tspan dy="-3.6" font-size="7.6">0</tspan></text></g>
<g transform="translate(109.41 953.9) scale(1.15 1)"><text class="S" x="0" y="0" font-size="8">10<tspan dy="-3.6" font-size="7.6">1</tspan></text></g>
<g transform="translate(149.43 953.9) scale(1.15 1)"><text class="S" x="0" y="0" font-size="8">10<tspan dy="-3.6" font-size="7.6">2</tspan></text></g>
<g transform="translate(189.46 953.9) scale(1.15 1)"><text class="S" x="0" y="0" font-size="8">10<tspan dy="-3.6" font-size="7.6">3</tspan></text></g>
<g transform="translate(229.48 953.9) scale(1.15 1)"><text class="S" x="0" y="0" font-size="8">10<tspan dy="-3.6" font-size="7.6">4</tspan></text></g>
<text class="S" x="145" y="964.6" font-size="7.4" text-anchor="start" textLength="21.6" lengthAdjust="spacingAndGlyphs" fill="#000">FL3-H</text>
<rect x="320" y="848.4" width="160" height="94.8" stroke="#000" stroke-width="1.2" fill="none"/>
<path d="M320 943.2h-3M320 938.12h-1.8M320 933.04h-1.8M320 927.96h-1.8M320 922.88h-1.8M320 917.8h-3M320 912.72h-1.8M320 907.64h-1.8M320 902.56h-1.8M320 897.48h-1.8M320 892.4h-3M320 887.32h-1.8M320 882.24h-1.8M320 877.16h-1.8M320 872.08h-1.8M320 867h-3M320 861.92h-1.8M320 856.84h-1.8M320 851.76h-1.8" stroke="#000" stroke-width="1" fill="none"/>
<path d="M320 943.2v3.2M332.04 943.2v1.8M339.08 943.2v1.8M344.08 943.2v1.8M347.96 943.2v1.8M351.13 943.2v1.8M353.8 943.2v1.8M356.12 943.2v1.8M358.17 943.2v1.8M360 943.2v3.2M372.04 943.2v1.8M379.08 943.2v1.8M384.08 943.2v1.8M387.96 943.2v1.8M391.13 943.2v1.8M393.8 943.2v1.8M396.12 943.2v1.8M398.17 943.2v1.8M400 943.2v3.2M412.04 943.2v1.8M419.08 943.2v1.8M424.08 943.2v1.8M427.96 943.2v1.8M431.13 943.2v1.8M433.8 943.2v1.8M436.12 943.2v1.8M438.17 943.2v1.8M440 943.2v3.2M452.04 943.2v1.8M459.08 943.2v1.8M464.08 943.2v1.8M467.96 943.2v1.8M471.13 943.2v1.8M473.8 943.2v1.8M476.12 943.2v1.8M478.17 943.2v1.8M480 943.2v3.2" stroke="#000" stroke-width="1" fill="none"/>
<text class="S" x="315.6" y="943.2" font-size="7.6" text-anchor="middle" transform="rotate(-90 315.6 943.2)" fill="#000">0</text>
<text class="S" x="315.6" y="917.8" font-size="7.6" text-anchor="middle" transform="rotate(-90 315.6 917.8)" fill="#000">10</text>
<text class="S" x="315.6" y="892.4" font-size="7.6" text-anchor="middle" transform="rotate(-90 315.6 892.4)" fill="#000">20</text>
<text class="S" x="315.6" y="867" font-size="7.6" text-anchor="middle" transform="rotate(-90 315.6 867)" fill="#000">30</text>
<g transform="translate(314.08 953.9) scale(1.15 1)"><text class="S" x="0" y="0" font-size="8">10<tspan dy="-3.6" font-size="7.6">0</tspan></text></g>
<g transform="translate(354.08 953.9) scale(1.15 1)"><text class="S" x="0" y="0" font-size="8">10<tspan dy="-3.6" font-size="7.6">1</tspan></text></g>
<g transform="translate(394.08 953.9) scale(1.15 1)"><text class="S" x="0" y="0" font-size="8">10<tspan dy="-3.6" font-size="7.6">2</tspan></text></g>
<g transform="translate(434.08 953.9) scale(1.15 1)"><text class="S" x="0" y="0" font-size="8">10<tspan dy="-3.6" font-size="7.6">3</tspan></text></g>
<g transform="translate(474.08 953.9) scale(1.15 1)"><text class="S" x="0" y="0" font-size="8">10<tspan dy="-3.6" font-size="7.6">4</tspan></text></g>
<text class="S" x="389.8" y="964.6" font-size="7.4" text-anchor="start" textLength="21.6" lengthAdjust="spacingAndGlyphs" fill="#000">FL3-H</text>
<path d="M75.6 943.2L75.61 943.2L76.24 932.8L76.86 943.2L77.49 943.2L78.11 943.2L78.74 943.2L79.37 943.2L79.99 943.2L80.62 943.2L81.24 943.2L81.87 943.2L82.49 943.2L83.12 943.2L83.74 943.2L84.37 943.2L84.99 943.2L85.62 943.2L86.24 943.2L86.87 943.2L87.5 943.2L88.12 943.2L88.75 943.2L89.37 943.2L90 943.2L90.62 932.8L91.25 943.2L91.87 943.2L92.5 922.4L93.12 943.2L93.75 932.8L94.37 943.2L95 943.2L95.63 943.2L96.25 943.2L96.88 943.2L97.5 943.2L98.13 943.2L98.75 943.2L99.38 943.2L100 943.2L100.63 943.2L101.25 943.2L101.88 943.2L102.5 943.2L103.13 932.8L103.76 943.2L104.38 943.2L105.01 932.8L105.63 943.2L106.26 943.2L106.88 943.2L107.51 932.8L108.13 943.2L108.76 943.2L109.38 932.8L110.01 943.2L110.63 943.2L111.26 943.2L111.89 943.2L112.51 943.2L113.14 943.2L113.76 943.2L114.39 943.2L115.01 943.2L115.64 943.2L116.26 943.2L116.89 943.2L117.51 932.8L118.14 943.2L118.76 943.2L119.39 943.2L120.02 943.2L120.64 922.4L121.27 943.2L121.89 932.8L122.52 943.2L123.14 943.2L123.77 943.2L124.39 943.2L125.02 943.2L125.64 943.2L126.27 932.8L126.89 943.2L127.52 943.2L128.15 932.8L128.77 943.2L129.4 943.2L130.02 912L130.65 943.2L131.27 932.8L131.9 943.2L132.52 943.2L133.15 943.2L133.77 943.2L134.4 943.2L135.02 943.2L135.65 932.8L136.28 943.2L136.9 943.2L137.53 932.8L138.15 943.2L138.78 943.2L139.4 943.2L140.03 943.2L140.65 943.2L141.28 932.8L141.9 943.2L142.53 943.2L143.15 922.4L143.78 943.2L144.41 943.2L145.03 901.6L145.66 943.2L146.28 943.2L146.91 922.4L147.53 943.2L148.16 943.2L148.78 943.2L149.41 943.2L150.03 932.8L150.66 943.2L151.28 932.8L151.91 943.2L152.54 943.2L153.16 922.4L153.79 943.2L154.41 943.2L155.04 932.8L155.66 943.2L156.29 943.2L156.91 943.2L157.54 922.4L158.16 943.2L158.79 943.2L159.42 932.8L160.04 943.2L160.67 943.2L161.29 922.4L161.92 943.2L162.54 932.8L163.17 922.4L163.79 932.8L164.42 922.4L165.04 912L165.67 932.8L166.29 932.8L166.92 901.6L167.55 922.4L168.17 922.4L168.8 891.2L169.42 901.6L170.05 880.8L170.67 891.2L171.3 870.4L171.92 912L172.55 901.6L173.17 891.2L173.8 901.6L174.42 891.2L175.05 880.8L175.68 922.4L176.3 901.6L176.93 901.6L177.55 912L178.18 922.4L178.8 870.4L179.43 901.6L180.05 880.8L180.68 870.4L181.3 870.4L181.93 848.5L182.55 880.8L183.18 860L183.81 860L184.43 860L185.06 870.4L185.68 912L186.31 880.8L186.93 912L187.56 891.2L188.18 891.2L188.81 901.6L189.43 922.4L190.06 901.6L190.68 922.4L191.31 922.4L191.94 912L192.56 922.4L193.19 912L193.81 917.2L194.44 922.4L195.06 922.4L195.69 922.4L196.31 922.4L196.94 932.8L197.56 932.8L198.19 932.8L198.81 932.8L199.44 943.2L200.07 943.2L200.69 943.2L201.32 943.2L201.94 943.2L202.57 943.2L203.19 943.2L203.82 943.2L204.44 943.2L205.07 943.2L205.69 943.2L206.32 943.2L206.94 943.2L207.57 943.2L208.2 943.2L208.82 943.2L209.45 943.2L210.07 943.2L210.7 943.2L211.32 943.2L211.95 943.2L212.57 943.2L213.2 943.2L213.82 943.2L214.45 943.2L215.07 943.2L215.7 943.2L216.33 932.8L216.95 943.2L217.58 943.2L218.2 943.2L218.83 943.2L219.45 943.2L220.08 943.2L220.7 943.2L221.33 943.2L221.95 943.2L222.58 943.2L223.2 943.2L223.83 943.2L224.46 943.2L225.08 943.2L225.71 943.2L226.33 943.2L226.96 943.2L227.58 943.2L228.21 943.2L228.83 943.2L229.46 943.2L230.08 943.2L230.71 943.2L231.33 943.2L231.96 943.2L232.59 943.2L233.21 943.2L233.84 943.2L234.46 943.2L235.09 943.2L235.1 943.2" stroke="#333" stroke-width="0.9" fill="none"/>
<path d="M320.3 943.2L320.31 907.64L320.94 922.88L321.56 938.12L322.19 930.5L322.81 922.88L323.44 940.66L324.06 943.2L324.69 943.2L325.31 940.66L325.94 943.2L326.56 940.66L327.19 940.66L327.81 940.66L328.44 938.12L329.06 940.66L329.69 938.12L330.31 940.66L330.94 940.66L331.56 943.2L332.19 943.2L332.81 940.66L333.44 935.58L334.06 940.66L334.69 940.66L335.31 935.58L335.94 940.66L336.56 940.66L337.19 938.12L337.81 940.66L338.44 940.66L339.06 943.2L339.69 943.2L340.31 938.12L340.94 943.2L341.56 938.12L342.19 943.2L342.81 938.12L343.44 940.66L344.06 940.66L344.69 938.12L345.31 933.04L345.94 940.66L346.56 940.66L347.19 933.04L347.81 938.12L348.44 943.2L349.06 940.66L349.69 935.58L350.31 940.66L350.94 943.2L351.56 943.2L352.19 938.12L352.81 935.58L353.44 940.66L354.06 940.66L354.69 938.12L355.31 943.2L355.94 935.58L356.56 940.66L357.19 938.12L357.81 938.12L358.44 935.58L359.06 930.5L359.69 940.66L360.31 935.58L360.94 938.12L361.56 935.58L362.19 933.04L362.81 943.2L363.44 938.12L364.06 938.12L364.69 940.66L365.31 943.2L365.94 940.66L366.56 940.66L367.19 943.2L367.81 935.58L368.44 938.12L369.06 938.12L369.69 938.12L370.31 943.2L370.94 938.12L371.56 927.96L372.19 938.12L372.81 927.96L373.44 935.58L374.06 933.04L374.69 927.96L375.31 927.96L375.94 935.58L376.56 935.58L377.19 930.5L377.81 933.04L378.44 930.5L379.06 933.04L379.69 935.58L380.31 930.5L380.94 922.88L381.56 933.04L382.19 927.96L382.81 933.04L383.44 933.04L384.06 925.42L384.69 927.96L385.31 930.5L385.94 940.66L386.56 938.12L387.19 925.42L387.81 933.04L388.44 922.88L389.06 930.5L389.69 933.04L390.31 927.96L390.94 938.12L391.56 927.96L392.19 927.96L392.81 920.34L393.44 933.04L394.06 930.5L394.69 927.96L395.31 930.5L395.94 930.5L396.56 912.72L397.19 935.58L397.81 920.34L398.44 927.96L399.06 925.42L399.69 927.96L400.31 930.5L400.94 927.96L401.56 925.42L402.19 912.72L402.81 925.42L403.44 922.88L404.06 897.48L404.69 922.88L405.31 917.8L405.94 889.86L406.56 905.1L407.19 892.4L407.81 894.94L408.44 872.08L409.06 887.32L409.69 879.7L410.31 867L410.94 874.62L411.56 879.7L412.19 882.24L412.81 851.76L413.44 861.92L414.06 859.38L414.69 872.08L415.31 879.7L415.94 861.92L416.56 859.38L417.19 861.92L417.81 867L418.44 854.3L419.06 882.24L419.69 872.08L420.31 889.86L420.94 867L421.56 905.1L422.19 874.62L422.81 894.94L423.44 887.32L424.06 894.94L424.69 884.78L425.31 892.4L425.94 905.1L426.56 915.26L427.19 912.72L427.81 907.64L428.44 905.1L429.06 930.5L429.69 907.64L430.31 920.34L430.94 920.34L431.56 933.04L432.19 935.58L432.81 933.04L433.44 935.58L434.06 930.5L434.69 933.04L435.31 935.58L435.94 933.04L436.56 927.96L437.19 938.12L437.81 943.2L438.44 940.66L439.06 940.66L439.69 938.12L440.31 943.2L440.94 943.2L441.56 943.2L442.19 940.66L442.81 943.2L443.44 943.2L444.06 943.2L444.69 943.2L445.31 943.2L445.94 943.2L446.56 943.2L447.19 943.2L447.81 943.2L448.44 943.2L449.06 943.2L449.69 943.2L450.31 943.2L450.94 943.2L451.56 943.2L452.19 943.2L452.81 943.2L453.44 943.2L454.06 943.2L454.69 943.2L455.31 943.2L455.94 943.2L456.56 943.2L457.19 943.2L457.81 943.2L458.44 943.2L459.06 943.2L459.69 943.2L460.31 943.2L460.94 943.2L461.56 943.2L462.19 943.2L462.81 943.2L463.44 943.2L464.06 943.2L464.69 943.2L465.31 943.2L465.94 943.2L466.56 943.2L467.19 943.2L467.81 943.2L468.44 943.2L469.06 943.2L469.69 943.2L470.31 943.2L470.94 943.2L471.56 943.2L472.19 943.2L472.81 943.2L473.44 943.2L474.06 943.2L474.69 943.2L475.31 943.2L475.94 943.2L476.56 943.2L477.19 943.2L477.81 943.2L478.44 943.2L479.06 943.2L479.69 943.2L479.7 943.2" stroke="#333" stroke-width="0.9" fill="none" stroke-linejoin="miter"/>
<line x1="135.8" y1="890.6" x2="227" y2="890.6" stroke="#222" stroke-width="1.1"/>
<line x1="135.8" y1="885" x2="135.8" y2="896.2" stroke="#222" stroke-width="1.1"/>
<line x1="227" y1="885" x2="227" y2="896.2" stroke="#222" stroke-width="1.1"/>
<line x1="380.6" y1="891.2" x2="472.2" y2="891.2" stroke="#222" stroke-width="1.1"/>
<line x1="380.6" y1="885.6" x2="380.6" y2="896.8" stroke="#222" stroke-width="1.1"/>
<line x1="472.2" y1="885.6" x2="472.2" y2="896.8" stroke="#222" stroke-width="1.1"/>
<text class="S" x="190" y="874.8" font-size="17.6" text-anchor="start" textLength="52" lengthAdjust="spacingAndGlyphs" fill="#000">91.3%</text>
<text class="S" x="430.8" y="888.1" font-size="17.4" text-anchor="start" textLength="35.8" lengthAdjust="spacingAndGlyphs" fill="#000">90%</text>
<text class="R" x="427" y="897.6" font-size="4.8" text-anchor="start" textLength="7.2" lengthAdjust="spacingAndGlyphs" fill="#000">M1</text>
<text class="S" x="134.8" y="841.6" font-size="16.2" font-weight="bold" text-anchor="start" textLength="58.8" lengthAdjust="spacingAndGlyphs" fill="#000">Gli3+/+</text>
<text class="S" x="372" y="841.6" font-size="16.2" font-weight="bold" text-anchor="start" textLength="53.6" lengthAdjust="spacingAndGlyphs" fill="#000">Gli3-/-</text>
<text class="S" x="2.2" y="1026.4" font-size="27.2" font-weight="bold" text-anchor="start" textLength="17.6" lengthAdjust="spacingAndGlyphs" fill="#000">E</text>
<rect x="168.4" y="1038.8" width="179" height="263.1" stroke="#1a1a1a" stroke-width="1.35" fill="none"/>
<line x1="168.4" y1="1184.97" x2="347.4" y2="1184.97" stroke="#111" stroke-width="2.2"/>
<line x1="163.6" y1="1301.9" x2="168.4" y2="1301.9" stroke="#111" stroke-width="1.4"/>
<text class="R" x="157.4" y="1309" font-size="16.2" text-anchor="end" fill="#111">0</text>
<line x1="163.6" y1="1272.67" x2="168.4" y2="1272.67" stroke="#111" stroke-width="1.4"/>
<text class="R" x="157.4" y="1279.77" font-size="16.2" text-anchor="end" fill="#111">.25</text>
<line x1="163.6" y1="1243.43" x2="168.4" y2="1243.43" stroke="#111" stroke-width="1.4"/>
<text class="R" x="157.4" y="1250.53" font-size="16.2" text-anchor="end" fill="#111">.5</text>
<line x1="163.6" y1="1214.2" x2="168.4" y2="1214.2" stroke="#111" stroke-width="1.4"/>
<text class="R" x="157.4" y="1221.3" font-size="16.2" text-anchor="end" fill="#111">.75</text>
<line x1="163.6" y1="1184.97" x2="168.4" y2="1184.97" stroke="#111" stroke-width="1.4"/>
<text class="R" x="157.4" y="1192.07" font-size="16.2" text-anchor="end" fill="#111">1</text>
<line x1="163.6" y1="1155.73" x2="168.4" y2="1155.73" stroke="#111" stroke-width="1.4"/>
<text class="R" x="157.4" y="1162.83" font-size="16.2" text-anchor="end" fill="#111">1.25</text>
<line x1="163.6" y1="1126.5" x2="168.4" y2="1126.5" stroke="#111" stroke-width="1.4"/>
<text class="R" x="157.4" y="1133.6" font-size="16.2" text-anchor="end" fill="#111">1.5</text>
<line x1="163.6" y1="1097.27" x2="168.4" y2="1097.27" stroke="#111" stroke-width="1.4"/>
<text class="R" x="157.4" y="1104.37" font-size="16.2" text-anchor="end" fill="#111">1.75</text>
<line x1="163.6" y1="1068.03" x2="168.4" y2="1068.03" stroke="#111" stroke-width="1.4"/>
<text class="R" x="157.4" y="1075.13" font-size="16.2" text-anchor="end" fill="#111">2</text>
<line x1="163.6" y1="1038.8" x2="168.4" y2="1038.8" stroke="#111" stroke-width="1.4"/>
<text class="R" x="157.4" y="1045.9" font-size="16.2" text-anchor="end" fill="#111">2.25</text>
<line x1="199.2" y1="1301.9" x2="199.2" y2="1306.3" stroke="#111" stroke-width="1.4"/>
<line x1="259" y1="1301.9" x2="259" y2="1306.3" stroke="#111" stroke-width="1.4"/>
<line x1="318.2" y1="1301.9" x2="318.2" y2="1306.3" stroke="#111" stroke-width="1.4"/>
<text class="R" x="117.5" y="1261" font-size="18.6" text-anchor="start" textLength="173.2" lengthAdjust="spacingAndGlyphs" transform="rotate(-90 117.5 1261)" fill="#111">Total cell relative to wt</text>
<text class="R" x="172.8" y="1323.5" font-size="16.4" text-anchor="start" textLength="52.4" lengthAdjust="spacingAndGlyphs" fill="#111">Gli3+/+</text>
<text class="R" x="233.6" y="1323.5" font-size="16.4" text-anchor="start" textLength="50.4" lengthAdjust="spacingAndGlyphs" fill="#111">Gli3+/-</text>
<text class="R" x="296" y="1323.5" font-size="16.4" text-anchor="start" textLength="44.2" lengthAdjust="spacingAndGlyphs" fill="#111">Gli3-/-</text>
<text class="R" x="227.4" y="1341.2" font-size="16.4" text-anchor="start" textLength="63.2" lengthAdjust="spacingAndGlyphs" fill="#111">Genotype</text>
<path d="M196.2 1060h6M199.2 1057v6" stroke="#111" stroke-width="1.3" fill="none"/>
<circle cx="199.2" cy="1088.5" r="2.7" fill="none" stroke="#111" stroke-width="1.3"/>
<circle cx="199.2" cy="1105" r="3.2" fill="#111"/>
<rect x="196.1" y="1133.2" width="6.2" height="6.2" fill="#111"/>
<path d="M196.5 1144.1l5.4 5.4M201.9 1144.1l-5.4 5.4" stroke="#111" stroke-width="1.3" fill="none"/>
<circle cx="199.2" cy="1177.8" r="2.7" fill="none" stroke="#111" stroke-width="1.3"/>
<path d="M196.2 1204.8h6M199.2 1201.8v6" stroke="#111" stroke-width="1.3" fill="none"/>
<path d="M196.2 1210.2h6M199.2 1207.2v6" stroke="#111" stroke-width="1.3" fill="none"/>
<rect x="196.1" y="1231.4" width="6.2" height="6.2" fill="#111"/>
<path d="M196.2 1263.2h6M199.2 1260.2v6" stroke="#111" stroke-width="1.3" fill="none"/>
<circle cx="199.2" cy="1265.8" r="3.2" fill="#111"/>
<path d="M196.5 1268.9l5.4 5.4M201.9 1268.9l-5.4 5.4" stroke="#111" stroke-width="1.3" fill="none"/>
<rect x="255.9" y="1067.7" width="6.2" height="6.2" fill="#111"/>
<rect x="255.9" y="1077.2" width="6.2" height="6.2" fill="#111"/>
<path d="M256 1127.6h6M259 1124.6v6" stroke="#111" stroke-width="1.3" fill="none"/>
<rect x="255.9" y="1151.9" width="6.2" height="6.2" fill="#111"/>
<circle cx="259" cy="1164.3" r="2.7" fill="none" stroke="#111" stroke-width="1.3"/>
<circle cx="259" cy="1178.3" r="2.7" fill="none" stroke="#111" stroke-width="1.3"/>
<path d="M256.3 1177.9l5.4 5.4M261.7 1177.9l-5.4 5.4" stroke="#111" stroke-width="1.3" fill="none"/>
<circle cx="259" cy="1198.3" r="2.7" fill="none" stroke="#111" stroke-width="1.3"/>
<circle cx="259" cy="1213.7" r="3.2" fill="#111"/>
<path d="M256.3 1214.9l5.4 5.4M261.7 1214.9l-5.4 5.4" stroke="#111" stroke-width="1.3" fill="none"/>
<path d="M256.3 1221.1l5.4 5.4M261.7 1221.1l-5.4 5.4" stroke="#111" stroke-width="1.3" fill="none"/>
<circle cx="259" cy="1228" r="2.7" fill="none" stroke="#111" stroke-width="1.3"/>
<circle cx="259" cy="1233" r="2.7" fill="none" stroke="#111" stroke-width="1.3"/>
<circle cx="259" cy="1255.7" r="2.7" fill="none" stroke="#111" stroke-width="1.3"/>
<polygon points="318.2,1084.2 322,1088 318.2,1091.8 314.4,1088" fill="none" stroke="#111" stroke-width="1.3"/>
<polygon points="318.2,1126.6 321.8,1132.6 314.6,1132.6" fill="none" stroke="#111" stroke-width="1.3" stroke-linejoin="miter"/>
<circle cx="318.2" cy="1145.5" r="3.2" fill="#111"/>
<polygon points="318.2,1154.6 321.8,1160.6 314.6,1160.6" fill="none" stroke="#111" stroke-width="1.3" stroke-linejoin="miter"/>
<path d="M315.2 1163h6M318.2 1160v6" stroke="#111" stroke-width="1.3" fill="none"/>
<rect x="315.1" y="1206.9" width="6.2" height="6.2" fill="#111"/>
<path d="M315.2 1225h6M318.2 1222v6" stroke="#111" stroke-width="1.3" fill="none"/>
<circle cx="318.2" cy="1230.7" r="3.2" fill="#111"/>
<path d="M315.2 1239.5h6M318.2 1236.5v6" stroke="#111" stroke-width="1.3" fill="none"/>
<circle cx="318.2" cy="1243.7" r="2.7" fill="none" stroke="#111" stroke-width="1.3"/>
<circle cx="318.2" cy="1253.2" r="2.7" fill="none" stroke="#111" stroke-width="1.3"/>
<rect x="315.1" y="1256.4" width="6.2" height="6.2" fill="#111"/>
<rect x="315.7" y="1283.2" width="5" height="5" fill="none" stroke="#111" stroke-width="1.3"/>
<path d="M315.5 1285.3l5.4 5.4M320.9 1285.3l-5.4 5.4" stroke="#111" stroke-width="1.3" fill="none"/>
<circle cx="367.6" cy="1097.5" r="2.56" fill="none" stroke="#111" stroke-width="1.3"/>
<text class="R" x="384.6" y="1101" font-size="13.4" text-anchor="start" textLength="26" lengthAdjust="spacingAndGlyphs" fill="#111">exp1</text>
<rect x="365.1" y="1115.97" width="5" height="5" fill="none" stroke="#111" stroke-width="1.3"/>
<text class="R" x="384.6" y="1121.97" font-size="13.4" text-anchor="start" textLength="26" lengthAdjust="spacingAndGlyphs" fill="#111">exp2</text>
<polygon points="367.6,1136.04 371.2,1142.04 364,1142.04" fill="none" stroke="#111" stroke-width="1.3" stroke-linejoin="miter"/>
<text class="R" x="384.6" y="1142.94" font-size="13.4" text-anchor="start" textLength="26" lengthAdjust="spacingAndGlyphs" fill="#111">exp3</text>
<polygon points="367.6,1156.61 371.4,1160.41 367.6,1164.21 363.8,1160.41" fill="none" stroke="#111" stroke-width="1.3"/>
<text class="R" x="384.6" y="1163.91" font-size="13.4" text-anchor="start" textLength="26" lengthAdjust="spacingAndGlyphs" fill="#111">exp4</text>
<path d="M364.6 1181.38h6M367.6 1178.38v6" stroke="#111" stroke-width="1.3" fill="none"/>
<text class="R" x="384.6" y="1184.88" font-size="13.4" text-anchor="start" textLength="26" lengthAdjust="spacingAndGlyphs" fill="#111">exp5</text>
<path d="M364.9 1199.65l5.4 5.4M370.3 1199.65l-5.4 5.4" stroke="#111" stroke-width="1.3" fill="none"/>
<text class="R" x="384.6" y="1205.85" font-size="13.4" text-anchor="start" textLength="26" lengthAdjust="spacingAndGlyphs" fill="#111">exp6</text>
<circle cx="367.6" cy="1223.32" r="3.06" fill="#111"/>
<text class="R" x="384.6" y="1226.82" font-size="13.4" text-anchor="start" textLength="26" lengthAdjust="spacingAndGlyphs" fill="#111">exp7</text>
<rect x="364.5" y="1241.19" width="6.2" height="6.2" fill="#111"/>
<text class="R" x="384.6" y="1247.79" font-size="13.4" text-anchor="start" textLength="26" lengthAdjust="spacingAndGlyphs" fill="#111">exp8</text>
</svg>
</body></html>
